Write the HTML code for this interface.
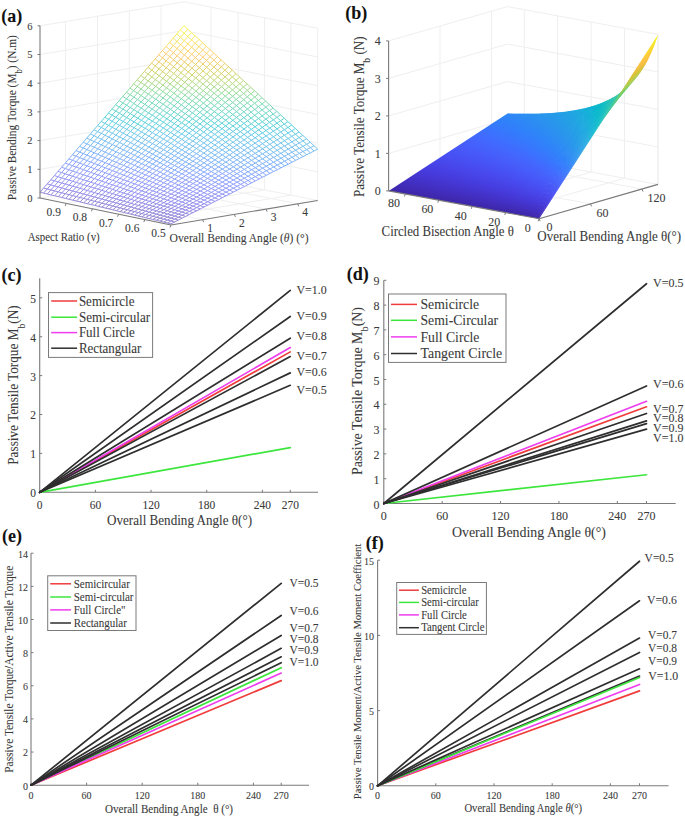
<!DOCTYPE html>
<html><head><meta charset="utf-8"><style>html,body{margin:0;padding:0;background:#fff;width:685px;height:816px;overflow:hidden}svg{display:block}</style></head><body>
<svg width="685" height="816" viewBox="0 0 685 816" font-family='"Liberation Serif", serif'>
<rect width="685" height="816" fill="#fff"/>
<g>
<polyline points="40.00,198.00 184.00,174.00 317.70,200.50" fill="none" stroke="#efefef" stroke-width="1"/>
<polyline points="40.00,169.30 184.00,145.30 317.70,171.80" fill="none" stroke="#efefef" stroke-width="1"/>
<polyline points="40.00,140.60 184.00,116.60 317.70,143.10" fill="none" stroke="#efefef" stroke-width="1"/>
<polyline points="40.00,111.90 184.00,87.90 317.70,114.40" fill="none" stroke="#efefef" stroke-width="1"/>
<polyline points="40.00,83.20 184.00,59.20 317.70,85.70" fill="none" stroke="#efefef" stroke-width="1"/>
<polyline points="40.00,54.50 184.00,30.50 317.70,57.00" fill="none" stroke="#efefef" stroke-width="1"/>
<polyline points="40.00,25.80 184.00,1.80 317.70,28.30" fill="none" stroke="#efefef" stroke-width="1"/>
<line x1="65.60" y1="193.73" x2="65.60" y2="21.53" stroke="#efefef" stroke-width="1.00"/>
<line x1="97.50" y1="188.42" x2="97.50" y2="16.22" stroke="#efefef" stroke-width="1.00"/>
<line x1="129.30" y1="183.12" x2="129.30" y2="10.92" stroke="#efefef" stroke-width="1.00"/>
<line x1="161.00" y1="177.83" x2="161.00" y2="5.63" stroke="#efefef" stroke-width="1.00"/>
<line x1="211.00" y1="179.35" x2="211.00" y2="7.15" stroke="#efefef" stroke-width="1.00"/>
<line x1="238.20" y1="184.74" x2="238.20" y2="12.54" stroke="#efefef" stroke-width="1.00"/>
<line x1="264.60" y1="189.98" x2="264.60" y2="17.78" stroke="#efefef" stroke-width="1.00"/>
<line x1="290.90" y1="195.19" x2="290.90" y2="22.99" stroke="#efefef" stroke-width="1.00"/>
<line x1="317.70" y1="200.50" x2="317.70" y2="28.30" stroke="#efefef" stroke-width="1.00"/>
<line x1="71.10" y1="192.82" x2="202.68" y2="219.71" stroke="#efefef" stroke-width="1.00"/>
<line x1="102.20" y1="187.63" x2="234.37" y2="214.42" stroke="#efefef" stroke-width="1.00"/>
<line x1="133.30" y1="182.45" x2="266.05" y2="209.13" stroke="#efefef" stroke-width="1.00"/>
<line x1="164.41" y1="177.27" x2="297.74" y2="203.83" stroke="#efefef" stroke-width="1.00"/>
<line x1="290.96" y1="195.20" x2="144.80" y2="219.60" stroke="#efefef" stroke-width="1.00"/>
<line x1="264.22" y1="189.90" x2="118.60" y2="214.20" stroke="#efefef" stroke-width="1.00"/>
<line x1="237.48" y1="184.60" x2="92.40" y2="208.80" stroke="#efefef" stroke-width="1.00"/>
<line x1="210.74" y1="179.30" x2="66.20" y2="203.40" stroke="#efefef" stroke-width="1.00"/>
<path d="M171.0 223.9L167.4 223.0L163.7 222.1L160.1 221.2L156.4 220.3L152.8 219.5L149.2 218.6L145.5 217.7L141.9 216.8L138.2 216.0L134.6 215.1L131.0 214.2L127.3 213.3L123.7 212.4L120.1 211.6L116.4 210.7L112.8 209.8L109.1 208.9L105.5 208.1L101.9 207.2L98.2 206.3L94.6 205.4L90.9 204.5L87.3 203.7L83.7 202.8L80.0 201.9L76.4 201.0L72.8 200.2L69.1 199.3L65.5 198.4L61.8 197.5L58.2 196.6L54.6 195.8L50.9 194.9L47.3 194.0L43.6 193.1L40.0 192.3L40.0 192.3L43.6 188.1L47.2 183.9L50.8 179.8L54.4 175.6L58.0 171.4L61.6 167.3L65.2 163.1L68.8 158.9L72.4 154.8L76.0 150.6L79.6 146.4L83.2 142.3L86.8 138.1L90.4 133.9L94.0 129.8L97.6 125.6L101.2 121.4L104.8 117.3L108.4 113.1L112.0 108.9L115.6 104.8L119.2 100.6L122.8 96.4L126.4 92.3L130.0 88.1L133.6 83.9L137.2 79.8L140.8 75.6L144.4 71.4L148.0 67.3L151.6 63.1L155.2 58.9L158.8 54.8L162.4 50.6L166.0 46.5L169.6 42.3L173.2 38.1L176.8 34.0L180.4 29.8L184.0 25.6L184.0 25.6L187.7 29.1L191.4 32.5L195.1 35.9L198.9 39.3L202.6 42.8L206.3 46.2L210.0 49.6L213.7 53.1L217.4 56.5L221.1 59.9L224.9 63.4L228.6 66.8L232.3 70.2L236.0 73.7L239.7 77.1L243.4 80.5L247.1 83.9L250.8 87.4L254.6 90.8L258.3 94.2L262.0 97.7L265.7 101.1L269.4 104.5L273.1 108.0L276.8 111.4L280.6 114.8L284.3 118.3L288.0 121.7L291.7 125.1L295.4 128.5L299.1 132.0L302.8 135.4L306.6 138.8L310.3 142.3L314.0 145.7L317.7 149.1L317.7 149.1L314.0 151.0L310.4 152.9L306.7 154.7L303.0 156.6L299.4 158.5L295.7 160.3L292.0 162.2L288.4 164.1L284.7 165.9L281.0 167.8L277.4 169.7L273.7 171.5L270.0 173.4L266.4 175.3L262.7 177.1L259.0 179.0L255.4 180.9L251.7 182.8L248.0 184.6L244.3 186.5L240.7 188.4L237.0 190.2L233.3 192.1L229.7 194.0L226.0 195.8L222.3 197.7L218.7 199.6L215.0 201.4L211.3 203.3L207.7 205.2L204.0 207.0L200.3 208.9L196.7 210.8L193.0 212.6L189.3 214.5L185.7 216.4L182.0 218.2L178.3 220.1L174.7 222.0L171.0 223.9Z" fill="#fff"/>
<path d="M171.0 223.9L174.7 222.0M160.1 221.2L156.4 220.3M156.4 220.3L152.8 219.5M152.8 219.5L149.2 218.6" stroke="#9588d1" stroke-width="1.00" fill="none"/>
<path d="M174.7 222.0L178.3 220.1M171.0 221.0L174.7 219.1M141.9 216.8L145.5 214.5M138.2 216.0L141.9 213.5M134.6 215.1L138.3 212.6M116.4 210.7L112.8 209.8M112.8 209.8L109.1 208.9M109.1 208.9L105.5 208.1M163.7 219.2L160.1 218.2M160.1 218.2L156.5 217.3" stroke="#9589d5" stroke-width="1.00" fill="none"/>
<path d="M178.3 220.1L182.0 218.2M152.8 216.3L156.5 214.1M112.8 209.8L116.4 206.9M109.1 208.9L112.8 206.0M83.7 202.8L80.0 201.9M80.0 201.9L76.4 201.0M76.4 201.0L72.8 200.2M141.9 213.5L138.3 212.6M138.3 212.6L134.6 211.6M171.0 218.1L167.4 217.1M167.4 217.1L163.8 216.1" stroke="#958ad8" stroke-width="1.00" fill="none"/>
<path d="M182.0 218.2L185.7 216.4M163.8 216.1L167.4 214.0M160.1 215.1L163.8 212.9M134.6 211.6L138.3 209.1M131.0 210.7L134.6 208.1M87.3 203.7L90.9 200.3M83.7 202.8L87.3 199.4M50.9 194.9L47.3 194.0M47.3 194.0L43.6 193.1M43.6 193.1L40.0 192.3M120.1 207.9L116.4 206.9M116.4 206.9L112.8 206.0M152.8 213.1L149.2 212.1M178.4 217.2L174.7 216.1M174.7 216.1L171.1 215.0" stroke="#968bdb" stroke-width="1.00" fill="none"/>
<path d="M185.7 216.4L189.3 214.5M145.6 211.1L149.2 208.6M112.8 206.0L116.4 203.0M58.2 196.6L61.8 192.8M54.6 195.8L58.2 191.9M94.6 201.3L90.9 200.3M134.6 208.1L131.0 207.0M163.8 212.9L160.1 211.8M182.0 215.2L178.4 214.1" stroke="#968cde" stroke-width="1.00" fill="none"/>
<path d="M189.3 214.5L193.0 212.6M69.1 194.7L65.4 193.7" stroke="#968ce2" stroke-width="1.00" fill="none"/>
<path d="M193.0 212.6L196.7 210.8M163.8 209.6L167.4 207.3M141.9 206.5L145.6 203.9M72.7 195.6L76.3 192.0M98.2 198.0L94.6 197.0" stroke="#968de5" stroke-width="1.00" fill="none"/>
<path d="M196.7 210.8L200.3 208.9M152.9 206.2L156.5 203.7M98.2 198.0L101.8 194.7M50.9 190.0L54.5 185.9M120.0 200.1L116.4 199.0M145.6 203.9L141.9 202.8" stroke="#968ee8" stroke-width="1.00" fill="none"/>
<path d="M200.3 208.9L204.0 207.0M189.4 208.1L193.0 206.1M160.2 204.9L163.8 202.6M141.9 202.8L145.6 200.2M116.4 199.0L120.0 196.0M83.6 194.0L87.2 190.5M105.5 195.8L101.8 194.7" stroke="#9690ea" stroke-width="1.00" fill="none"/>
<path d="M204.0 207.0L207.7 205.2M193.0 206.1L196.7 204.1M182.1 205.5L185.7 203.4M167.5 203.8L171.1 201.5M149.2 201.3L152.9 198.8M131.0 199.4L134.6 196.6M127.3 198.3L131.0 195.4M105.5 195.8L109.1 192.6M101.8 194.7L105.4 191.5M69.1 190.0L72.7 186.2M65.4 189.0L69.0 185.1M90.9 191.5L87.2 190.5M87.2 190.5L83.6 189.4M120.0 196.0L116.4 194.9M145.6 200.2L141.9 199.0M141.9 199.0L138.3 197.8M163.8 202.6L160.2 201.3M178.4 204.2L174.8 202.8M189.4 204.7L185.7 203.4" stroke="#9691ed" stroke-width="1.00" fill="none"/>
<path d="M207.7 205.2L211.3 203.3M196.7 204.1L200.4 202.1M185.7 203.4L189.4 201.2M174.8 202.8L178.4 200.6M160.2 201.3L163.8 198.9M141.9 199.0L145.6 196.3M120.0 196.0L123.7 193.0M90.9 191.5L94.5 188.1M50.8 184.9L54.4 180.8M47.2 183.9L50.8 179.8M76.3 187.2L72.7 186.2M109.1 192.6L105.4 191.5M134.6 196.6L131.0 195.4M152.9 198.8L149.2 197.5M171.1 201.5L167.5 200.2M196.7 204.1L193.0 202.7M207.7 205.2L204.0 203.7" stroke="#9692ef" stroke-width="1.00" fill="none"/>
<path d="M211.3 203.3L215.0 201.4M193.0 202.7L196.7 200.6M167.5 200.2L171.1 197.8M152.9 198.8L156.5 196.2M109.1 192.6L112.7 189.4M80.0 188.3L83.6 184.7M65.4 184.0L61.7 183.0M98.2 189.2L94.5 188.1M127.3 194.2L123.7 193.0M163.8 198.9L160.2 197.5M178.4 200.6L174.8 199.2M211.3 203.3L207.7 201.7" stroke="#9693f1" stroke-width="1.00" fill="none"/>
<path d="M215.0 201.4L218.7 199.6M204.0 200.1L207.7 198.1M196.7 200.6L200.4 198.6M185.7 199.8L189.4 197.6M171.1 197.8L174.8 195.4M156.5 196.2L160.1 193.6M141.9 195.0L145.5 192.2M123.7 193.0L127.3 190.0M120.0 191.8L123.7 188.7M98.2 189.2L101.8 185.8M94.5 188.1L98.1 184.6M65.4 184.0L69.0 180.1M61.7 183.0L65.3 179.0M87.2 185.8L83.6 184.7M83.6 184.7L79.9 183.5M112.7 189.4L109.1 188.2M134.6 192.5L131.0 191.2M152.8 194.9L149.2 193.6M167.5 196.4L163.8 195.0M182.1 198.3L178.4 196.9M193.0 199.1L189.4 197.6M204.0 200.1L200.4 198.6" stroke="#9695f3" stroke-width="1.00" fill="none"/>
<path d="M218.7 199.6L222.3 197.7M211.3 199.8L215.0 197.9M200.4 198.6L204.0 196.5M193.0 199.1L196.7 197.0M182.1 198.3L185.7 196.1M167.5 196.4L171.1 194.0M152.8 194.9L156.5 192.2M138.3 193.7L141.9 190.9M134.6 192.5L138.2 189.6M116.4 190.6L120.0 187.4M112.7 189.4L116.4 186.2M90.9 186.9L94.5 183.4M87.2 185.8L90.8 182.2M58.1 181.9L61.7 177.9M54.4 180.8L58.0 176.7M50.8 179.8L54.4 175.6M79.9 183.5L76.3 182.4M76.3 182.4L72.6 181.3M109.1 188.2L105.4 187.0M105.4 187.0L101.8 185.8M131.0 191.2L127.3 190.0M127.3 190.0L123.7 188.7M149.2 193.6L145.5 192.2M163.8 195.0L160.1 193.6M178.4 196.9L174.8 195.4M189.4 197.6L185.7 196.1M200.4 198.6L196.7 197.0M211.3 199.8L207.7 198.1M218.7 199.6L215.0 197.9" stroke="#9696f4" stroke-width="1.00" fill="none"/>
<path d="M222.3 197.7L226.0 195.8M215.0 197.9L218.7 195.9M204.0 196.5L207.7 194.4M193.0 195.4L196.7 193.2M185.7 196.1L189.4 193.8M171.1 194.0L174.8 191.5M160.1 193.6L163.8 191.1M156.5 192.2L160.1 189.6M145.5 192.2L149.2 189.5M141.9 190.9L145.5 188.1M127.3 190.0L130.9 186.9M123.7 188.7L127.3 185.6M105.4 187.0L109.1 183.7M101.8 185.8L105.4 182.4M76.3 182.4L79.9 178.6M72.6 181.3L76.2 177.4M61.7 177.9L58.0 176.7M58.0 176.7L54.4 175.6M94.5 183.4L90.8 182.2M90.8 182.2L87.2 181.0M120.0 187.4L116.4 186.2M116.4 186.2L112.7 184.9M138.2 189.6L134.6 188.3M156.5 192.2L152.8 190.9M152.8 190.9L149.2 189.5M171.1 194.0L167.4 192.5M167.4 192.5L163.8 191.1M182.1 194.6L178.4 193.0M193.0 195.4L189.4 193.8M204.0 196.5L200.4 194.9M211.4 196.2L207.7 194.4M222.3 197.7L218.7 195.9" stroke="#9698f6" stroke-width="1.00" fill="none"/>
<path d="M226.0 195.8L229.7 194.0M218.7 195.9L222.3 194.0M211.4 196.2L215.0 194.2M200.4 194.9L204.0 192.7M189.4 193.8L193.0 191.6M178.4 193.0L182.1 190.7M167.4 192.5L171.1 190.0M152.8 190.9L156.5 188.2M138.2 189.6L141.9 186.7M120.0 187.4L123.6 184.3M116.4 186.2L120.0 183.0M98.1 184.6L101.8 181.1M94.5 183.4L98.1 179.9M69.0 180.1L72.6 176.2M65.3 179.0L68.9 175.0M87.2 181.0L83.5 179.8M83.5 179.8L79.9 178.6M112.7 184.9L109.1 183.7M109.1 183.7L105.4 182.4M134.6 188.3L130.9 186.9M130.9 186.9L127.3 185.6M149.2 189.5L145.5 188.1M163.8 191.1L160.1 189.6M178.4 193.0L174.8 191.5M189.4 193.8L185.7 192.2M200.4 194.9L196.7 193.2M218.7 195.9L215.0 194.2M226.0 195.8L222.3 194.0" stroke="#9599f7" stroke-width="1.00" fill="none"/>
<path d="M229.7 194.0L233.3 192.1M222.3 194.0L226.0 192.1M109.1 183.7L112.7 180.3M54.4 175.6L58.0 171.4M101.8 181.1L98.1 179.9M123.6 184.3L120.0 183.0M141.9 186.7L138.2 185.3M171.1 190.0L167.4 188.5M204.0 192.7L200.4 191.0M229.7 194.0L226.0 192.1" stroke="#959bf8" stroke-width="1.00" fill="none"/>
<path d="M233.3 192.1L237.0 190.2M226.0 192.1L229.7 190.1M200.4 191.0L204.0 188.8M189.4 189.9L193.0 187.6M178.4 189.1L182.1 186.6M167.4 188.5L171.1 185.9M152.8 186.7L156.5 183.9M138.2 185.3L141.9 182.4M120.0 183.0L123.6 179.8M61.6 172.6L58.0 171.4M90.8 177.3L87.2 176.1M134.6 183.9L130.9 182.5M149.2 185.3L145.5 183.8M163.8 187.0L160.1 185.5M207.7 190.6L204.0 188.8M233.3 192.1L229.7 190.1" stroke="#959cfa" stroke-width="1.00" fill="none"/>
<path d="M237.0 190.2L240.7 188.4M229.7 190.1L233.3 188.2M211.3 188.5L215.0 186.4M204.0 188.8L207.7 186.7M193.0 187.6L196.7 185.3M185.7 188.3L189.4 185.9M171.1 185.9L174.7 183.4M160.1 185.5L163.8 182.8M145.5 183.8L149.2 180.9M130.9 182.5L134.5 179.5M112.7 180.3L116.3 177.0M90.8 177.3L94.4 173.7M87.2 176.1L90.8 172.4M65.3 173.8L68.9 169.8M61.6 172.6L65.3 168.5M83.5 174.8L79.9 173.6M79.9 173.6L76.2 172.3M105.4 177.7L101.7 176.3M127.3 181.1L123.6 179.8M123.6 179.8L120.0 178.4M141.9 182.4L138.2 180.9M156.5 183.9L152.8 182.4M171.1 185.9L167.4 184.3M182.1 186.6L178.4 185.0M193.0 187.6L189.4 185.9M204.0 188.8L200.4 187.1M211.3 188.5L207.7 186.7M229.7 190.1L226.0 188.2M237.0 190.2L233.3 188.2" stroke="#949efb" stroke-width="1.00" fill="none"/>
<path d="M240.7 188.4L244.3 186.5M233.3 188.2L237.0 186.3M226.0 188.2L229.7 186.2M200.4 187.1L204.0 184.8M156.5 183.9L160.1 181.2M141.9 182.4L145.5 179.4M105.4 177.7L109.0 174.2M83.5 174.8L87.1 171.0M98.1 175.0L94.4 173.7M120.0 178.4L116.3 177.0M152.8 182.4L149.2 180.9M178.4 185.0L174.7 183.4M189.4 185.9L185.7 184.2M226.0 188.2L222.3 186.2M233.3 188.2L229.7 186.2M240.7 188.4L237.0 186.3" stroke="#949ffc" stroke-width="1.00" fill="none"/>
<path d="M244.3 186.5L248.0 184.6M222.3 186.2L226.0 184.1M163.8 182.8L167.4 180.1M65.3 168.5L61.6 167.3M90.8 172.4L87.1 171.0M112.6 175.6L109.0 174.2M130.9 178.0L127.2 176.5M229.7 186.2L226.0 184.1" stroke="#93a1fc" stroke-width="1.00" fill="none"/>
<path d="M248.0 184.6L251.7 182.8M240.7 184.3L244.3 182.4M233.3 184.2L237.0 182.2M226.0 184.1L229.7 182.1M218.7 184.2L222.3 182.1M211.3 184.5L215.0 182.3M193.0 183.5L196.7 181.2M182.0 182.5L185.7 180.0M171.1 181.7L174.7 179.1M160.1 181.2L163.8 178.4M145.5 179.4L149.1 176.4M130.9 178.0L134.5 174.9M112.6 175.6L116.3 172.2M90.8 172.4L94.4 168.6M68.9 169.8L72.5 165.7M65.3 168.5L68.9 164.4M83.5 169.7L79.8 168.4M105.3 172.8L101.7 171.4M123.6 175.1L119.9 173.6M141.8 177.9L138.2 176.4M156.4 179.6L152.8 178.0M167.4 180.1L163.8 178.4M200.3 183.0L196.7 181.2M218.7 184.2L215.0 182.3M226.0 184.1L222.3 182.1M233.3 184.2L229.7 182.1M240.7 184.3L237.0 182.2M248.0 184.6L244.3 182.4" stroke="#92a2fd" stroke-width="1.00" fill="none"/>
<path d="M251.7 182.8L255.4 180.9M244.3 182.4L248.0 180.5M237.0 182.2L240.7 180.2M229.7 182.1L233.3 180.0M222.3 182.1L226.0 180.0M215.0 182.3L218.7 180.1M196.7 181.2L200.3 178.8M185.7 180.0L189.3 177.5M174.7 179.1L178.4 176.4M163.8 178.4L167.4 175.7M152.8 178.0L156.4 175.1M138.2 176.4L141.8 173.3M123.6 175.1L127.2 171.8M119.9 173.6L123.5 170.3M105.3 172.8L109.0 169.3M101.7 171.4L105.3 167.8M83.5 169.7L87.1 165.9M79.8 168.4L83.4 164.5M72.5 165.7L68.9 164.4M98.0 170.0L94.4 168.6M116.3 172.2L112.6 170.7M134.5 174.9L130.9 173.3M149.1 176.4L145.5 174.9M174.7 179.1L171.1 177.4M185.7 180.0L182.0 178.2M204.0 180.7L200.3 178.8M222.3 182.1L218.7 180.1M229.7 182.1L226.0 180.0M237.0 182.2L233.3 180.0M244.3 182.4L240.7 180.2M251.7 182.8L248.0 180.5" stroke="#91a4fe" stroke-width="1.00" fill="none"/>
<path d="M255.4 180.9L259.0 179.0M211.3 180.3L215.0 178.1M193.0 179.3L196.7 176.9M160.1 176.8L163.7 174.0M134.5 174.9L138.2 171.7M116.3 172.2L119.9 168.8M98.0 170.0L101.6 166.4M76.2 167.1L79.8 163.1M68.9 164.4L65.2 163.1M90.7 167.3L87.1 165.9M112.6 170.7L109.0 169.3M145.5 174.9L141.8 173.3M171.1 177.4L167.4 175.7M182.0 178.2L178.4 176.4M211.3 180.3L207.7 178.4M218.7 180.1L215.0 178.1M255.4 180.9L251.7 178.5" stroke="#90a5fe" stroke-width="1.00" fill="none"/>
<path d="M259.0 179.0L262.7 177.1M207.7 178.4L211.3 176.0M189.3 177.5L193.0 175.0M178.4 176.4L182.0 173.8M167.4 175.7L171.0 172.9M156.4 175.1L160.1 172.2M141.8 173.3L145.4 170.2M127.2 171.8L130.8 168.5M109.0 169.3L112.6 165.8M90.7 167.3L94.3 163.5M68.9 164.4L72.5 160.3M83.4 164.5L79.8 163.1M105.3 167.8L101.6 166.4M123.5 170.3L119.9 168.8M138.2 171.7L134.5 170.1M152.8 173.5L149.1 171.9M196.7 176.9L193.0 175.0M207.7 178.4L204.0 176.4M215.0 178.1L211.3 176.0M259.0 179.0L255.3 176.6" stroke="#8fa7fe" stroke-width="1.00" fill="none"/>
<path d="M262.7 177.1L266.4 175.3M255.3 176.6L259.0 174.7M211.3 176.0L215.0 173.7M193.0 175.0L196.6 172.5M149.1 171.9L152.7 168.8M134.5 170.1L138.1 166.9M119.9 168.8L123.5 165.4M101.6 166.4L105.3 162.7M83.4 164.5L87.0 160.6M76.1 161.7L72.5 160.3M98.0 164.9L94.3 163.5M116.2 167.3L112.6 165.8M130.8 168.5L127.2 167.0M145.4 170.2L141.8 168.6M160.1 172.2L156.4 170.5M171.0 172.9L167.4 171.1M182.0 173.8L178.3 172.0M193.0 175.0L189.3 173.1M211.3 176.0L207.6 174.0M218.6 175.8L215.0 173.7M255.3 176.6L251.7 174.2M262.7 177.1L259.0 174.7" stroke="#8da9ff" stroke-width="1.00" fill="none"/>
<path d="M266.4 175.3L270.0 173.4M200.3 174.4L204.0 172.0M145.4 170.2L149.1 167.1M98.0 164.9L101.6 161.2M127.2 167.0L123.5 165.4M189.3 173.1L185.7 171.2" stroke="#8baaff" stroke-width="1.00" fill="none"/>
<path d="M270.0 173.4L273.7 171.5M244.3 173.8L248.0 171.8M237.0 173.6L240.6 171.5M229.6 173.5L233.3 171.3M222.3 173.6L225.9 171.3M196.6 172.5L200.3 170.0M152.7 168.8L156.4 165.8M127.2 167.0L130.8 163.6M108.9 164.2L112.5 160.7M90.7 162.0L94.3 158.2M105.3 162.7L101.6 161.2M138.1 166.9L134.5 165.3M163.7 169.4L160.0 167.6M174.7 170.1L171.0 168.3M185.7 171.2L182.0 169.3M204.0 172.0L200.3 170.0M229.6 173.5L225.9 171.3M237.0 173.6L233.3 171.3M244.3 173.8L240.6 171.5M270.0 173.4L266.3 170.8" stroke="#89acff" stroke-width="1.00" fill="none"/>
<path d="M273.7 171.5L277.4 169.7M248.0 171.8L251.6 169.7M218.6 171.4L222.3 169.1M193.0 170.5L196.6 167.9M149.1 167.1L152.7 164.0M105.3 162.7L108.9 159.1M79.7 157.7L76.1 156.2M116.2 162.2L112.5 160.7M171.0 168.3L167.3 166.5M182.0 169.3L178.3 167.4M218.6 171.4L214.9 169.3M225.9 171.3L222.3 169.1M248.0 171.8L244.3 169.4M255.3 172.2L251.6 169.7" stroke="#87aefe" stroke-width="1.00" fill="none"/>
<path d="M277.4 169.7L281.0 167.8M141.7 163.7L138.1 162.0" stroke="#85b0fe" stroke-width="1.00" fill="none"/>
<path d="M281.0 167.8L284.7 165.9M270.0 168.9L273.7 166.9M262.6 168.2L266.3 166.2M203.9 167.5L207.6 164.9M185.6 166.6L189.3 163.9M152.7 164.0L156.3 161.0M141.7 163.7L145.4 160.5M127.1 162.0L130.8 158.6M112.5 160.7L116.2 157.1M94.3 158.2L97.9 154.3M72.4 154.8L76.0 150.6M87.0 155.1L83.3 153.6M105.2 157.5L101.6 155.9M123.5 160.3L119.8 158.7M138.1 162.0L134.4 160.3M163.7 164.6L160.0 162.8M174.6 165.5L171.0 163.6M185.6 166.6L182.0 164.6M203.9 167.5L200.3 165.4M270.0 168.9L266.3 166.2" stroke="#83b1fd" stroke-width="1.00" fill="none"/>
<path d="M284.7 165.9L288.4 164.1M266.3 166.2L270.0 164.2M200.3 165.4L203.9 162.8M171.0 163.6L174.6 160.7M160.0 162.8L163.6 159.8M134.4 160.3L138.0 157.0M119.8 158.7L123.4 155.2M105.2 157.5L108.8 153.8M87.0 155.1L90.6 151.2M79.7 152.1L76.0 150.6M116.2 157.1L112.5 155.4M130.8 158.6L127.1 156.9M145.4 160.5L141.7 158.7M189.3 163.9L185.6 161.9M207.6 164.9L203.9 162.8M266.3 166.2L262.6 163.6M284.7 165.9L281.0 163.1" stroke="#81b3fc" stroke-width="1.00" fill="none"/>
<path d="M288.4 164.1L292.0 162.2M277.3 165.0L281.0 163.1M251.6 165.1L255.3 163.0M214.9 164.7L218.6 162.2M189.3 163.9L192.9 161.2M178.3 162.7L181.9 159.8M156.3 161.0L160.0 157.9M145.4 160.5L149.0 157.3M130.8 158.6L134.4 155.2M116.2 157.1L119.8 153.5M101.6 155.9L105.2 152.1M83.3 153.6L86.9 149.6M112.5 155.4L108.8 153.8M141.7 158.7L138.0 157.0M167.3 161.7L163.6 159.8M178.3 162.7L174.6 160.7M196.6 163.3L192.9 161.2M214.9 164.7L211.2 162.4M222.2 164.5L218.6 162.2M251.6 165.1L247.9 162.6M259.0 165.6L255.3 163.0M277.3 165.0L273.6 162.2" stroke="#81b4fb" stroke-width="1.00" fill="none"/>
<path d="M292.0 162.2L295.7 160.3M281.0 163.1L284.7 161.2M262.6 163.6L266.3 161.5M255.3 163.0L258.9 160.9M247.9 162.6L251.6 160.4M218.6 162.2L222.2 159.8M211.2 162.4L214.9 159.9M192.9 161.2L196.6 158.5M185.6 161.9L189.2 159.1M174.6 160.7L178.3 157.8M163.6 159.8L167.3 156.8M152.7 159.1L156.3 156.0M127.1 156.9L130.7 153.4M112.5 155.4L116.1 151.8M94.2 152.8L97.8 148.8M76.0 150.6L79.6 146.4M90.6 151.2L86.9 149.6M123.4 155.2L119.8 153.5M138.0 157.0L134.4 155.2M149.0 157.3L145.3 155.5M192.9 161.2L189.2 159.1M211.2 162.4L207.6 160.2M218.6 162.2L214.9 159.9M255.3 163.0L251.6 160.4M262.6 163.6L258.9 160.9M281.0 163.1L277.3 160.2" stroke="#80b6fa" stroke-width="1.00" fill="none"/>
<path d="M295.7 160.3L299.4 158.5M170.9 158.7L174.6 155.8M160.0 157.9L163.6 154.8M83.3 148.0L79.6 146.4M101.5 150.5L97.8 148.8M145.3 155.5L141.7 153.6M189.2 159.1L185.6 157.0M207.6 160.2L203.9 158.0M266.3 161.5L262.6 158.8M284.7 161.2L281.0 158.2" stroke="#7fb8f9" stroke-width="1.00" fill="none"/>
<path d="M299.4 158.5L303.0 156.6M269.9 159.4L273.6 157.4M196.6 158.5L200.2 155.8M167.3 156.8L170.9 153.7M156.3 156.0L159.9 152.8M130.7 153.4L134.3 150.0M116.1 151.8L119.7 148.1M101.5 150.5L105.1 146.6M83.3 148.0L86.9 143.9M112.4 150.1L108.8 148.3M127.1 151.6L123.4 149.9M141.7 153.6L138.0 151.8M185.6 157.0L181.9 154.9M288.3 159.2L284.6 156.2" stroke="#7fb9f7" stroke-width="1.00" fill="none"/>
<path d="M303.0 156.6L306.7 154.7M273.6 157.4L277.3 155.3M247.9 157.8L251.5 155.6M218.5 157.4L222.2 154.9M192.9 156.3L196.5 153.6M163.6 154.8L167.2 151.7M127.1 151.6L130.7 148.1M112.4 150.1L116.1 146.3M90.5 145.6L86.9 143.9M123.4 149.9L119.7 148.1M218.5 157.4L214.9 155.1M225.9 157.3L222.2 154.9M247.9 157.8L244.2 155.2M255.2 158.2L251.5 155.6" stroke="#7ebbf6" stroke-width="1.00" fill="none"/>
<path d="M306.7 154.7L310.4 152.9M295.7 155.4L299.3 153.4M284.6 156.2L288.3 154.2M266.2 156.6L269.9 154.5M200.2 155.8L203.8 153.1M181.9 154.9L185.5 152.0M170.9 153.7L174.5 150.7M159.9 152.8L163.6 149.7M149.0 152.2L152.6 148.9M123.4 149.9L127.0 146.3M108.8 148.3L112.4 144.6M86.9 143.9L83.2 142.3M105.1 146.6L101.5 144.9M119.7 148.1L116.1 146.3M134.3 150.0L130.7 148.1M189.2 154.2L185.5 152.0M207.5 155.4L203.8 153.1M266.2 156.6L262.5 153.8M284.6 156.2L280.9 153.3" stroke="#7dbcf5" stroke-width="1.00" fill="none"/>
<path d="M310.4 152.9L314.0 151.0M299.3 153.4L303.0 151.5M130.7 148.1L134.3 144.6M97.8 143.2L94.1 141.5M141.6 148.4L138.0 146.5M185.5 152.0L181.9 149.9M203.8 153.1L200.2 150.8M269.9 154.5L266.2 151.7M288.3 154.2L284.6 151.2" stroke="#7bbef3" stroke-width="1.00" fill="none"/>
<path d="M314.0 151.0L317.7 149.1M303.0 151.5L306.7 149.6M292.0 152.2L295.6 150.2M247.9 152.9L251.5 150.6M218.5 152.5L222.1 149.9M192.8 151.4L196.5 148.5M174.5 150.7L178.2 147.7M163.6 149.7L167.2 146.6M152.6 148.9L156.2 145.6M94.1 141.5L90.5 139.8M138.0 146.5L134.3 144.6M218.5 152.5L214.8 150.1M225.8 152.4L222.1 149.9M247.9 152.9L244.2 150.2M255.2 153.3L251.5 150.6M280.9 153.3L277.2 150.3" stroke="#7abff2" stroke-width="1.00" fill="none"/>
<path d="M167.4 223.0L171.0 221.0M163.7 222.1L167.4 220.1M160.1 221.2L163.7 219.2M149.2 218.6L145.5 217.7M145.5 217.7L141.9 216.8M141.9 216.8L138.2 216.0" stroke="#9588d2" stroke-width="1.00" fill="none"/>
<path d="M174.7 219.1L178.4 217.2M149.2 215.4L152.8 213.1M105.5 208.1L109.1 205.0M72.8 200.2L69.1 199.3M134.6 211.6L131.0 210.7" stroke="#958ad9" stroke-width="1.00" fill="none"/>
<path d="M178.4 217.2L182.0 215.2M156.5 214.1L160.1 211.8M127.3 209.7L131.0 207.0M80.0 201.9L83.6 198.4M76.4 201.0L80.0 197.5M72.8 200.2L76.4 196.6M112.8 206.0L109.1 205.0M109.1 205.0L105.5 204.1M149.2 212.1L145.6 211.1M145.6 211.1L141.9 210.1M171.1 215.0L167.4 214.0" stroke="#968bdc" stroke-width="1.00" fill="none"/>
<path d="M182.0 215.2L185.7 213.3M167.4 214.0L171.1 211.8M141.9 210.1L145.6 207.6M109.1 205.0L112.8 202.0M105.5 204.1L109.1 201.0M50.9 194.9L54.5 190.9M47.3 194.0L50.9 190.0M90.9 200.3L87.3 199.4M87.3 199.4L83.6 198.4M131.0 207.0L127.3 206.0M160.1 211.8L156.5 210.8M178.4 214.1L174.7 213.0" stroke="#968cdf" stroke-width="1.00" fill="none"/>
<path d="M185.7 213.3L189.4 211.4M171.1 211.8L174.7 209.7M149.2 208.6L152.9 206.2M123.7 205.0L127.3 202.2M83.6 198.4L87.3 195.0M80.0 197.5L83.6 194.0M58.2 191.9L54.5 190.9M54.5 190.9L50.9 190.0M109.1 201.0L105.5 200.0M141.9 206.5L138.3 205.4M163.8 209.6L160.1 208.4M182.0 212.1L178.4 210.9" stroke="#968de3" stroke-width="1.00" fill="none"/>
<path d="M189.4 211.4L193.0 209.5M174.7 209.7L178.4 207.6M160.1 208.4L163.8 206.1M138.3 205.4L141.9 202.8M109.1 201.0L112.8 197.9M105.5 200.0L109.1 196.9M65.4 193.7L69.1 190.0M61.8 192.8L65.4 189.0M90.9 196.0L87.3 195.0M127.3 202.2L123.7 201.1M152.9 206.2L149.2 205.1M171.1 208.5L167.4 207.3M185.7 210.1L182.1 208.9" stroke="#968ee6" stroke-width="1.00" fill="none"/>
<path d="M193.0 209.5L196.7 207.5M163.8 206.1L167.5 203.8M145.6 203.9L149.2 201.3M123.7 201.1L127.3 198.3M90.9 196.0L94.5 192.6M43.6 188.1L47.2 183.9M72.7 191.0L69.1 190.0M112.8 197.9L109.1 196.9M141.9 202.8L138.3 201.7M138.3 201.7L134.6 200.5M160.2 204.9L156.5 203.7M178.4 207.6L174.8 206.3M189.4 208.1L185.7 206.8" stroke="#968fe9" stroke-width="1.00" fill="none"/>
<path d="M196.7 207.5L200.4 205.6M171.1 205.1L174.8 202.8M134.6 200.5L138.3 197.8M109.1 196.9L112.7 193.7M72.7 191.0L76.3 187.2M54.5 185.9L50.8 184.9M50.8 184.9L47.2 183.9M98.2 193.7L94.5 192.6M94.5 192.6L90.9 191.5M127.3 198.3L123.7 197.1M149.2 201.3L145.6 200.2M167.5 203.8L163.8 202.6M182.1 205.5L178.4 204.2M193.0 206.1L189.4 204.7M204.0 207.0L200.4 205.6" stroke="#9690ec" stroke-width="1.00" fill="none"/>
<path d="M200.4 205.6L204.0 203.7M189.4 204.7L193.0 202.7M145.6 200.2L149.2 197.5M123.7 197.1L127.3 194.2M94.5 192.6L98.2 189.2M58.1 186.9L61.7 183.0M54.5 185.9L58.1 181.9M80.0 188.3L76.3 187.2M112.7 193.7L109.1 192.6M138.3 197.8L134.6 196.6M156.5 200.0L152.9 198.8M185.7 203.4L182.1 202.0" stroke="#9692ee" stroke-width="1.00" fill="none"/>
<path d="M204.0 203.7L207.7 201.7M182.1 202.0L185.7 199.8M171.1 201.5L174.8 199.2M156.5 200.0L160.2 197.5M138.3 197.8L141.9 195.0M134.6 196.6L138.3 193.7M116.4 194.9L120.0 191.8M112.7 193.7L116.4 190.6M87.2 190.5L90.9 186.9M83.6 189.4L87.2 185.8M69.0 185.1L65.4 184.0M105.4 191.5L101.8 190.3M101.8 190.3L98.2 189.2M131.0 195.4L127.3 194.2M149.2 197.5L145.6 196.3M167.5 200.2L163.8 198.9M182.1 202.0L178.4 200.6M193.0 202.7L189.4 201.2M204.0 203.7L200.4 202.1" stroke="#9693f0" stroke-width="1.00" fill="none"/>
<path d="M207.7 201.7L211.3 199.8M189.4 201.2L193.0 199.1M163.8 198.9L167.5 196.4M145.6 196.3L149.2 193.6M127.3 194.2L131.0 191.2M101.8 190.3L105.4 187.0M72.7 186.2L76.3 182.4M69.0 185.1L72.6 181.3M54.4 180.8L50.8 179.8M90.9 186.9L87.2 185.8M120.0 191.8L116.4 190.6M141.9 195.0L138.3 193.7M160.2 197.5L156.5 196.2M174.8 199.2L171.1 197.8M185.7 199.8L182.1 198.3M196.7 200.6L193.0 199.1M207.7 201.7L204.0 200.1" stroke="#9694f2" stroke-width="1.00" fill="none"/>
<path d="M237.0 186.3L240.7 184.3M229.7 186.2L233.3 184.2M204.0 184.8L207.7 182.6M185.7 184.2L189.4 181.8M174.7 183.4L178.4 180.8M149.2 180.9L152.8 178.0M134.5 179.5L138.2 176.4M116.3 177.0L119.9 173.6M98.1 175.0L101.7 171.4M94.4 173.7L98.0 170.0M72.6 171.0L76.2 167.1M87.1 171.0L83.5 169.7M109.0 174.2L105.3 172.8M127.2 176.5L123.6 175.1M145.5 179.4L141.8 177.9M160.1 181.2L156.4 179.6M171.1 181.7L167.4 180.1M182.0 182.5L178.4 180.8M193.0 183.5L189.4 181.8M204.0 184.8L200.3 183.0M211.3 184.5L207.7 182.6M237.0 186.3L233.3 184.2M244.3 186.5L240.7 184.3" stroke="#93a1fd" stroke-width="1.00" fill="none"/>
<path d="M248.0 180.5L251.7 178.5M240.7 180.2L244.3 178.2M233.3 180.0L237.0 178.0M226.0 180.0L229.6 177.9M218.7 180.1L222.3 177.9M200.3 178.8L204.0 176.4M182.0 178.2L185.7 175.6M171.1 177.4L174.7 174.7M145.5 174.9L149.1 171.9M130.9 173.3L134.5 170.1M94.4 168.6L98.0 164.9M72.5 165.7L76.1 161.7M87.1 165.9L83.4 164.5M109.0 169.3L105.3 167.8M127.2 171.8L123.5 170.3M141.8 173.3L138.2 171.7M156.4 175.1L152.8 173.5M167.4 175.7L163.7 174.0M189.3 177.5L185.7 175.6M200.3 178.8L196.7 176.9M226.0 180.0L222.3 177.9M233.3 180.0L229.6 177.9M240.7 180.2L237.0 178.0M248.0 180.5L244.3 178.2" stroke="#90a6fe" stroke-width="1.00" fill="none"/>
<path d="M251.7 178.5L255.3 176.6M215.0 178.1L218.6 175.8" stroke="#8ea7fe" stroke-width="1.00" fill="none"/>
<path d="M259.0 174.7L262.7 172.7M207.6 174.0L211.3 171.6M189.3 173.1L193.0 170.5M130.8 168.5L134.5 165.3M76.1 161.7L79.7 157.7M90.7 162.0L87.0 160.6M108.9 164.2L105.3 162.7M141.8 168.6L138.1 166.9M167.4 171.1L163.7 169.4M178.3 172.0L174.7 170.1M207.6 174.0L204.0 172.0M266.4 175.3L262.7 172.7" stroke="#8babff" stroke-width="1.00" fill="none"/>
<path d="M262.7 172.7L266.3 170.8M204.0 172.0L207.6 169.5M185.7 171.2L189.3 168.5M174.7 170.1L178.3 167.4M163.7 169.4L167.3 166.5M138.1 166.9L141.7 163.7M123.5 165.4L127.1 162.0M68.8 158.9L72.4 154.8M83.4 159.1L79.7 157.7M119.9 163.8L116.2 162.2M149.1 167.1L145.4 165.4" stroke="#88adff" stroke-width="1.00" fill="none"/>
<path d="M266.3 170.8L270.0 168.9M200.3 170.0L203.9 167.5M171.0 168.3L174.6 165.5M101.6 161.2L105.2 157.5M76.1 156.2L72.4 154.8" stroke="#86affe" stroke-width="1.00" fill="none"/>
<path d="M273.7 166.9L277.3 165.0M255.3 167.7L259.0 165.6M247.9 167.3L251.6 165.1M218.6 166.9L222.2 164.5M192.9 165.9L196.6 163.3M138.1 162.0L141.7 158.7M123.5 160.3L127.1 156.9M90.6 156.7L94.2 152.8M83.3 153.6L79.7 152.1M101.6 155.9L97.9 154.3M119.8 158.7L116.2 157.1M134.4 160.3L130.8 158.6M160.0 162.8L156.3 161.0M171.0 163.6L167.3 161.7M182.0 164.6L178.3 162.7M218.6 166.9L214.9 164.7M225.9 166.8L222.2 164.5M247.9 167.3L244.3 164.8M255.3 167.7L251.6 165.1" stroke="#82b2fc" stroke-width="1.00" fill="none"/>
<path d="M284.7 161.2L288.3 159.2M266.3 161.5L269.9 159.4M200.2 160.6L203.9 158.0M181.9 159.8L185.6 157.0M149.0 157.3L152.6 154.1M90.6 151.2L94.2 147.2" stroke="#7fb7f9" stroke-width="1.00" fill="none"/>
<path d="M288.3 159.2L292.0 157.3M244.2 160.1L247.9 157.8M236.9 159.8L240.5 157.5M229.5 159.7L233.2 157.4M222.2 159.8L225.9 157.3M178.3 157.8L181.9 154.9M145.3 155.5L149.0 152.2M97.8 148.8L94.2 147.2M196.6 158.5L192.9 156.3M222.2 159.8L218.5 157.4M229.5 159.7L225.9 157.3M236.9 159.8L233.2 157.4M244.2 160.1L240.5 157.5M251.6 160.4L247.9 157.8M277.3 160.2L273.6 157.4" stroke="#7fb9f8" stroke-width="1.00" fill="none"/>
<path d="M292.0 157.3L295.7 155.4M255.2 158.2L258.9 156.0M211.2 157.7L214.9 155.1M174.6 155.8L178.2 152.8M152.6 154.1L156.3 150.9M97.8 148.8L101.5 144.9M79.6 146.4L83.2 142.3M108.8 148.3L105.1 146.6M138.0 151.8L134.3 150.0M192.9 156.3L189.2 154.2M262.6 158.8L258.9 156.0M281.0 158.2L277.3 155.3" stroke="#7ebaf6" stroke-width="1.00" fill="none"/>
<path d="M306.7 149.6L310.3 147.6M277.2 150.3L280.9 148.1M251.5 150.6L255.2 148.3M214.8 150.1L218.5 147.5M189.2 149.1L192.8 146.2M159.9 147.7L163.5 144.5M123.3 144.5L127.0 140.8M108.7 142.8L112.3 138.9M105.1 141.0L101.4 139.2M119.7 142.6L116.0 140.8M145.2 145.0L141.6 143.0M178.2 147.7L174.5 145.6M214.8 150.1L211.1 147.7M222.1 149.9L218.5 147.5M251.5 150.6L247.8 147.8M258.9 151.1L255.2 148.3M295.6 150.2L291.9 147.1" stroke="#78c1f1" stroke-width="1.00" fill="none"/>
<path d="M310.3 147.6L314.0 145.7M299.3 148.3L302.9 146.3M262.5 148.8L266.2 146.6M203.8 148.0L207.4 145.3M167.2 146.6L170.8 143.4M156.2 145.6L159.8 142.4M105.1 141.0L108.7 137.1M116.0 140.8L112.3 138.9M141.6 143.0L137.9 141.1M185.5 146.9L181.8 144.7M203.8 148.0L200.1 145.7M269.9 149.5L266.2 146.6M288.2 149.1L284.5 146.0" stroke="#77c2f0" stroke-width="1.00" fill="none"/>
<path d="M167.4 220.1L171.0 218.1M163.7 219.2L167.4 217.1M131.0 214.2L134.6 211.6M127.3 213.3L131.0 210.7M105.5 208.1L101.9 207.2M101.9 207.2L98.2 206.3M98.2 206.3L94.6 205.4M156.5 217.3L152.8 216.3M152.8 216.3L149.2 215.4" stroke="#9589d6" stroke-width="1.00" fill="none"/>
<path d="M171.0 218.1L174.7 216.1M145.5 214.5L149.2 212.1M101.9 207.2L105.5 204.1M69.1 199.3L65.5 198.4M65.5 198.4L61.8 197.5M131.0 210.7L127.3 209.7M163.8 216.1L160.1 215.1" stroke="#968ad9" stroke-width="1.00" fill="none"/>
<path d="M174.7 216.1L178.4 214.1M152.8 213.1L156.5 210.8M123.7 208.8L127.3 206.0M120.1 207.9L123.7 205.0M69.1 199.3L72.7 195.6M65.5 198.4L69.1 194.7M105.5 204.1L101.9 203.2M101.9 203.2L98.2 202.2M141.9 210.1L138.3 209.1M167.4 214.0L163.8 212.9M185.7 216.4L182.0 215.2" stroke="#968bdd" stroke-width="1.00" fill="none"/>
<path d="M178.4 214.1L182.0 212.1M163.8 212.9L167.4 210.7M160.1 211.8L163.8 209.6M138.3 209.1L141.9 206.5M101.9 203.2L105.5 200.0M43.6 193.1L47.2 189.0M40.0 192.3L43.6 188.1M83.6 198.4L80.0 197.5M80.0 197.5L76.4 196.6M127.3 206.0L123.7 205.0M123.7 205.0L120.1 204.0M156.5 210.8L152.8 209.7M152.8 209.7L149.2 208.6M174.7 213.0L171.1 211.8M189.3 214.5L185.7 213.3" stroke="#968ce0" stroke-width="1.00" fill="none"/>
<path d="M182.0 212.1L185.7 210.1M167.4 210.7L171.1 208.5M145.6 207.6L149.2 205.1M120.1 204.0L123.7 201.1M116.4 203.0L120.0 200.1M76.4 196.6L80.0 193.0M50.9 190.0L47.2 189.0M47.2 189.0L43.6 188.1M105.5 200.0L101.8 199.0M101.8 199.0L98.2 198.0M138.3 205.4L134.6 204.4M134.6 204.4L131.0 203.3M160.1 208.4L156.5 207.3M178.4 210.9L174.7 209.7M193.0 212.6L189.4 211.4" stroke="#968de4" stroke-width="1.00" fill="none"/>
<path d="M185.7 210.1L189.4 208.1M171.1 208.5L174.8 206.3M156.5 207.3L160.2 204.9M134.6 204.4L138.3 201.7M131.0 203.3L134.6 200.5M101.8 199.0L105.5 195.8M58.2 191.9L61.8 187.9M54.5 190.9L58.1 186.9M87.3 195.0L83.6 194.0M83.6 194.0L80.0 193.0M123.7 201.1L120.0 200.1M149.2 205.1L145.6 203.9M167.4 207.3L163.8 206.1M182.1 208.9L178.4 207.6M196.7 210.8L193.0 209.5" stroke="#968ee7" stroke-width="1.00" fill="none"/>
<path d="M200.4 202.1L204.0 200.1M178.4 200.6L182.1 198.3M149.2 197.5L152.8 194.9M131.0 195.4L134.6 192.5M105.4 191.5L109.1 188.2M76.3 187.2L79.9 183.5M61.7 183.0L58.1 181.9M58.1 181.9L54.4 180.8M94.5 188.1L90.9 186.9M123.7 193.0L120.0 191.8M145.6 196.3L141.9 195.0M189.4 201.2L185.7 199.8M200.4 202.1L196.7 200.6" stroke="#9694f1" stroke-width="1.00" fill="none"/>
<path d="M207.7 198.1L211.4 196.2M196.7 197.0L200.4 194.9M189.4 197.6L193.0 195.4M174.8 195.4L178.4 193.0M163.8 195.0L167.4 192.5M149.2 193.6L152.8 190.9M131.0 191.2L134.6 188.3M109.1 188.2L112.7 184.9M83.6 184.7L87.2 181.0M79.9 183.5L83.5 179.8M72.6 181.3L69.0 180.1M69.0 180.1L65.3 179.0M65.3 179.0L61.7 177.9M101.8 185.8L98.1 184.6M98.1 184.6L94.5 183.4M123.7 188.7L120.0 187.4M145.5 192.2L141.9 190.9M141.9 190.9L138.2 189.6M160.1 193.6L156.5 192.2M174.8 195.4L171.1 194.0M185.7 196.1L182.1 194.6M196.7 197.0L193.0 195.4M207.7 198.1L204.0 196.5M215.0 197.9L211.4 196.2" stroke="#9697f5" stroke-width="1.00" fill="none"/>
<path d="M215.0 194.2L218.7 192.2M207.7 194.4L211.3 192.4M196.7 193.2L200.4 191.0M185.7 192.2L189.4 189.9M174.8 191.5L178.4 189.1M163.8 191.1L167.4 188.5M149.2 189.5L152.8 186.7M130.9 186.9L134.6 183.9M112.7 184.9L116.3 181.6M90.8 182.2L94.5 178.6M87.2 181.0L90.8 177.3M61.7 177.9L65.3 173.8M58.0 176.7L61.6 172.6M79.9 178.6L76.2 177.4M76.2 177.4L72.6 176.2M105.4 182.4L101.8 181.1M127.3 185.6L123.6 184.3M145.5 188.1L141.9 186.7M160.1 189.6L156.5 188.2M174.8 191.5L171.1 190.0M185.7 192.2L182.1 190.7M196.7 193.2L193.0 191.6M215.0 194.2L211.3 192.4M222.3 194.0L218.7 192.2" stroke="#959af8" stroke-width="1.00" fill="none"/>
<path d="M218.7 192.2L222.3 190.2M156.5 188.2L160.1 185.5M141.9 186.7L145.5 183.8M123.6 184.3L127.3 181.1M101.8 181.1L105.4 177.7M76.2 177.4L79.9 173.6M65.3 173.8L61.6 172.6M94.5 178.6L90.8 177.3M116.3 181.6L112.7 180.3M152.8 186.7L149.2 185.3M167.4 188.5L163.8 187.0M178.4 189.1L174.7 187.5M189.4 189.9L185.7 188.3M200.4 191.0L196.7 189.3M218.7 192.2L215.0 190.3M226.0 192.1L222.3 190.2" stroke="#959cf9" stroke-width="1.00" fill="none"/>
<path d="M222.3 190.2L226.0 188.2M174.7 187.5L178.4 185.0" stroke="#949dfb" stroke-width="1.00" fill="none"/>
<path d="M244.3 178.2L248.0 176.2M237.0 178.0L240.6 175.9M229.6 177.9L233.3 175.7M222.3 177.9L226.0 175.7M196.7 176.9L200.3 174.4M185.7 175.6L189.3 173.1M163.7 174.0L167.4 171.1M152.8 173.5L156.4 170.5M138.2 171.7L141.8 168.6M123.5 170.3L127.2 167.0M105.3 167.8L108.9 164.2M87.1 165.9L90.7 162.0M79.8 163.1L76.1 161.7M101.6 166.4L98.0 164.9M119.9 168.8L116.2 167.3M134.5 170.1L130.8 168.5M149.1 171.9L145.4 170.2M174.7 174.7L171.0 172.9M185.7 175.6L182.0 173.8M204.0 176.4L200.3 174.4M229.6 177.9L226.0 175.7M237.0 178.0L233.3 175.7M244.3 178.2L240.6 175.9" stroke="#8ea8ff" stroke-width="1.00" fill="none"/>
<path d="M248.0 176.2L251.7 174.2M240.6 175.9L244.3 173.8M233.3 175.7L237.0 173.6M226.0 175.7L229.6 173.5M218.6 175.8L222.3 173.6M182.0 173.8L185.7 171.2M171.0 172.9L174.7 170.1M160.1 172.2L163.7 169.4M116.2 167.3L119.9 163.8M79.8 163.1L83.4 159.1M72.5 160.3L68.8 158.9M94.3 163.5L90.7 162.0M112.6 165.8L108.9 164.2M156.4 170.5L152.7 168.8M200.3 174.4L196.6 172.5M226.0 175.7L222.3 173.6M233.3 175.7L229.6 173.5M240.6 175.9L237.0 173.6M248.0 176.2L244.3 173.8" stroke="#8caaff" stroke-width="1.00" fill="none"/>
<path d="M251.7 174.2L255.3 172.2M215.0 173.7L218.6 171.4M178.3 172.0L182.0 169.3M167.4 171.1L171.0 168.3M156.4 170.5L160.0 167.6M112.6 165.8L116.2 162.2M94.3 163.5L97.9 159.7M152.7 168.8L149.1 167.1M196.6 172.5L193.0 170.5M215.0 173.7L211.3 171.6M259.0 174.7L255.3 172.2" stroke="#8aabff" stroke-width="1.00" fill="none"/>
<path d="M255.3 172.2L259.0 170.2M211.3 171.6L214.9 169.3M87.0 160.6L90.6 156.7M160.0 167.6L156.4 165.8" stroke="#87adfe" stroke-width="1.00" fill="none"/>
<path d="M259.0 170.2L262.6 168.2M207.6 169.5L211.3 167.1M189.3 168.5L192.9 165.9M145.4 165.4L149.0 162.3M116.2 162.2L119.8 158.7M79.7 157.7L83.3 153.6M94.3 158.2L90.6 156.7M112.5 160.7L108.9 159.1M156.4 165.8L152.7 164.0M167.3 166.5L163.7 164.6M178.3 167.4L174.6 165.5M189.3 168.5L185.6 166.6M207.6 169.5L203.9 167.5M266.3 170.8L262.6 168.2" stroke="#85affe" stroke-width="1.00" fill="none"/>
<path d="M270.0 164.2L273.6 162.2M236.9 164.6L240.6 162.3M229.6 164.5L233.2 162.2M196.6 163.3L200.2 160.6M141.7 158.7L145.3 155.5M97.9 154.3L101.5 150.5M79.7 152.1L83.3 148.0M152.7 159.1L149.0 157.3M163.6 159.8L160.0 157.9M174.6 160.7L170.9 158.7M185.6 161.9L181.9 159.8M203.9 162.8L200.2 160.6M236.9 164.6L233.2 162.2M270.0 164.2L266.3 161.5M288.4 164.1L284.7 161.2" stroke="#80b5fb" stroke-width="1.00" fill="none"/>
<path d="M273.6 162.2L277.3 160.2M225.9 162.1L229.5 159.7M138.0 157.0L141.7 153.6M86.9 149.6L83.3 148.0M105.2 152.1L101.5 150.5M181.9 159.8L178.3 157.8M225.9 162.1L222.2 159.8M247.9 162.6L244.2 160.1M292.0 162.2L288.3 159.2" stroke="#80b7fa" stroke-width="1.00" fill="none"/>
<path d="M277.3 160.2L281.0 158.2M258.9 160.9L262.6 158.8M251.6 160.4L255.2 158.2M214.9 159.9L218.5 157.4M207.6 160.2L211.2 157.7M189.2 159.1L192.9 156.3M134.4 155.2L138.0 151.8M119.8 153.5L123.4 149.9M105.2 152.1L108.8 148.3M86.9 149.6L90.5 145.6M116.1 151.8L112.4 150.1M130.7 153.4L127.1 151.6M156.3 156.0L152.6 154.1M167.3 156.8L163.6 154.8M178.3 157.8L174.6 155.8M214.9 159.9L211.2 157.7M258.9 160.9L255.2 158.2M295.7 160.3L292.0 157.3" stroke="#7fb8f8" stroke-width="1.00" fill="none"/>
<path d="M281.0 158.2L284.6 156.2M262.6 158.8L266.2 156.6M203.9 158.0L207.5 155.4M185.6 157.0L189.2 154.2M141.7 153.6L145.3 150.3M94.2 147.2L90.5 145.6M152.6 154.1L149.0 152.2M163.6 154.8L159.9 152.8M174.6 155.8L170.9 153.7M211.2 157.7L207.5 155.4M299.4 158.5L295.7 155.4" stroke="#7ebaf7" stroke-width="1.00" fill="none"/>
<path d="M288.3 154.2L292.0 152.2M269.9 154.5L273.6 152.4M236.9 155.0L240.5 152.6M229.5 154.9L233.2 152.4M196.5 153.6L200.2 150.8M178.2 152.8L181.9 149.9M145.3 150.3L148.9 147.0M236.9 155.0L233.2 152.4" stroke="#7bbdf4" stroke-width="1.00" fill="none"/>
<path d="M295.6 150.2L299.3 148.3M284.6 151.2L288.2 149.1M207.5 150.4L211.1 147.7M170.9 148.6L174.5 145.6M148.9 147.0L152.5 143.6M138.0 146.5L141.6 143.0M94.1 141.5L97.7 137.5M90.5 139.8L86.8 138.1M134.3 144.6L130.6 142.7M189.2 149.1L185.5 146.9M207.5 150.4L203.8 148.0M266.2 151.7L262.5 148.8M284.6 151.2L280.9 148.1" stroke="#79c0f1" stroke-width="1.00" fill="none"/>
<path d="M302.9 146.3L306.6 144.3M233.1 147.4L236.8 144.9M152.5 143.6L156.2 140.3M127.0 140.8L130.6 137.1M94.1 135.7L90.4 133.9M137.9 141.1L134.2 139.1M148.9 141.6L145.2 139.6M181.8 144.7L178.1 142.5M200.1 145.7L196.4 143.4M273.5 147.3L269.8 144.3M291.9 147.1L288.2 143.9" stroke="#76c4ef" stroke-width="1.00" fill="none"/>
<path d="M306.6 144.3L310.3 142.3M295.6 145.0L299.2 143.0M277.2 145.1L280.8 142.9M258.8 145.9L262.5 143.6M251.5 145.5L255.1 143.1M214.8 145.0L218.4 142.3M207.4 145.3L211.1 142.5M189.1 144.0L192.8 141.0M170.8 143.4L174.5 140.3M159.8 142.4L163.5 139.1M148.9 141.6L152.5 138.2M137.9 141.1L141.5 137.5M134.2 139.1L130.6 137.1M189.1 144.0L185.4 141.7M214.8 145.0L211.1 142.5M258.8 145.9L255.1 143.1M266.2 146.6L262.5 143.6M284.5 146.0L280.8 142.9" stroke="#75c5ee" stroke-width="1.00" fill="none"/>
<path d="M167.4 217.1L171.1 215.0M141.9 213.5L145.6 211.1M98.2 206.3L101.9 203.2M94.6 205.4L98.2 202.2M61.8 197.5L58.2 196.6M58.2 196.6L54.6 195.8M127.3 209.7L123.7 208.8M123.7 208.8L120.1 207.9M160.1 215.1L156.5 214.1M182.0 218.2L178.4 217.2" stroke="#968ada" stroke-width="1.00" fill="none"/>
<path d="M171.1 215.0L174.7 213.0M149.2 212.1L152.8 209.7M116.4 206.9L120.1 204.0M61.8 197.5L65.4 193.7M98.2 202.2L94.6 201.3M138.3 209.1L134.6 208.1" stroke="#968bde" stroke-width="1.00" fill="none"/>
<path d="M174.7 213.0L178.4 210.9M156.5 210.8L160.1 208.4M134.6 208.1L138.3 205.4M131.0 207.0L134.6 204.4M98.2 202.2L101.8 199.0M94.6 201.3L98.2 198.0M76.4 196.6L72.7 195.6M72.7 195.6L69.1 194.7M120.1 204.0L116.4 203.0M149.2 208.6L145.6 207.6M171.1 211.8L167.4 210.7" stroke="#968ce1" stroke-width="1.00" fill="none"/>
<path d="M178.4 210.9L182.1 208.9M112.8 202.0L116.4 199.0M69.1 194.7L72.7 191.0M94.6 197.0L90.9 196.0M131.0 203.3L127.3 202.2M156.5 207.3L152.9 206.2M174.7 209.7L171.1 208.5M189.4 211.4L185.7 210.1" stroke="#968ee5" stroke-width="1.00" fill="none"/>
<path d="M182.1 208.9L185.7 206.8M167.4 207.3L171.1 205.1M149.2 205.1L152.9 202.5M127.3 202.2L131.0 199.4M94.6 197.0L98.2 193.7M47.2 189.0L50.8 184.9M80.0 193.0L76.3 192.0M76.3 192.0L72.7 191.0M116.4 199.0L112.8 197.9M163.8 206.1L160.2 204.9M193.0 209.5L189.4 208.1" stroke="#968fe8" stroke-width="1.00" fill="none"/>
<path d="M185.7 206.8L189.4 204.7M174.8 206.3L178.4 204.2M156.5 203.7L160.2 201.3M138.3 201.7L141.9 199.0M112.8 197.9L116.4 194.9M80.0 193.0L83.6 189.4M76.3 192.0L80.0 188.3M61.8 187.9L58.1 186.9M58.1 186.9L54.5 185.9M101.8 194.7L98.2 193.7M131.0 199.4L127.3 198.3M152.9 202.5L149.2 201.3M171.1 205.1L167.5 203.8M185.7 206.8L182.1 205.5M196.7 207.5L193.0 206.1" stroke="#9690eb" stroke-width="1.00" fill="none"/>
<path d="M211.3 192.4L215.0 190.3M204.0 192.7L207.7 190.6M193.0 191.6L196.7 189.3M182.1 190.7L185.7 188.3M171.1 190.0L174.7 187.5M160.1 189.6L163.8 187.0M145.5 188.1L149.2 185.3M127.3 185.6L130.9 182.5M105.4 182.4L109.0 179.0M83.5 179.8L87.2 176.1M79.9 178.6L83.5 174.8M72.6 176.2L68.9 175.0M68.9 175.0L65.3 173.8M98.1 179.9L94.5 178.6M120.0 183.0L116.3 181.6M138.2 185.3L134.6 183.9M156.5 188.2L152.8 186.7M182.1 190.7L178.4 189.1M193.0 191.6L189.4 189.9M211.3 192.4L207.7 190.6" stroke="#959bf9" stroke-width="1.00" fill="none"/>
<path d="M215.0 190.3L218.7 188.3M207.7 190.6L211.3 188.5M196.7 189.3L200.4 187.1M163.8 187.0L167.4 184.3M149.2 185.3L152.8 182.4M134.6 183.9L138.2 180.9M116.3 181.6L120.0 178.4M98.1 179.9L101.7 176.3M94.5 178.6L98.1 175.0M72.6 176.2L76.2 172.3M68.9 175.0L72.6 171.0M87.2 176.1L83.5 174.8M112.7 180.3L109.0 179.0M109.0 179.0L105.4 177.7M130.9 182.5L127.3 181.1M145.5 183.8L141.9 182.4M160.1 185.5L156.5 183.9M174.7 187.5L171.1 185.9M185.7 188.3L182.1 186.6M196.7 189.3L193.0 187.6M215.0 190.3L211.3 188.5M222.3 190.2L218.7 188.3" stroke="#949dfa" stroke-width="1.00" fill="none"/>
<path d="M218.7 188.3L222.3 186.2M182.1 186.6L185.7 184.2M127.3 181.1L130.9 178.0M109.0 179.0L112.6 175.6M58.0 171.4L61.6 167.3M76.2 172.3L72.6 171.0M101.7 176.3L98.1 175.0M138.2 180.9L134.5 179.5M167.4 184.3L163.8 182.8M200.4 187.1L196.7 185.3M218.7 188.3L215.0 186.4" stroke="#949ffb" stroke-width="1.00" fill="none"/>
<path d="M251.6 169.7L255.3 167.7M244.3 169.4L247.9 167.3M236.9 169.2L240.6 167.0M229.6 169.1L233.3 166.8M222.3 169.1L225.9 166.8M214.9 169.3L218.6 166.9M196.6 167.9L200.3 165.4M178.3 167.4L182.0 164.6M167.3 166.5L171.0 163.6M156.4 165.8L160.0 162.8M97.9 159.7L101.6 155.9M90.6 156.7L87.0 155.1M108.9 159.1L105.2 157.5M152.7 164.0L149.0 162.3M196.6 167.9L192.9 165.9M214.9 169.3L211.3 167.1M222.3 169.1L218.6 166.9M229.6 169.1L225.9 166.8M236.9 169.2L233.3 166.8M244.3 169.4L240.6 167.0M251.6 169.7L247.9 167.3M259.0 170.2L255.3 167.7M277.4 169.7L273.7 166.9" stroke="#84b0fd" stroke-width="1.00" fill="none"/>
<path d="M259.0 165.6L262.6 163.6M207.6 164.9L211.2 162.4M97.9 154.3L94.2 152.8M156.3 161.0L152.7 159.1" stroke="#81b4fc" stroke-width="1.00" fill="none"/>
<path d="M277.3 155.3L280.9 153.3M251.5 155.6L255.2 153.3M244.2 155.2L247.9 152.9M222.2 154.9L225.8 152.4M214.9 155.1L218.5 152.5M189.2 154.2L192.8 151.4M134.3 150.0L138.0 146.5M119.7 148.1L123.3 144.5M105.1 146.6L108.7 142.8M101.5 144.9L97.8 143.2M116.1 146.3L112.4 144.6M130.7 148.1L127.0 146.3M156.3 150.9L152.6 148.9M167.2 151.7L163.6 149.7M178.2 152.8L174.5 150.7M196.5 153.6L192.8 151.4M222.2 154.9L218.5 152.5M229.5 154.9L225.8 152.4M244.2 155.2L240.5 152.6M251.5 155.6L247.9 152.9M258.9 156.0L255.2 153.3M277.3 155.3L273.6 152.4M295.7 155.4L292.0 152.2M306.7 154.7L303.0 151.5" stroke="#7cbdf4" stroke-width="1.00" fill="none"/>
<path d="M280.9 153.3L284.6 151.2M262.5 153.8L266.2 151.7M203.8 153.1L207.5 150.4M185.5 152.0L189.2 149.1M116.1 146.3L119.7 142.6M101.5 144.9L105.1 141.0M112.4 144.6L108.7 142.8M127.0 146.3L123.3 144.5M152.6 148.9L148.9 147.0M163.6 149.7L159.9 147.7M174.5 150.7L170.9 148.6M211.2 152.7L207.5 150.4M262.5 153.8L258.9 151.1M299.3 153.4L295.6 150.2M310.4 152.9L306.7 149.6" stroke="#7abef3" stroke-width="1.00" fill="none"/>
<path d="M288.2 149.1L291.9 147.1M269.9 149.5L273.5 147.3M196.5 148.5L200.1 145.7M178.2 147.7L181.8 144.7M145.2 145.0L148.9 141.6M119.7 142.6L123.3 138.9M90.5 139.8L94.1 135.7M101.4 139.2L97.7 137.5M130.6 142.7L127.0 140.8" stroke="#78c2f0" stroke-width="1.00" fill="none"/>
<path d="M291.9 147.1L295.6 145.0M273.5 147.3L277.2 145.1M240.5 147.6L244.1 145.1M225.8 147.4L229.4 144.8M192.8 146.2L196.4 143.4M163.5 144.5L167.1 141.3M141.6 143.0L145.2 139.6M225.8 147.4L222.1 144.8M233.1 147.4L229.4 144.8M240.5 147.6L236.8 144.9M247.8 147.8L244.1 145.1" stroke="#76c3ef" stroke-width="1.00" fill="none"/>
<path d="M299.2 143.0L302.9 140.9M280.8 142.9L284.5 140.7M262.5 143.6L266.1 141.3M203.8 142.9L207.4 140.0M185.4 141.7L189.1 138.7M156.2 140.3L159.8 136.9M119.6 137.0L123.2 133.2M105.0 135.3L108.6 131.3M90.4 133.9L94.0 129.8M101.3 133.4L97.7 131.6M115.9 135.1L112.3 133.2M141.5 137.5L137.9 135.5M174.5 140.3L170.8 138.0M211.1 142.5L207.4 140.0M262.5 143.6L258.8 140.7M288.2 143.9L284.5 140.7M299.2 143.0L295.5 139.7" stroke="#73c7ed" stroke-width="1.00" fill="none"/>
<path d="M302.9 140.9L306.6 138.8M200.1 140.5L203.7 137.6M152.5 138.2L156.1 134.8M101.3 133.4L104.9 129.4M97.7 131.6L94.0 129.8M112.3 133.2L108.6 131.3M137.9 135.5L134.2 133.5M181.8 139.4L178.1 137.1M200.1 140.5L196.4 138.1M273.5 142.0L269.8 139.0M291.9 141.8L288.2 138.5" stroke="#71c8ec" stroke-width="1.00" fill="none"/>
<path d="M156.4 220.3L160.1 218.2M152.8 219.5L156.5 217.3M138.2 216.0L134.6 215.1M134.6 215.1L131.0 214.2M131.0 214.2L127.3 213.3M174.7 222.0L171.0 221.0" stroke="#9589d3" stroke-width="1.00" fill="none"/>
<path d="M160.1 218.2L163.8 216.1M156.5 217.3L160.1 215.1M120.1 211.6L123.7 208.8M116.4 210.7L120.1 207.9M94.6 205.4L90.9 204.5M90.9 204.5L87.3 203.7M87.3 203.7L83.7 202.8M145.5 214.5L141.9 213.5M174.7 219.1L171.0 218.1" stroke="#958ad7" stroke-width="1.00" fill="none"/>
<path d="M178.4 207.6L182.1 205.5M120.0 200.1L123.7 197.1M87.3 195.0L90.9 191.5M69.1 190.0L65.4 189.0M65.4 189.0L61.8 187.9M109.1 196.9L105.5 195.8M134.6 200.5L131.0 199.4M156.5 203.7L152.9 202.5M174.8 206.3L171.1 205.1M200.3 208.9L196.7 207.5" stroke="#968fea" stroke-width="1.00" fill="none"/>
<path d="M215.0 186.4L218.7 184.2M207.7 186.7L211.3 184.5M196.7 185.3L200.3 183.0M189.4 185.9L193.0 183.5M178.4 185.0L182.0 182.5M152.8 182.4L156.4 179.6M138.2 180.9L141.8 177.9M120.0 178.4L123.6 175.1M101.7 176.3L105.3 172.8M79.9 173.6L83.5 169.7M76.2 172.3L79.8 168.4M68.9 169.8L65.3 168.5M94.4 173.7L90.8 172.4M116.3 177.0L112.6 175.6M134.5 179.5L130.9 178.0M149.2 180.9L145.5 179.4M163.8 182.8L160.1 181.2M174.7 183.4L171.1 181.7M185.7 184.2L182.0 182.5M196.7 185.3L193.0 183.5M207.7 186.7L204.0 184.8M215.0 186.4L211.3 184.5M222.3 186.2L218.7 184.2" stroke="#93a0fc" stroke-width="1.00" fill="none"/>
<path d="M240.6 171.5L244.3 169.4M233.3 171.3L236.9 169.2M225.9 171.3L229.6 169.1M182.0 169.3L185.6 166.6M160.0 167.6L163.7 164.6M134.5 165.3L138.1 162.0M119.9 163.8L123.5 160.3M83.4 159.1L87.0 155.1M97.9 159.7L94.3 158.2M130.8 163.6L127.1 162.0M145.4 165.4L141.7 163.7M200.3 170.0L196.6 167.9M233.3 171.3L229.6 169.1M240.6 171.5L236.9 169.2M273.7 171.5L270.0 168.9" stroke="#86aefe" stroke-width="1.00" fill="none"/>
<path d="M273.6 152.4L277.2 150.3M240.5 152.6L244.2 150.2M233.2 152.4L236.8 150.0M225.8 152.4L229.5 149.9M127.0 146.3L130.6 142.7M97.8 143.2L101.4 139.2M108.7 142.8L105.1 141.0M123.3 144.5L119.7 142.6M181.9 149.9L178.2 147.7M233.2 152.4L229.5 149.9M240.5 152.6L236.8 150.0M292.0 152.2L288.2 149.1" stroke="#79bff2" stroke-width="1.00" fill="none"/>
<path d="M280.9 148.1L284.5 146.0M255.2 148.3L258.8 145.9M247.8 147.8L251.5 145.5M218.5 147.5L222.1 144.8M211.1 147.7L214.8 145.0M174.5 145.6L178.1 142.5M130.6 142.7L134.2 139.1M116.0 140.8L119.6 137.0M101.4 139.2L105.0 135.3M86.8 138.1L90.4 133.9M97.7 137.5L94.1 135.7M112.3 138.9L108.7 137.1M127.0 140.8L123.3 138.9M152.5 143.6L148.9 141.6M163.5 144.5L159.8 142.4M192.8 146.2L189.1 144.0M218.5 147.5L214.8 145.0M255.2 148.3L251.5 145.5M262.5 148.8L258.8 145.9M280.9 148.1L277.2 145.1M299.3 148.3L295.6 145.0M310.3 147.6L306.6 144.3" stroke="#77c3ef" stroke-width="1.00" fill="none"/>
<path d="M284.5 146.0L288.2 143.9M266.2 146.6L269.8 144.3M200.1 145.7L203.8 142.9M181.8 144.7L185.4 141.7M97.7 137.5L101.3 133.4M123.3 138.9L119.6 137.0M159.8 142.4L156.2 140.3M170.8 143.4L167.1 141.3M302.9 146.3L299.2 143.0" stroke="#76c4ee" stroke-width="1.00" fill="none"/>
<path d="M288.2 143.9L291.9 141.8M269.8 144.3L273.5 142.0M196.4 143.4L200.1 140.5M178.1 142.5L181.8 139.4M134.2 139.1L137.9 135.5" stroke="#74c6ed" stroke-width="1.00" fill="none"/>
<path d="M291.9 141.8L295.5 139.7M273.5 142.0L277.1 139.8M247.8 142.7L251.4 140.2M240.4 142.4L244.1 139.9M233.1 142.2L236.7 139.7M225.7 142.2L229.4 139.6M192.8 141.0L196.4 138.1M174.5 140.3L178.1 137.1M163.5 139.1L167.1 135.8M141.5 137.5L145.1 134.0M115.9 135.1L119.6 131.3M126.9 135.2L123.2 133.2M225.7 142.2L222.1 139.6M233.1 142.2L229.4 139.6M240.4 142.4L236.7 139.7M247.8 142.7L244.1 139.9" stroke="#72c8ec" stroke-width="1.00" fill="none"/>
<path d="M295.5 139.7L299.2 137.5M258.8 140.7L262.4 138.3M251.4 140.2L255.1 137.8M214.7 139.8L218.4 137.0M207.4 140.0L211.0 137.2M170.8 138.0L174.4 134.8M137.9 135.5L141.5 131.9M112.3 133.2L115.9 129.3M97.7 131.6L101.3 127.5M108.6 131.3L104.9 129.4M123.2 133.2L119.6 131.3M189.1 138.7L185.4 136.3M214.7 139.8L211.0 137.2M258.8 140.7L255.1 137.8M284.5 140.7L280.8 137.5" stroke="#70c9eb" stroke-width="1.00" fill="none"/>
<path d="M299.2 137.5L302.8 135.4M262.4 138.3L266.1 136.0M203.7 137.6L207.4 134.7M167.1 135.8L170.7 132.6M156.1 134.8L159.7 131.4M145.1 134.0L148.8 130.5M134.2 133.5L137.8 129.8M130.5 131.5L126.8 129.4M185.4 136.3L181.7 134.0M203.7 137.6L200.0 135.1M269.8 139.0L266.1 136.0M288.2 138.5L284.4 135.3" stroke="#6ecbe9" stroke-width="1.00" fill="none"/>
<path d="M178.4 204.2L182.1 202.0M163.8 202.6L167.5 200.2M98.2 193.7L101.8 190.3M61.8 187.9L65.4 184.0M83.6 189.4L80.0 188.3M116.4 194.9L112.7 193.7M160.2 201.3L156.5 200.0M174.8 202.8L171.1 201.5M200.4 205.6L196.7 204.1" stroke="#9691ee" stroke-width="1.00" fill="none"/>
<path d="M240.6 167.0L244.3 164.8M233.3 166.8L236.9 164.6M225.9 166.8L229.6 164.5M182.0 164.6L185.6 161.9M149.0 162.3L152.7 159.1M200.3 165.4L196.6 163.3M233.3 166.8L229.6 164.5M240.6 167.0L236.9 164.6M273.7 166.9L270.0 164.2" stroke="#82b3fc" stroke-width="1.00" fill="none"/>
<path d="M244.3 164.8L247.9 162.6M222.2 164.5L225.9 162.1M167.3 161.7L170.9 158.7M94.2 152.8L90.6 151.2M127.1 156.9L123.4 155.2M229.6 164.5L225.9 162.1M244.3 164.8L240.6 162.3" stroke="#81b5fb" stroke-width="1.00" fill="none"/>
<path d="M258.9 156.0L262.5 153.8M207.5 155.4L211.2 152.7M145.3 150.3L141.6 148.4" stroke="#7cbcf5" stroke-width="1.00" fill="none"/>
<path d="M266.2 151.7L269.9 149.5M200.2 150.8L203.8 148.0M181.9 149.9L185.5 146.9M112.4 144.6L116.0 140.8M148.9 147.0L145.2 145.0M159.9 147.7L156.2 145.6M170.9 148.6L167.2 146.6M200.2 150.8L196.5 148.5M273.6 152.4L269.9 149.5M303.0 151.5L299.3 148.3M314.0 151.0L310.3 147.6" stroke="#79c0f2" stroke-width="1.00" fill="none"/>
<path d="M284.5 140.7L288.2 138.5M181.8 139.4L185.4 136.3M126.9 135.2L130.5 131.5M148.8 136.1L145.1 134.0M159.8 136.9L156.1 134.8M170.8 138.0L167.1 135.8M207.4 140.0L203.7 137.6M266.1 141.3L262.4 138.3M302.9 140.9L299.2 137.5" stroke="#71c9eb" stroke-width="1.00" fill="none"/>
<path d="M288.2 138.5L291.8 136.3" stroke="#6ecaea" stroke-width="1.00" fill="none"/>
<path d="M291.8 136.3L295.5 134.2M247.7 137.4L251.4 134.9M240.4 137.1L244.0 134.5M233.0 136.9L236.7 134.3M225.7 136.9L229.3 134.2M192.7 135.6L196.3 132.6M174.4 134.8L178.0 131.6M130.5 131.5L134.1 127.7M104.9 129.4L108.5 125.4M101.3 127.5L97.6 125.6M152.4 132.6L148.8 130.5M163.4 133.6L159.7 131.4M225.7 136.9L222.0 134.2M233.0 136.9L229.3 134.2M240.4 137.1L236.7 134.3M247.7 137.4L244.0 134.5M280.8 137.5L277.1 134.4" stroke="#6ccce8" stroke-width="1.00" fill="none"/>
<path d="M295.5 134.2L299.1 132.0M251.4 134.9L255.0 132.4M214.7 134.4L218.3 131.6M189.0 133.2L192.7 130.2M123.2 127.4L119.5 125.4M222.0 134.2L218.3 131.6" stroke="#68cde5" stroke-width="1.00" fill="none"/>
<path d="M149.2 218.6L152.8 216.3M145.5 217.7L149.2 215.4M127.3 213.3L123.7 212.4M123.7 212.4L120.1 211.6M120.1 211.6L116.4 210.7M171.0 221.0L167.4 220.1M167.4 220.1L163.7 219.2" stroke="#9589d4" stroke-width="1.00" fill="none"/>
<path d="M207.7 182.6L211.3 180.3M200.3 183.0L204.0 180.7M189.4 181.8L193.0 179.3M167.4 180.1L171.1 177.4M156.4 179.6L160.1 176.8M141.8 177.9L145.5 174.9M127.2 176.5L130.9 173.3M109.0 174.2L112.6 170.7M87.1 171.0L90.7 167.3M61.6 167.3L65.2 163.1M79.8 168.4L76.2 167.1M101.7 171.4L98.0 170.0M138.2 176.4L134.5 174.9M152.8 178.0L149.1 176.4M178.4 180.8L174.7 179.1M189.4 181.8L185.7 180.0M207.7 182.6L204.0 180.7" stroke="#92a3fd" stroke-width="1.00" fill="none"/>
<path d="M240.6 162.3L244.2 160.1M233.2 162.2L236.9 159.8M123.4 155.2L127.1 151.6M108.8 153.8L112.4 150.1M119.8 153.5L116.1 151.8M134.4 155.2L130.7 153.4M160.0 157.9L156.3 156.0M170.9 158.7L167.3 156.8M200.2 160.6L196.6 158.5M233.2 162.2L229.5 159.7M240.6 162.3L236.9 159.8M273.6 162.2L269.9 159.4" stroke="#80b7f9" stroke-width="1.00" fill="none"/>
<path d="M255.2 153.3L258.9 151.1M211.2 152.7L214.8 150.1M141.6 148.4L145.2 145.0M83.2 142.3L86.8 138.1M192.8 151.4L189.2 149.1" stroke="#7abff3" stroke-width="1.00" fill="none"/>
<path d="M258.9 151.1L262.5 148.8" stroke="#79c1f1" stroke-width="1.00" fill="none"/>
<path d="M277.1 139.8L280.8 137.5M222.1 139.6L218.4 137.0M251.4 140.2L247.7 137.4" stroke="#70caea" stroke-width="1.00" fill="none"/>
<path d="M280.8 137.5L284.4 135.3M185.4 136.3L189.0 133.2M211.0 137.2L207.4 134.7M262.4 138.3L258.7 135.3" stroke="#6dcbe9" stroke-width="1.00" fill="none"/>
<path d="M284.4 135.3L288.1 133.0M181.7 134.0L185.3 130.8M101.3 127.5L104.9 123.4M112.2 127.3L108.5 125.4M137.8 129.8L134.1 127.7M170.7 132.6L167.0 130.3M207.4 134.7L203.7 132.1M266.1 136.0L262.4 132.9M302.8 135.4L299.1 132.0" stroke="#6acde6" stroke-width="1.00" fill="none"/>
<path d="M288.1 133.0L291.8 130.8M269.7 133.6L273.4 131.2M196.3 132.6L200.0 129.6M178.0 131.6L181.7 128.4M145.1 128.3L141.4 126.2M167.0 130.3L163.4 128.0" stroke="#66cee4" stroke-width="1.00" fill="none"/>
<path d="M291.8 130.8L295.4 128.5M273.4 131.2L277.0 128.8M192.7 130.2L196.3 127.1M174.3 129.3L178.0 126.0M115.8 123.4L112.1 121.3" stroke="#61d0e1" stroke-width="1.00" fill="none"/>
<path d="M174.8 199.2L178.4 196.9M160.2 197.5L163.8 195.0M116.4 190.6L112.7 189.4M138.3 193.7L134.6 192.5M156.5 196.2L152.8 194.9M171.1 197.8L167.5 196.4M215.0 201.4L211.3 199.8" stroke="#9695f2" stroke-width="1.00" fill="none"/>
<path d="M178.4 196.9L182.1 194.6" stroke="#9697f4" stroke-width="1.00" fill="none"/>
<path d="M182.1 194.6L185.7 192.2" stroke="#9698f7" stroke-width="1.00" fill="none"/>
<path d="M204.0 180.7L207.7 178.4M149.1 176.4L152.8 173.5M94.4 168.6L90.7 167.3M130.9 173.3L127.2 171.8M160.1 176.8L156.4 175.1M193.0 179.3L189.3 177.5" stroke="#91a5fe" stroke-width="1.00" fill="none"/>
<path d="M240.5 157.5L244.2 155.2M233.2 157.4L236.9 155.0M225.9 157.3L229.5 154.9M149.0 152.2L145.3 150.3M181.9 154.9L178.2 152.8M233.2 157.4L229.5 154.9M240.5 157.5L236.9 155.0M292.0 157.3L288.3 154.2" stroke="#7dbbf6" stroke-width="1.00" fill="none"/>
<path d="M266.1 141.3L269.8 139.0" stroke="#71c9ec" stroke-width="1.00" fill="none"/>
<path d="M269.8 139.0L273.4 136.7M244.1 139.9L247.7 137.4M236.7 139.7L240.4 137.1M229.4 139.6L233.0 136.9M222.1 139.6L225.7 136.9M196.4 138.1L200.0 135.1M178.1 137.1L181.7 134.0M123.2 133.2L126.8 129.4M119.6 131.3L115.9 129.3M134.2 133.5L130.5 131.5M145.1 134.0L141.5 131.9M156.1 134.8L152.4 132.6M167.1 135.8L163.4 133.6M178.1 137.1L174.4 134.8M196.4 138.1L192.7 135.6M229.4 139.6L225.7 136.9M236.7 139.7L233.0 136.9M244.1 139.9L240.4 137.1M277.1 139.8L273.4 136.7M295.5 139.7L291.8 136.3M306.6 138.8L302.8 135.4" stroke="#6fcaea" stroke-width="1.00" fill="none"/>
<path d="M273.4 136.7L277.1 134.4" stroke="#6ccce7" stroke-width="1.00" fill="none"/>
<path d="M277.1 134.4L280.7 132.1M244.0 134.5L247.7 132.0M222.0 134.2L225.7 131.5M159.7 131.4L163.4 128.0M148.8 130.5L152.4 127.0M137.8 129.8L141.4 126.2M112.2 127.3L115.8 123.4M229.3 134.2L225.7 131.5M244.0 134.5L240.3 131.7M251.4 134.9L247.7 132.0" stroke="#68cee5" stroke-width="1.00" fill="none"/>
<path d="M280.7 132.1L284.4 129.7M255.0 132.4L258.7 129.9M211.0 131.8L214.6 128.9M185.3 130.8L189.0 127.7M156.1 129.2L159.7 125.7M145.1 128.3L148.7 124.7M104.9 123.4L101.2 121.4M211.0 131.8L207.3 129.2M262.4 132.9L258.7 129.9" stroke="#63cfe2" stroke-width="1.00" fill="none"/>
<path d="M284.4 129.7L288.0 127.4M181.7 128.4L185.3 125.2M207.3 129.2L203.6 126.6M266.0 130.5L262.3 127.4" stroke="#5fd0df" stroke-width="1.00" fill="none"/>
<path d="M288.0 127.4L291.7 125.1M145.0 122.5L141.3 120.3M156.0 123.4L152.3 121.1M203.6 126.6L199.9 124.0M269.7 128.0L266.0 124.8" stroke="#5cd2dc" stroke-width="1.00" fill="none"/>
<path d="M152.8 209.7L156.5 207.3M127.3 206.0L131.0 203.3M90.9 200.3L94.6 197.0M87.3 199.4L90.9 196.0M65.4 193.7L61.8 192.8M61.8 192.8L58.2 191.9M116.4 203.0L112.8 202.0M112.8 202.0L109.1 201.0M145.6 207.6L141.9 206.5M167.4 210.7L163.8 209.6M185.7 213.3L182.0 212.1" stroke="#968de2" stroke-width="1.00" fill="none"/>
<path d="M204.0 176.4L207.6 174.0M174.7 174.7L178.3 172.0" stroke="#8da8ff" stroke-width="1.00" fill="none"/>
<path d="M244.2 150.2L247.8 147.8M236.8 150.0L240.5 147.6M229.5 149.9L233.1 147.4M222.1 149.9L225.8 147.4M134.3 144.6L137.9 141.1M156.2 145.6L152.5 143.6M167.2 146.6L163.5 144.5M196.5 148.5L192.8 146.2M229.5 149.9L225.8 147.4M236.8 150.0L233.1 147.4M244.2 150.2L240.5 147.6M277.2 150.3L273.5 147.3M306.7 149.6L302.9 146.3M317.7 149.1L314.0 145.7" stroke="#78c1f0" stroke-width="1.00" fill="none"/>
<path d="M255.1 143.1L258.8 140.7M211.1 142.5L214.7 139.8M152.5 138.2L148.8 136.1" stroke="#72c7ed" stroke-width="1.00" fill="none"/>
<path d="M266.1 136.0L269.7 133.6M200.0 135.1L203.7 132.1" stroke="#6acde7" stroke-width="1.00" fill="none"/>
<path d="M277.0 128.8L280.7 126.4M251.3 129.4L255.0 126.8M244.0 129.0L247.6 126.4M222.0 128.7L225.6 125.9M214.6 128.9L218.3 126.0M189.0 127.7L192.6 124.5M170.7 126.9L174.3 123.6M126.8 123.6L130.4 119.7M222.0 128.7L218.3 126.0M229.3 128.7L225.6 125.9M251.3 129.4L247.6 126.4" stroke="#5dd1de" stroke-width="1.00" fill="none"/>
<path d="M280.7 126.4L284.3 124.1M255.0 126.8L258.6 124.2M247.6 126.4L251.3 123.8M225.6 125.9L229.2 123.1M218.3 126.0L221.9 123.1M185.3 125.2L188.9 122.0M156.0 123.4L159.6 119.9M145.0 122.5L148.6 118.9M108.5 119.3L112.1 115.2M130.4 119.7L126.7 117.6M174.3 123.6L170.6 121.2M192.6 124.5L188.9 122.0M218.3 126.0L214.6 123.3M225.6 125.9L221.9 123.1M247.6 126.4L243.9 123.4M255.0 126.8L251.3 123.8M280.7 126.4L277.0 123.1" stroke="#5cd2da" stroke-width="1.00" fill="none"/>
<path d="M284.3 124.1L288.0 121.7M181.6 122.7L185.2 119.5M152.3 121.1L155.9 117.6M141.3 120.3L145.0 116.6M126.7 117.6L123.0 115.4M207.2 123.6L203.6 120.9M266.0 124.8L262.3 121.7" stroke="#5dd3d7" stroke-width="1.00" fill="none"/>
<path d="M211.3 167.1L214.9 164.7M108.9 159.1L112.5 155.4M149.0 162.3L145.4 160.5M192.9 165.9L189.3 163.9M281.0 167.8L277.3 165.0" stroke="#82b2fd" stroke-width="1.00" fill="none"/>
<path d="M244.1 145.1L247.8 142.7M222.1 144.8L225.7 142.2M123.3 138.9L126.9 135.2M178.1 142.5L174.5 140.3M222.1 144.8L218.4 142.3M251.5 145.5L247.8 142.7M295.6 145.0L291.9 141.8" stroke="#74c5ee" stroke-width="1.00" fill="none"/>
<path d="M255.1 137.8L258.7 135.3M211.0 137.2L214.7 134.4M119.6 131.3L123.2 127.4M141.5 131.9L137.8 129.8M174.4 134.8L170.7 132.6M218.4 137.0L214.7 134.4M255.1 137.8L251.4 134.9M299.2 137.5L295.5 134.2" stroke="#6dcbe8" stroke-width="1.00" fill="none"/>
<path d="M258.7 135.3L262.4 132.9M207.4 134.7L211.0 131.8M126.8 129.4L130.4 125.6M148.8 130.5L145.1 128.3M159.7 131.4L156.1 129.2M189.0 133.2L185.3 130.8M284.4 135.3L280.7 132.1" stroke="#69cde6" stroke-width="1.00" fill="none"/>
<path d="M262.4 132.9L266.0 130.5M203.7 132.1L207.3 129.2M167.0 130.3L170.7 126.9M134.1 127.7L137.7 124.0M108.5 125.4L112.1 121.3M119.5 125.4L115.8 123.4M185.3 130.8L181.7 128.4M288.1 133.0L284.4 129.7" stroke="#64cfe3" stroke-width="1.00" fill="none"/>
<path d="M266.0 130.5L269.7 128.0M200.0 129.6L203.6 126.6M152.4 127.0L156.0 123.4M141.4 126.2L145.0 122.5M126.8 123.6L123.1 121.5" stroke="#5fd0e0" stroke-width="1.00" fill="none"/>
<path d="M269.7 128.0L273.3 125.6M196.3 127.1L199.9 124.0M178.0 126.0L181.6 122.7M108.5 119.3L104.8 117.3M134.1 121.9L130.4 119.7M167.0 124.6L163.3 122.2" stroke="#5cd1dc" stroke-width="1.00" fill="none"/>
<path d="M273.3 125.6L277.0 123.1M192.6 124.5L196.2 121.4M174.3 123.6L177.9 120.3M119.4 119.4L123.0 115.4M141.3 120.3L137.7 118.1M152.3 121.1L148.6 118.9M163.3 122.2L159.6 119.9" stroke="#5cd3d9" stroke-width="1.00" fill="none"/>
<path d="M277.0 123.1L280.6 120.7M243.9 123.4L247.6 120.7M236.6 123.2L240.2 120.4M229.2 123.1L232.9 120.3M221.9 123.1L225.5 120.2M188.9 122.0L192.5 118.8M112.1 115.2L108.4 113.1M229.2 123.1L225.5 120.2M236.6 123.2L232.9 120.3M243.9 123.4L240.2 120.4" stroke="#5fd4d5" stroke-width="1.00" fill="none"/>
<path d="M280.6 120.7L284.3 118.3M218.2 120.3L214.5 117.5M254.9 121.1L251.2 118.0" stroke="#65d5d2" stroke-width="1.00" fill="none"/>
<path d="M138.3 212.6L141.9 210.1M90.9 204.5L94.6 201.3M54.6 195.8L50.9 194.9M156.5 214.1L152.8 213.1" stroke="#968bda" stroke-width="1.00" fill="none"/>
<path d="M152.9 202.5L156.5 200.0M123.7 197.1L120.0 196.0" stroke="#9691ec" stroke-width="1.00" fill="none"/>
<path d="M236.8 144.9L240.4 142.4M229.4 144.8L233.1 142.2M108.7 137.1L112.3 133.2M94.1 135.7L97.7 131.6M105.0 135.3L101.3 133.4M119.6 137.0L115.9 135.1M145.2 139.6L141.5 137.5M156.2 140.3L152.5 138.2M167.1 141.3L163.5 139.1M196.4 143.4L192.8 141.0M229.4 144.8L225.7 142.2M236.8 144.9L233.1 142.2M244.1 145.1L240.4 142.4M277.2 145.1L273.5 142.0M306.6 144.3L302.9 140.9" stroke="#74c6ee" stroke-width="1.00" fill="none"/>
<path d="M258.7 129.9L262.3 127.4M207.3 129.2L210.9 126.2M115.8 123.4L119.4 119.4M137.7 124.0L134.1 121.9M170.7 126.9L167.0 124.6" stroke="#5ed0df" stroke-width="1.00" fill="none"/>
<path d="M262.3 127.4L266.0 124.8M210.9 126.2L214.6 123.3M203.6 126.6L207.2 123.6M167.0 124.6L170.6 121.2M134.1 121.9L137.7 118.1M123.1 121.5L126.7 117.6M119.4 119.4L115.7 117.3M185.3 125.2L181.6 122.7M210.9 126.2L207.2 123.6M262.3 127.4L258.6 124.2M288.0 127.4L284.3 124.1" stroke="#5cd2db" stroke-width="1.00" fill="none"/>
<path d="M266.0 124.8L269.6 122.3M104.8 117.3L108.4 113.1" stroke="#5dd3d8" stroke-width="1.00" fill="none"/>
<path d="M269.6 122.3L273.3 119.8M196.2 121.4L199.9 118.2M177.9 120.3L181.5 116.9M123.0 115.4L119.4 113.2" stroke="#61d4d4" stroke-width="1.00" fill="none"/>
<path d="M273.3 119.8L276.9 117.3M192.5 118.8L196.2 115.6M174.2 117.8L177.9 114.4M108.4 113.1L112.0 108.9M130.3 113.6L126.6 111.4M163.2 116.4L159.6 114.0" stroke="#67d5d0" stroke-width="1.00" fill="none"/>
<path d="M276.9 117.3L280.6 114.8M243.9 117.7L247.5 114.9M236.5 117.4L240.2 114.6M229.2 117.4L232.8 114.5M221.8 117.4L225.5 114.4M188.9 116.2L192.5 112.9M170.5 115.3L174.2 111.9M115.7 111.1L119.3 107.0M137.6 112.0L133.9 109.7M148.6 112.9L144.9 110.5M229.2 117.4L225.5 114.4M236.5 117.4L232.8 114.5M243.9 117.7L240.2 114.6" stroke="#6dd6cc" stroke-width="1.00" fill="none"/>
<path d="M178.4 180.8L182.0 178.2M119.9 173.6L116.3 172.2M215.0 182.3L211.3 180.3" stroke="#92a3fe" stroke-width="1.00" fill="none"/>
<path d="M203.9 162.8L207.6 160.2M108.8 153.8L105.2 152.1" stroke="#80b5fa" stroke-width="1.00" fill="none"/>
<path d="M247.7 132.0L251.3 129.4M218.3 131.6L222.0 128.7M130.4 125.6L126.8 123.6M174.3 129.3L170.7 126.9M192.7 130.2L189.0 127.7M218.3 131.6L214.6 128.9M255.0 132.4L251.3 129.4M299.1 132.0L295.4 128.5" stroke="#62cfe2" stroke-width="1.00" fill="none"/>
<path d="M258.6 124.2L262.3 121.7M207.2 123.6L210.9 120.6M170.6 121.2L166.9 118.8" stroke="#5ed3d7" stroke-width="1.00" fill="none"/>
<path d="M262.3 121.7L265.9 119.1M203.6 120.9L207.2 117.8M155.9 117.6L152.3 115.2" stroke="#63d4d3" stroke-width="1.00" fill="none"/>
<path d="M265.9 119.1L269.6 116.5M199.9 118.2L203.5 115.1M163.2 116.4L166.9 112.8" stroke="#69d6cf" stroke-width="1.00" fill="none"/>
<path d="M269.6 116.5L273.2 114.0M196.2 115.6L199.8 112.4M148.6 112.9L152.2 109.1M137.6 112.0L141.2 108.2" stroke="#6fd7cb" stroke-width="1.00" fill="none"/>
<path d="M273.2 114.0L276.8 111.4M174.2 111.9L177.8 108.4M163.2 110.4L159.5 107.9M199.8 112.4L196.1 109.6" stroke="#73d8c6" stroke-width="1.00" fill="none"/>
<path d="M167.4 184.3L171.1 181.7M123.6 179.8L127.2 176.5M72.6 171.0L68.9 169.8" stroke="#939ffc" stroke-width="1.00" fill="none"/>
<path d="M236.7 134.3L240.3 131.7M229.3 134.2L233.0 131.5M178.0 131.6L174.3 129.3M236.7 134.3L233.0 131.5" stroke="#67cee5" stroke-width="1.00" fill="none"/>
<path d="M240.3 131.7L244.0 129.0M233.0 131.5L236.6 128.8M225.7 131.5L229.3 128.7M119.5 125.4L123.1 121.5M141.4 126.2L137.7 124.0M152.4 127.0L148.7 124.7M163.4 128.0L159.7 125.7M225.7 131.5L222.0 128.7M233.0 131.5L229.3 128.7M240.3 131.7L236.6 128.8M247.7 132.0L244.0 129.0" stroke="#61cfe1" stroke-width="1.00" fill="none"/>
<path d="M251.3 123.8L254.9 121.1M214.6 123.3L218.2 120.3M115.7 117.3L119.4 113.2M137.7 118.1L134.0 115.9M159.6 119.9L155.9 117.6M284.3 124.1L280.6 120.7" stroke="#5ed4d6" stroke-width="1.00" fill="none"/>
<path d="M254.9 121.1L258.6 118.5M210.9 120.6L214.5 117.5M185.2 119.5L188.9 116.2M166.9 118.8L170.5 115.3M123.0 115.4L126.6 111.4M262.3 121.7L258.6 118.5" stroke="#64d5d2" stroke-width="1.00" fill="none"/>
<path d="M258.6 118.5L262.2 115.9M207.2 117.8L210.8 114.8M141.3 114.3L144.9 110.5M170.5 115.3L166.9 112.8" stroke="#6bd6ce" stroke-width="1.00" fill="none"/>
<path d="M262.2 115.9L265.8 113.2M185.2 113.6L181.5 111.0" stroke="#70d7c9" stroke-width="1.00" fill="none"/>
<path d="M265.8 113.2L269.5 110.6M199.8 112.4L203.4 109.2M163.2 110.4L166.8 106.8M119.3 107.0L122.9 102.9M141.2 108.2L137.5 105.8M152.2 109.1L148.5 106.7M181.5 111.0L177.8 108.4M207.1 112.0L203.4 109.2" stroke="#74d8c5" stroke-width="1.00" fill="none"/>
<path d="M269.5 110.6L273.1 108.0M196.1 109.6L199.7 106.4M177.8 108.4L181.4 104.9M148.5 106.7L152.1 103.0M137.5 105.8L141.1 101.9M126.6 105.2L130.2 101.1M203.4 109.2L199.7 106.4M269.5 110.6L265.8 107.2" stroke="#77d9c0" stroke-width="1.00" fill="none"/>
<path d="M123.7 212.4L127.3 209.7M149.2 215.4L145.5 214.5M178.3 220.1L174.7 219.1" stroke="#9589d7" stroke-width="1.00" fill="none"/>
<path d="M218.4 142.3L222.1 139.6M130.6 137.1L134.2 133.5M163.5 139.1L159.8 136.9M192.8 141.0L189.1 138.7M218.4 142.3L214.7 139.8M255.1 143.1L251.4 140.2M280.8 142.9L277.1 139.8M310.3 142.3L306.6 138.8" stroke="#72c7ec" stroke-width="1.00" fill="none"/>
<path d="M236.6 128.8L240.3 126.1M229.3 128.7L232.9 126.0M159.7 125.7L163.3 122.2M148.7 124.7L152.3 121.1M137.7 124.0L141.3 120.3M112.1 121.3L115.7 117.3M123.1 121.5L119.4 119.4M178.0 126.0L174.3 123.6M196.3 127.1L192.6 124.5M236.6 128.8L232.9 126.0M277.0 128.8L273.3 125.6M295.4 128.5L291.7 125.1" stroke="#5cd1dd" stroke-width="1.00" fill="none"/>
<path d="M240.3 126.1L243.9 123.4M232.9 126.0L236.6 123.2M232.9 126.0L229.2 123.1M240.3 126.1L236.6 123.2" stroke="#5cd2d9" stroke-width="1.00" fill="none"/>
<path d="M247.6 120.7L251.2 118.0M218.2 120.3L221.8 117.4M155.9 117.6L159.6 114.0M134.0 115.9L137.6 112.0M119.4 113.2L115.7 111.1" stroke="#65d5d1" stroke-width="1.00" fill="none"/>
<path d="M251.2 118.0L254.8 115.3M214.5 117.5L218.1 114.5M126.6 111.4L123.0 109.2M159.6 114.0L155.9 111.6M188.9 116.2L185.2 113.6M221.8 117.4L218.1 114.5M251.2 118.0L247.5 114.9M284.3 118.3L280.6 114.8" stroke="#6cd6cd" stroke-width="1.00" fill="none"/>
<path d="M254.8 115.3L258.5 112.6M185.2 113.6L188.8 110.3M218.1 114.5L214.4 111.7M254.8 115.3L251.1 112.1" stroke="#71d7c8" stroke-width="1.00" fill="none"/>
<path d="M258.5 112.6L262.1 109.9M207.1 112.0L210.8 108.8M181.5 111.0L185.1 107.6M152.2 109.1L155.8 105.4M130.2 107.5L133.8 103.5" stroke="#75d8c4" stroke-width="1.00" fill="none"/>
<path d="M262.1 109.9L265.8 107.2M122.9 102.9L119.2 100.6M185.1 107.6L181.4 104.9" stroke="#78d9bf" stroke-width="1.00" fill="none"/>
<path d="M265.8 107.2L269.4 104.5M199.7 106.4L203.4 103.1M130.2 101.1L126.5 98.8" stroke="#7adaba" stroke-width="1.00" fill="none"/>
<path d="M218.4 137.0L222.0 134.2M115.9 129.3L112.2 127.3M192.7 135.6L189.0 133.2" stroke="#6dcce8" stroke-width="1.00" fill="none"/>
<path d="M240.2 120.4L243.9 117.7M232.9 120.3L236.5 117.4M225.5 120.2L229.2 117.4M145.0 116.6L148.6 112.9M174.2 117.8L170.5 115.3M192.5 118.8L188.9 116.2M225.5 120.2L221.8 117.4M232.9 120.3L229.2 117.4M240.2 120.4L236.5 117.4M247.6 120.7L243.9 117.7M280.6 120.7L276.9 117.3" stroke="#66d5d1" stroke-width="1.00" fill="none"/>
<path d="M247.5 114.9L251.1 112.1M218.1 114.5L221.8 111.5M155.9 111.6L159.5 107.9M123.0 109.2L126.6 105.2M225.5 114.4L221.8 111.5M247.5 114.9L243.8 111.8" stroke="#72d7c8" stroke-width="1.00" fill="none"/>
<path d="M251.1 112.1L254.8 109.4M214.4 111.7L218.1 108.6M141.2 108.2L144.8 104.3M170.5 109.3L166.8 106.8M188.8 110.3L185.1 107.6M214.4 111.7L210.8 108.8M258.5 112.6L254.8 109.4" stroke="#75d8c3" stroke-width="1.00" fill="none"/>
<path d="M254.8 109.4L258.4 106.6M210.8 108.8L214.4 105.7M166.8 106.8L170.4 103.2M133.8 103.5L130.2 101.1M144.8 104.3L141.1 101.9M155.8 105.4L152.1 103.0M218.1 108.6L214.4 105.7M262.1 109.9L258.4 106.6" stroke="#78dabe" stroke-width="1.00" fill="none"/>
<path d="M258.4 106.6L262.1 103.9M207.1 106.0L210.7 102.8M181.4 104.9L185.0 101.5" stroke="#7bdbb8" stroke-width="1.00" fill="none"/>
<path d="M262.1 103.9L265.7 101.1M203.4 103.1L207.0 99.8M137.5 99.5L141.1 95.5M166.7 100.6L163.0 98.0" stroke="#80dcb2" stroke-width="1.00" fill="none"/>
<path d="M174.6 165.5L178.3 162.7M163.7 164.6L167.3 161.7M211.3 167.1L207.6 164.9M262.6 168.2L259.0 165.6" stroke="#83b2fd" stroke-width="1.00" fill="none"/>
<path d="M240.2 114.6L243.8 111.8M232.8 114.5L236.5 111.6M225.5 114.4L229.1 111.5M144.9 110.5L148.5 106.7M133.9 109.7L137.5 105.8M174.2 111.9L170.5 109.3M192.5 112.9L188.8 110.3M232.8 114.5L229.1 111.5M240.2 114.6L236.5 111.6M280.6 114.8L276.8 111.4" stroke="#72d7c7" stroke-width="1.00" fill="none"/>
<path d="M243.8 111.8L247.4 109.0M236.5 111.6L240.1 108.7M229.1 111.5L232.8 108.5M221.8 111.5L225.4 108.5M188.8 110.3L192.4 106.9M170.5 109.3L174.1 105.8M126.6 105.2L122.9 102.9M137.5 105.8L133.8 103.5M148.5 106.7L144.8 104.3M159.5 107.9L155.8 105.4M229.1 111.5L225.4 108.5M236.5 111.6L232.8 108.5M243.8 111.8L240.1 108.7" stroke="#76d9c2" stroke-width="1.00" fill="none"/>
<path d="M247.4 109.0L251.1 106.1M240.1 108.7L243.7 105.8M225.4 108.5L229.0 105.5M218.1 108.6L221.7 105.5M225.4 108.5L221.7 105.5M232.8 108.5L229.0 105.5M247.4 109.0L243.7 105.8" stroke="#79dabd" stroke-width="1.00" fill="none"/>
<path d="M251.1 106.1L254.7 103.3M214.4 105.7L218.0 102.5M141.1 101.9L144.7 98.0M130.2 101.1L133.8 97.1M170.4 103.2L166.7 100.6M188.7 104.2L185.0 101.5M221.7 105.5L218.0 102.5M251.1 106.1L247.4 102.9" stroke="#7cdbb7" stroke-width="1.00" fill="none"/>
<path d="M254.7 103.3L258.4 100.5M210.7 102.8L214.3 99.5" stroke="#81dcb1" stroke-width="1.00" fill="none"/>
<path d="M258.4 100.5L262.0 97.7M181.3 98.7L185.0 95.2" stroke="#88dcaa" stroke-width="1.00" fill="none"/>
<path d="M243.7 105.8L247.4 102.9M221.7 105.5L225.3 102.4" stroke="#7ddbb7" stroke-width="1.00" fill="none"/>
<path d="M247.4 102.9L251.0 100.0M218.0 102.5L221.6 99.4M185.0 101.5L188.6 98.0M166.7 100.6L170.3 96.9M133.8 97.1L130.1 94.7M144.7 98.0L141.1 95.5" stroke="#82dcb0" stroke-width="1.00" fill="none"/>
<path d="M251.0 100.0L254.6 97.1M214.3 99.5L217.9 96.3" stroke="#89dda9" stroke-width="1.00" fill="none"/>
<path d="M254.6 97.1L258.3 94.2M210.6 96.6L214.2 93.3M185.0 95.2L181.3 92.4" stroke="#91dda2" stroke-width="1.00" fill="none"/>
<path d="M134.6 188.3L138.2 185.3M207.7 194.4L204.0 192.7" stroke="#959af7" stroke-width="1.00" fill="none"/>
<path d="M185.5 146.9L189.1 144.0M174.5 145.6L170.8 143.4M211.1 147.7L207.4 145.3" stroke="#77c3f0" stroke-width="1.00" fill="none"/>
<path d="M232.8 108.5L236.4 105.6M155.8 105.4L159.4 101.7M144.8 104.3L148.4 100.5M133.8 103.5L137.5 99.5M122.9 102.9L126.5 98.8M174.1 105.8L170.4 103.2M192.4 106.9L188.7 104.2M240.1 108.7L236.4 105.6" stroke="#79dabc" stroke-width="1.00" fill="none"/>
<path d="M236.4 105.6L240.0 102.6M229.0 105.5L232.7 102.5M188.7 104.2L192.3 100.8M170.4 103.2L174.0 99.6M159.4 101.7L155.7 99.2M229.0 105.5L225.3 102.4M236.4 105.6L232.7 102.5M243.7 105.8L240.0 102.6" stroke="#7ddbb6" stroke-width="1.00" fill="none"/>
<path d="M240.0 102.6L243.7 99.7M225.3 102.4L229.0 99.3M225.3 102.4L221.6 99.4M247.4 102.9L243.7 99.7" stroke="#83dcb0" stroke-width="1.00" fill="none"/>
<path d="M243.7 99.7L247.3 96.7" stroke="#8adda8" stroke-width="1.00" fill="none"/>
<path d="M247.3 96.7L250.9 93.8M217.9 96.3L221.6 93.1M185.0 95.2L188.6 91.7M155.6 92.8L152.0 90.2M217.9 96.3L214.2 93.3M254.6 97.1L250.9 93.8" stroke="#92dda1" stroke-width="1.00" fill="none"/>
<path d="M250.9 93.8L254.6 90.8M214.2 93.3L217.9 90.0" stroke="#9bdd99" stroke-width="1.00" fill="none"/>
<path d="M189.1 138.7L192.7 135.6M159.8 136.9L163.4 133.6M148.8 136.1L152.4 132.6" stroke="#70caeb" stroke-width="1.00" fill="none"/>
<path d="M232.7 102.5L236.3 99.4M192.3 100.8L188.6 98.0M232.7 102.5L229.0 99.3M240.0 102.6L236.3 99.4" stroke="#83dcaf" stroke-width="1.00" fill="none"/>
<path d="M236.3 99.4L239.9 96.4M229.0 99.3L232.6 96.3M188.6 98.0L192.3 94.5M141.1 95.5L144.7 91.6M130.1 94.7L133.7 90.6M229.0 99.3L225.3 96.2M236.3 99.4L232.6 96.3M243.7 99.7L239.9 96.4" stroke="#8bdda8" stroke-width="1.00" fill="none"/>
<path d="M239.9 96.4L243.6 93.4M232.6 96.3L236.2 93.2M225.3 96.2L228.9 93.1M225.3 96.2L221.6 93.1M232.6 96.3L228.9 93.1M239.9 96.4L236.2 93.2M247.3 96.7L243.6 93.4" stroke="#93dda0" stroke-width="1.00" fill="none"/>
<path d="M243.6 93.4L247.2 90.4M221.6 93.1L225.2 89.9M152.0 90.2L155.6 86.3M170.3 90.5L166.6 87.8M188.6 91.7L184.9 88.8M221.6 93.1L217.9 90.0M228.9 93.1L225.2 89.9M243.6 93.4L239.9 90.1M250.9 93.8L247.2 90.4" stroke="#9cdd98" stroke-width="1.00" fill="none"/>
<path d="M247.2 90.4L250.8 87.4M217.9 90.0L221.5 86.7" stroke="#a6dc90" stroke-width="1.00" fill="none"/>
<path d="M167.2 151.7L170.9 148.6M156.3 150.9L159.9 147.7M86.9 143.9L90.5 139.8" stroke="#7bbef4" stroke-width="1.00" fill="none"/>
<path d="M199.9 124.0L203.6 120.9M163.3 122.2L166.9 118.8M130.4 119.7L134.0 115.9M115.7 117.3L112.1 115.2M181.6 122.7L177.9 120.3M199.9 124.0L196.2 121.4M273.3 125.6L269.6 122.3M291.7 125.1L288.0 121.7" stroke="#5cd3d8" stroke-width="1.00" fill="none"/>
<path d="M210.8 114.8L214.4 111.7M166.9 112.8L170.5 109.3M112.0 108.9L115.6 104.8M133.9 109.7L130.2 107.5M144.9 110.5L141.2 108.2M155.9 111.6L152.2 109.1M210.8 114.8L207.1 112.0M262.2 115.9L258.5 112.6" stroke="#71d7c9" stroke-width="1.00" fill="none"/>
<path d="M236.2 93.2L239.9 90.1M228.9 93.1L232.5 89.9M188.6 91.7L192.2 88.1M141.0 89.0L144.6 85.0M236.2 93.2L232.5 89.9" stroke="#9ddd97" stroke-width="1.00" fill="none"/>
<path d="M239.9 90.1L243.5 87.0M232.5 89.9L236.2 86.8M225.2 89.9L228.8 86.7M166.6 87.8L170.2 84.0M155.6 86.3L151.9 83.6M232.5 89.9L228.8 86.7M239.9 90.1L236.2 86.8" stroke="#a7dc8f" stroke-width="1.00" fill="none"/>
<path d="M243.5 87.0L247.1 83.9M236.2 86.8L239.8 83.7M228.8 86.7L232.5 83.5M221.5 86.7L225.1 83.5M170.2 84.0L166.5 81.2M188.5 85.2L184.8 82.3M228.8 86.7L225.1 83.5M243.5 87.0L239.8 83.7" stroke="#b1db86" stroke-width="1.00" fill="none"/>
<path d="M141.8 168.6L145.4 165.4M72.5 160.3L76.1 156.2M87.0 160.6L83.4 159.1M123.5 165.4L119.9 163.8M222.3 173.6L218.6 171.4M251.7 174.2L248.0 171.8" stroke="#8aacff" stroke-width="1.00" fill="none"/>
<path d="M203.5 115.1L207.1 112.0M177.9 114.4L181.5 111.0M123.0 109.2L119.3 107.0M166.9 112.8L163.2 110.4M203.5 115.1L199.8 112.4M269.6 116.5L265.8 113.2" stroke="#70d7ca" stroke-width="1.00" fill="none"/>
<path d="M221.6 99.4L225.3 96.2M152.0 96.6L155.6 92.8M170.3 96.9L166.6 94.3M188.6 98.0L185.0 95.2M221.6 99.4L217.9 96.3M251.0 100.0L247.3 96.7" stroke="#8adda9" stroke-width="1.00" fill="none"/>
<path d="M239.8 83.7L243.4 80.5M232.5 83.5L236.1 80.3M225.1 83.5L228.7 80.2M184.8 82.3L188.4 78.7M166.5 81.2L170.1 77.4M232.5 83.5L228.7 80.2M239.8 83.7L236.1 80.3" stroke="#bcda7d" stroke-width="1.00" fill="none"/>
<path d="M167.1 141.3L170.8 138.0M145.2 139.6L148.8 136.1M130.6 137.1L126.9 135.2M185.4 141.7L181.8 139.4M203.8 142.9L200.1 140.5M269.8 144.3L266.1 141.3" stroke="#73c6ed" stroke-width="1.00" fill="none"/>
<path d="M203.4 109.2L207.1 106.0M166.8 106.8L163.1 104.2" stroke="#77d9bf" stroke-width="1.00" fill="none"/>
<path d="M236.1 80.3L239.7 77.1M228.7 80.2L232.4 76.9M221.4 80.2L225.0 76.9M188.4 78.7L184.7 75.7M228.7 80.2L225.0 76.9M236.1 80.3L232.4 76.9M243.4 80.5L239.7 77.1" stroke="#c6d875" stroke-width="1.00" fill="none"/>
<path d="M170.7 132.6L174.3 129.3M214.7 134.4L211.0 131.8M258.7 135.3L255.0 132.4" stroke="#69cde5" stroke-width="1.00" fill="none"/>
<path d="M192.5 112.9L196.1 109.6M119.3 107.0L115.6 104.8" stroke="#73d8c7" stroke-width="1.00" fill="none"/>
<path d="M207.0 99.8L210.6 96.6M163.0 98.0L166.6 94.3M130.1 94.7L126.4 92.3M141.1 95.5L137.4 93.1" stroke="#88dcab" stroke-width="1.00" fill="none"/>
<path d="M232.4 76.9L236.0 73.7" stroke="#d1d66e" stroke-width="1.00" fill="none"/>
<path d="M130.8 163.6L134.4 160.3M127.1 162.0L123.5 160.3" stroke="#84b0fe" stroke-width="1.00" fill="none"/>
<path d="M163.4 133.6L167.0 130.3M152.4 132.6L156.1 129.2M141.5 131.9L145.1 128.3M126.8 129.4L123.2 127.4M181.7 134.0L178.0 131.6M200.0 135.1L196.3 132.6M273.4 136.7L269.7 133.6M291.8 136.3L288.1 133.0" stroke="#6bcce7" stroke-width="1.00" fill="none"/>
<path d="M181.5 116.9L185.2 113.6M152.3 115.2L155.9 111.6M130.3 113.6L133.9 109.7M115.7 111.1L112.0 108.9M207.2 117.8L203.5 115.1M265.9 119.1L262.2 115.9" stroke="#6ad6ce" stroke-width="1.00" fill="none"/>
<path d="M192.4 106.9L196.0 103.6" stroke="#79dabb" stroke-width="1.00" fill="none"/>
<path d="M196.0 103.6L199.7 100.2M159.4 101.7L163.0 98.0M177.7 102.3L174.0 99.6" stroke="#7edbb4" stroke-width="1.00" fill="none"/>
<path d="M199.7 100.2L203.3 96.9" stroke="#86dcac" stroke-width="1.00" fill="none"/>
<path d="M203.3 96.9L206.9 93.6" stroke="#90dda4" stroke-width="1.00" fill="none"/>
<path d="M206.9 93.6L210.5 90.2M181.3 92.4L184.9 88.8M162.9 91.6L166.6 87.8M141.0 89.0L137.3 86.5" stroke="#9add9a" stroke-width="1.00" fill="none"/>
<path d="M210.5 90.2L214.2 86.9" stroke="#a5dc91" stroke-width="1.00" fill="none"/>
<path d="M214.2 86.9L217.8 83.6M140.9 82.4L137.2 79.8M221.5 86.7L217.8 83.6" stroke="#b0db87" stroke-width="1.00" fill="none"/>
<path d="M217.8 83.6L221.4 80.2M137.2 79.8L140.8 75.6" stroke="#bbda7e" stroke-width="1.00" fill="none"/>
<path d="M225.0 76.9L228.7 73.6M217.7 77.0L221.3 73.6M184.7 75.7L188.3 72.0M225.0 76.9L221.3 73.6M232.4 76.9L228.7 73.6M239.7 77.1L236.0 73.7" stroke="#d0d66e" stroke-width="1.00" fill="none"/>
<path d="M228.7 73.6L232.3 70.2M221.3 73.6L224.9 70.2M188.3 72.0L184.6 68.9M228.7 73.6L224.9 70.2M236.0 73.7L232.3 70.2" stroke="#dad369" stroke-width="1.00" fill="none"/>
<path d="M138.0 151.8L141.6 148.4M94.2 147.2L97.8 143.2M159.9 152.8L156.3 150.9M170.9 153.7L167.2 151.7M200.2 155.8L196.5 153.6M273.6 157.4L269.9 154.5M303.0 156.6L299.3 153.4" stroke="#7dbbf5" stroke-width="1.00" fill="none"/>
<path d="M163.4 128.0L167.0 124.6M130.4 125.6L134.1 121.9M181.7 128.4L178.0 126.0M200.0 129.6L196.3 127.1M273.4 131.2L269.7 128.0M291.8 130.8L288.0 127.4" stroke="#60d0e0" stroke-width="1.00" fill="none"/>
<path d="M170.6 121.2L174.2 117.8M148.6 118.9L145.0 116.6M221.9 123.1L218.2 120.3M251.3 123.8L247.6 120.7" stroke="#5fd4d6" stroke-width="1.00" fill="none"/>
<path d="M185.1 107.6L188.7 104.2M254.8 109.4L251.1 106.1" stroke="#78dabd" stroke-width="1.00" fill="none"/>
<path d="M192.3 100.8L196.0 97.4M122.8 96.4L126.4 92.3" stroke="#84dcae" stroke-width="1.00" fill="none"/>
<path d="M196.0 97.4L199.6 94.0M177.6 96.0L173.9 93.3" stroke="#8edda6" stroke-width="1.00" fill="none"/>
<path d="M199.6 94.0L203.2 90.6" stroke="#98dd9c" stroke-width="1.00" fill="none"/>
<path d="M203.2 90.6L206.8 87.2" stroke="#a3dc92" stroke-width="1.00" fill="none"/>
<path d="M206.8 87.2L210.5 83.8" stroke="#aedb89" stroke-width="1.00" fill="none"/>
<path d="M210.5 83.8L214.1 80.4M148.2 80.9L151.8 76.9M166.5 81.2L162.8 78.5M184.8 82.3L181.1 79.4" stroke="#bada7f" stroke-width="1.00" fill="none"/>
<path d="M214.1 80.4L217.7 77.0" stroke="#c5d876" stroke-width="1.00" fill="none"/>
<path d="M224.9 70.2L228.6 66.8M184.6 68.9L188.2 65.1M148.0 67.3L151.6 63.1M224.9 70.2L221.2 66.8M232.3 70.2L228.6 66.8" stroke="#e3d168" stroke-width="1.00" fill="none"/>
<path d="M112.6 170.7L116.2 167.3M178.4 176.4L174.7 174.7" stroke="#8fa6fe" stroke-width="1.00" fill="none"/>
<path d="M192.3 94.5L195.9 91.1" stroke="#95dd9e" stroke-width="1.00" fill="none"/>
<path d="M195.9 91.1L199.5 87.6M177.6 89.6L173.9 86.8" stroke="#a0dd94" stroke-width="1.00" fill="none"/>
<path d="M199.5 87.6L203.1 84.1M133.6 83.9L137.2 79.8M162.9 85.1L159.2 82.4" stroke="#acdc8a" stroke-width="1.00" fill="none"/>
<path d="M203.1 84.1L206.7 80.7M177.5 83.1L181.1 79.4" stroke="#b8da80" stroke-width="1.00" fill="none"/>
<path d="M206.7 80.7L210.4 77.2" stroke="#c3d877" stroke-width="1.00" fill="none"/>
<path d="M210.4 77.2L214.0 73.8" stroke="#ced66f" stroke-width="1.00" fill="none"/>
<path d="M214.0 73.8L217.6 70.3M181.0 72.7L184.6 68.9M162.7 71.7L166.3 67.7M151.7 70.1L148.0 67.3M221.3 73.6L217.6 70.3" stroke="#d9d469" stroke-width="1.00" fill="none"/>
<path d="M217.6 70.3L221.2 66.8M166.3 67.7L162.6 64.8M184.6 68.9L180.9 65.9M217.6 70.3L213.9 67.0" stroke="#e2d168" stroke-width="1.00" fill="none"/>
<path d="M221.2 66.8L224.9 63.4" stroke="#ebcf6a" stroke-width="1.00" fill="none"/>
<path d="M159.6 119.9L163.2 116.4M126.7 117.6L130.3 113.6M177.9 120.3L174.2 117.8M196.2 121.4L192.5 118.8M277.0 123.1L273.3 119.8" stroke="#60d4d5" stroke-width="1.00" fill="none"/>
<path d="M174.1 105.8L177.7 102.3M163.1 104.2L159.4 101.7M199.7 106.4L196.0 103.6M273.1 108.0L269.4 104.5" stroke="#7adabb" stroke-width="1.00" fill="none"/>
<path d="M177.7 102.3L181.3 98.7M203.4 103.1L199.7 100.2M269.4 104.5L265.7 101.1" stroke="#7fdcb3" stroke-width="1.00" fill="none"/>
<path d="M192.2 88.1L195.8 84.6M173.9 86.8L170.2 84.0" stroke="#a9dc8d" stroke-width="1.00" fill="none"/>
<path d="M195.8 84.6L199.4 81.1" stroke="#b5db83" stroke-width="1.00" fill="none"/>
<path d="M199.4 81.1L203.0 77.6M144.5 78.3L148.1 74.2" stroke="#c1d979" stroke-width="1.00" fill="none"/>
<path d="M203.0 77.6L206.7 74.0M177.4 76.5L181.0 72.7" stroke="#cdd670" stroke-width="1.00" fill="none"/>
<path d="M206.7 74.0L210.3 70.5M162.7 71.7L159.0 68.8M181.0 72.7L177.3 69.7M206.7 74.0L203.0 70.9" stroke="#d7d46a" stroke-width="1.00" fill="none"/>
<path d="M210.3 70.5L213.9 67.0" stroke="#e1d268" stroke-width="1.00" fill="none"/>
<path d="M213.9 67.0L217.5 63.5M180.9 65.9L184.5 62.0M162.6 64.8L166.2 60.8M221.2 66.8L217.5 63.5" stroke="#ebcf69" stroke-width="1.00" fill="none"/>
<path d="M217.5 63.5L221.1 59.9M166.2 60.8L162.5 57.8M184.5 62.0L180.8 58.9M224.9 63.4L221.1 59.9" stroke="#f3ce6f" stroke-width="1.00" fill="none"/>
<path d="M159.6 114.0L163.2 110.4M126.6 111.4L130.2 107.5M177.9 114.4L174.2 111.9M276.9 117.3L273.2 114.0" stroke="#6ed6cb" stroke-width="1.00" fill="none"/>
<path d="M174.0 99.6L177.6 96.0M133.8 97.1L137.4 93.1M199.7 100.2L196.0 97.4" stroke="#85dcad" stroke-width="1.00" fill="none"/>
<path d="M177.6 96.0L181.3 92.4M203.3 96.9L199.6 94.0" stroke="#8fdda4" stroke-width="1.00" fill="none"/>
<path d="M184.9 88.8L188.5 85.2M225.2 89.9L221.5 86.7M247.2 90.4L243.5 87.0" stroke="#a6dc8f" stroke-width="1.00" fill="none"/>
<path d="M188.5 85.2L192.1 81.6" stroke="#b3db85" stroke-width="1.00" fill="none"/>
<path d="M192.1 81.6L195.7 78.0" stroke="#bfd97b" stroke-width="1.00" fill="none"/>
<path d="M195.7 78.0L199.3 74.5M159.1 75.7L155.4 72.9" stroke="#cad772" stroke-width="1.00" fill="none"/>
<path d="M199.3 74.5L203.0 70.9" stroke="#d6d46b" stroke-width="1.00" fill="none"/>
<path d="M203.0 70.9L206.6 67.3M177.3 69.7L180.9 65.9M159.0 68.8L162.6 64.8" stroke="#e0d267" stroke-width="1.00" fill="none"/>
<path d="M206.6 67.3L210.2 63.7M162.6 64.8L158.9 61.9M180.9 65.9L177.2 62.8M206.6 67.3L202.9 64.0" stroke="#e9d069" stroke-width="1.00" fill="none"/>
<path d="M210.2 63.7L213.8 60.1" stroke="#f2ce6e" stroke-width="1.00" fill="none"/>
<path d="M213.8 60.1L217.4 56.5M180.8 58.9L184.4 55.0M162.5 57.8L166.1 53.7M221.1 59.9L217.4 56.5" stroke="#face74" stroke-width="1.00" fill="none"/>
<path d="M148.6 118.9L152.3 115.2M137.7 118.1L141.3 114.3" stroke="#60d4d4" stroke-width="1.00" fill="none"/>
<path d="M159.5 107.9L163.1 104.2" stroke="#77d9c1" stroke-width="1.00" fill="none"/>
<path d="M163.1 104.2L166.7 100.6M141.1 101.9L137.5 99.5M207.1 106.0L203.4 103.1M265.8 107.2L262.1 103.9" stroke="#7bdbb9" stroke-width="1.00" fill="none"/>
<path d="M170.3 96.9L173.9 93.3M159.3 95.4L155.6 92.8M196.0 97.4L192.3 94.5" stroke="#8cdda7" stroke-width="1.00" fill="none"/>
<path d="M173.9 93.3L177.6 89.6M144.7 91.6L148.3 87.6M199.6 94.0L195.9 91.1" stroke="#96dd9d" stroke-width="1.00" fill="none"/>
<path d="M177.6 89.6L181.2 86.0" stroke="#a2dc92" stroke-width="1.00" fill="none"/>
<path d="M181.2 86.0L184.8 82.3M162.9 85.1L166.5 81.2M151.9 83.6L148.2 80.9M214.2 86.9L210.5 83.8" stroke="#afdb88" stroke-width="1.00" fill="none"/>
<path d="M188.4 78.7L192.0 75.0" stroke="#c8d774" stroke-width="1.00" fill="none"/>
<path d="M192.0 75.0L195.6 71.3M173.7 73.5L170.0 70.6" stroke="#d3d56c" stroke-width="1.00" fill="none"/>
<path d="M195.6 71.3L199.3 67.7M159.0 68.8L155.3 66.0" stroke="#ded268" stroke-width="1.00" fill="none"/>
<path d="M199.3 67.7L202.9 64.0M173.6 66.7L177.2 62.8" stroke="#e8d068" stroke-width="1.00" fill="none"/>
<path d="M202.9 64.0L206.5 60.4M177.2 62.8L180.8 58.9" stroke="#f1ce6d" stroke-width="1.00" fill="none"/>
<path d="M206.5 60.4L210.1 56.7M180.8 58.9L177.1 55.8" stroke="#f9ce73" stroke-width="1.00" fill="none"/>
<path d="M210.1 56.7L213.7 53.1M202.8 57.1L206.4 53.4M177.1 55.8L180.7 51.8M158.8 54.8L162.4 50.6M210.1 56.7L206.4 53.4" stroke="#fed073" stroke-width="1.00" fill="none"/>
<path d="M166.6 94.3L170.3 90.5" stroke="#93dda1" stroke-width="1.00" fill="none"/>
<path d="M170.3 90.5L173.9 86.8M130.0 88.1L133.6 83.9" stroke="#9edd96" stroke-width="1.00" fill="none"/>
<path d="M173.9 86.8L177.5 83.1" stroke="#abdc8b" stroke-width="1.00" fill="none"/>
<path d="M181.1 79.4L184.7 75.7M162.8 78.5L166.4 74.5M151.8 76.9L148.1 74.2M214.1 80.4L210.4 77.2" stroke="#c4d876" stroke-width="1.00" fill="none"/>
<path d="M188.3 72.0L191.9 68.2" stroke="#dbd368" stroke-width="1.00" fill="none"/>
<path d="M191.9 68.2L195.5 64.5M173.6 66.7L169.9 63.7" stroke="#e6d068" stroke-width="1.00" fill="none"/>
<path d="M195.5 64.5L199.2 60.8" stroke="#efce6c" stroke-width="1.00" fill="none"/>
<path d="M199.2 60.8L202.8 57.1M173.5 59.8L177.1 55.8" stroke="#f8ce72" stroke-width="1.00" fill="none"/>
<path d="M206.4 53.4L210.0 49.6M180.7 51.8L177.0 48.6M213.7 53.1L210.0 49.6" stroke="#fed56e" stroke-width="1.00" fill="none"/>
<path d="M152.1 103.0L155.7 99.2M119.2 100.6L122.8 96.4M214.4 105.7L210.7 102.8M258.4 106.6L254.7 103.3" stroke="#7cdbb8" stroke-width="1.00" fill="none"/>
<path d="M155.7 99.2L159.3 95.4M174.0 99.6L170.3 96.9" stroke="#84dcaf" stroke-width="1.00" fill="none"/>
<path d="M159.3 95.4L162.9 91.6M137.4 93.1L133.7 90.6" stroke="#8edda5" stroke-width="1.00" fill="none"/>
<path d="M170.2 84.0L173.8 80.3M195.8 84.6L192.1 81.6" stroke="#b4db84" stroke-width="1.00" fill="none"/>
<path d="M173.8 80.3L177.4 76.5" stroke="#c0d979" stroke-width="1.00" fill="none"/>
<path d="M188.2 65.1L191.8 61.3M169.9 63.7L166.2 60.8" stroke="#edcf6a" stroke-width="1.00" fill="none"/>
<path d="M191.8 61.3L195.4 57.6M173.5 59.8L169.8 56.7" stroke="#f6ce71" stroke-width="1.00" fill="none"/>
<path d="M195.4 57.6L199.1 53.8M169.8 56.7L173.4 52.7" stroke="#fdcf74" stroke-width="1.00" fill="none"/>
<path d="M199.1 53.8L202.7 50.0M173.4 52.7L177.0 48.6" stroke="#fed46f" stroke-width="1.00" fill="none"/>
<path d="M202.7 50.0L206.3 46.2M177.0 48.6L180.6 44.6M210.0 49.6L206.3 46.2" stroke="#feda6a" stroke-width="1.00" fill="none"/>
<path d="M112.3 138.9L115.9 135.1M108.7 137.1L105.0 135.3M207.4 145.3L203.8 142.9M314.0 145.7L310.3 142.3" stroke="#75c4ee" stroke-width="1.00" fill="none"/>
<path d="M123.2 127.4L126.8 123.6M156.1 129.2L152.4 127.0M203.7 132.1L200.0 129.6M269.7 133.6L266.0 130.5" stroke="#65cee3" stroke-width="1.00" fill="none"/>
<path d="M148.4 100.5L152.0 96.6M126.5 98.8L130.1 94.7" stroke="#80dcb3" stroke-width="1.00" fill="none"/>
<path d="M155.6 92.8L159.3 88.9" stroke="#95dd9f" stroke-width="1.00" fill="none"/>
<path d="M159.3 88.9L162.9 85.1M137.3 86.5L133.6 83.9M203.2 90.6L199.5 87.6" stroke="#a1dd93" stroke-width="1.00" fill="none"/>
<path d="M170.1 77.4L173.7 73.5M140.8 75.6L144.4 71.4M195.7 78.0L192.0 75.0" stroke="#c9d773" stroke-width="1.00" fill="none"/>
<path d="M173.7 73.5L177.3 69.7" stroke="#d5d56b" stroke-width="1.00" fill="none"/>
<path d="M184.5 62.0L188.1 58.2" stroke="#f4ce70" stroke-width="1.00" fill="none"/>
<path d="M188.1 58.2L191.7 54.3M169.8 56.7L166.1 53.7M195.4 57.6L191.7 54.3" stroke="#fccf74" stroke-width="1.00" fill="none"/>
<path d="M191.7 54.3L195.4 50.5M173.4 52.7L169.7 49.6" stroke="#fed370" stroke-width="1.00" fill="none"/>
<path d="M195.4 50.5L199.0 46.6M169.7 49.6L173.3 45.5M202.7 50.0L199.0 46.6" stroke="#fed96b" stroke-width="1.00" fill="none"/>
<path d="M199.0 46.6L202.6 42.8M173.3 45.5L176.9 41.4M206.3 46.2L202.6 42.8" stroke="#fcdf67" stroke-width="1.00" fill="none"/>
<path d="M115.9 129.3L119.5 125.4" stroke="#6acce7" stroke-width="1.00" fill="none"/>
<path d="M144.7 98.0L148.4 94.1" stroke="#85dcae" stroke-width="1.00" fill="none"/>
<path d="M148.4 94.1L152.0 90.2M166.6 94.3L162.9 91.6" stroke="#90dda3" stroke-width="1.00" fill="none"/>
<path d="M155.6 86.3L159.2 82.4" stroke="#aadc8d" stroke-width="1.00" fill="none"/>
<path d="M159.2 82.4L162.8 78.5M203.1 84.1L199.4 81.1" stroke="#b7da81" stroke-width="1.00" fill="none"/>
<path d="M166.4 74.5L170.0 70.6" stroke="#d1d56e" stroke-width="1.00" fill="none"/>
<path d="M170.0 70.6L173.6 66.7M195.6 71.3L191.9 68.2" stroke="#ddd368" stroke-width="1.00" fill="none"/>
<path d="M184.4 55.0L188.0 51.1" stroke="#fed272" stroke-width="1.00" fill="none"/>
<path d="M188.0 51.1L191.6 47.2M169.7 49.6L166.0 46.5" stroke="#fed76c" stroke-width="1.00" fill="none"/>
<path d="M191.6 47.2L195.2 43.3" stroke="#fcde68" stroke-width="1.00" fill="none"/>
<path d="M195.2 43.3L198.9 39.3M169.6 42.3L173.2 38.1" stroke="#fae464" stroke-width="1.00" fill="none"/>
<path d="M108.6 131.3L112.2 127.3M94.0 129.8L97.6 125.6M104.9 129.4L101.3 127.5" stroke="#6ecae9" stroke-width="1.00" fill="none"/>
<path d="M148.3 87.6L151.9 83.6M166.6 87.8L162.9 85.1M184.9 88.8L181.2 86.0M210.5 90.2L206.8 87.2" stroke="#a4dc91" stroke-width="1.00" fill="none"/>
<path d="M151.9 83.6L155.5 79.6M236.2 86.8L232.5 83.5" stroke="#b2db86" stroke-width="1.00" fill="none"/>
<path d="M155.5 79.6L159.1 75.7" stroke="#bfd97a" stroke-width="1.00" fill="none"/>
<path d="M159.1 75.7L162.7 71.7" stroke="#ccd670" stroke-width="1.00" fill="none"/>
<path d="M166.3 67.7L169.9 63.7" stroke="#e4d168" stroke-width="1.00" fill="none"/>
<path d="M169.9 63.7L173.5 59.8" stroke="#efcf6b" stroke-width="1.00" fill="none"/>
<path d="M180.7 51.8L184.3 47.8" stroke="#fed66e" stroke-width="1.00" fill="none"/>
<path d="M184.3 47.8L187.9 43.9" stroke="#fddc69" stroke-width="1.00" fill="none"/>
<path d="M187.9 43.9L191.5 39.9M195.2 43.3L191.5 39.9" stroke="#fae364" stroke-width="1.00" fill="none"/>
<path d="M191.5 39.9L195.1 35.9" stroke="#f8e960" stroke-width="1.00" fill="none"/>
<path d="M90.5 145.6L94.1 141.5M214.9 155.1L211.2 152.7" stroke="#7cbcf4" stroke-width="1.00" fill="none"/>
<path d="M119.4 113.2L123.0 109.2M181.5 116.9L177.9 114.4" stroke="#69d5cf" stroke-width="1.00" fill="none"/>
<path d="M137.4 93.1L141.0 89.0M126.4 92.3L130.0 88.1M210.6 96.6L206.9 93.6M262.0 97.7L258.3 94.2" stroke="#91dda3" stroke-width="1.00" fill="none"/>
<path d="M144.6 85.0L148.2 80.9" stroke="#acdc8b" stroke-width="1.00" fill="none"/>
<path d="M151.8 76.9L155.4 72.9M170.1 77.4L166.4 74.5" stroke="#c7d874" stroke-width="1.00" fill="none"/>
<path d="M155.4 72.9L159.0 68.8" stroke="#d4d56c" stroke-width="1.00" fill="none"/>
<path d="M166.2 60.8L169.8 56.7M191.8 61.3L188.1 58.2" stroke="#f5ce70" stroke-width="1.00" fill="none"/>
<path d="M180.6 44.6L184.2 40.6" stroke="#fbe165" stroke-width="1.00" fill="none"/>
<path d="M184.2 40.6L187.8 36.5" stroke="#f8e861" stroke-width="1.00" fill="none"/>
<path d="M187.8 36.5L191.4 32.5" stroke="#f7ee5d" stroke-width="1.00" fill="none"/>
<path d="M76.1 156.2L79.7 152.1" stroke="#83b0fd" stroke-width="1.00" fill="none"/>
<path d="M104.9 123.4L108.5 119.3" stroke="#60d0e1" stroke-width="1.00" fill="none"/>
<path d="M112.1 115.2L115.7 111.1M134.0 115.9L130.3 113.6M166.9 118.8L163.2 116.4M203.6 120.9L199.9 118.2M269.6 122.3L265.9 119.1" stroke="#62d4d3" stroke-width="1.00" fill="none"/>
<path d="M133.7 90.6L137.3 86.5" stroke="#97dd9d" stroke-width="1.00" fill="none"/>
<path d="M137.3 86.5L140.9 82.4M217.9 90.0L214.2 86.9M254.6 90.8L250.8 87.4" stroke="#a5dc90" stroke-width="1.00" fill="none"/>
<path d="M140.9 82.4L144.5 78.3" stroke="#b3db84" stroke-width="1.00" fill="none"/>
<path d="M148.1 74.2L151.7 70.1M166.4 74.5L162.7 71.7M184.7 75.7L181.0 72.7M217.7 77.0L214.0 73.8" stroke="#cfd66f" stroke-width="1.00" fill="none"/>
<path d="M151.7 70.1L155.3 66.0" stroke="#dcd368" stroke-width="1.00" fill="none"/>
<path d="M155.3 66.0L158.9 61.9M199.3 67.7L195.5 64.5" stroke="#e7d068" stroke-width="1.00" fill="none"/>
<path d="M158.9 61.9L162.5 57.8M210.2 63.7L206.5 60.4" stroke="#f1ce6e" stroke-width="1.00" fill="none"/>
<path d="M166.1 53.7L169.7 49.6M191.7 54.3L188.0 51.1" stroke="#fed271" stroke-width="1.00" fill="none"/>
<path d="M176.9 41.4L180.5 37.3" stroke="#f9e662" stroke-width="1.00" fill="none"/>
<path d="M180.5 37.3L184.1 33.2" stroke="#f8ed5e" stroke-width="1.00" fill="none"/>
<path d="M184.1 33.2L187.7 29.1" stroke="#f8f459" stroke-width="1.00" fill="none"/>
<path d="M65.2 163.1L68.8 158.9M163.7 174.0L160.1 172.2M222.3 177.9L218.6 175.8M251.7 178.5L248.0 176.2" stroke="#8ea8fe" stroke-width="1.00" fill="none"/>
<path d="M97.6 125.6L101.2 121.4M108.5 125.4L104.9 123.4M134.1 127.7L130.4 125.6M196.3 132.6L192.7 130.2M277.1 134.4L273.4 131.2M295.5 134.2L291.8 130.8" stroke="#67cee4" stroke-width="1.00" fill="none"/>
<path d="M101.2 121.4L104.8 117.3M148.7 124.7L145.0 122.5M159.7 125.7L156.0 123.4M189.0 127.7L185.3 125.2M214.6 128.9L210.9 126.2M258.7 129.9L255.0 126.8M284.4 129.7L280.7 126.4" stroke="#5ed1de" stroke-width="1.00" fill="none"/>
<path d="M115.6 104.8L119.2 100.6M177.8 108.4L174.1 105.8M196.1 109.6L192.4 106.9M276.8 111.4L273.1 108.0" stroke="#76d9c1" stroke-width="1.00" fill="none"/>
<path d="M144.4 71.4L148.0 67.3" stroke="#d6d46a" stroke-width="1.00" fill="none"/>
<path d="M151.6 63.1L155.2 58.9" stroke="#eecf6a" stroke-width="1.00" fill="none"/>
<path d="M155.2 58.9L158.8 54.8M199.2 60.8L195.4 57.6" stroke="#f7ce72" stroke-width="1.00" fill="none"/>
<path d="M162.4 50.6L166.0 46.5" stroke="#fed66d" stroke-width="1.00" fill="none"/>
<path d="M166.0 46.5L169.6 42.3M191.6 47.2L187.9 43.9" stroke="#fddd68" stroke-width="1.00" fill="none"/>
<path d="M173.2 38.1L176.8 34.0" stroke="#f8eb5f" stroke-width="1.00" fill="none"/>
<path d="M176.8 34.0L180.4 29.8" stroke="#f8f25a" stroke-width="1.00" fill="none"/>
<path d="M180.4 29.8L184.0 25.6" stroke="#f9f953" stroke-width="1.00" fill="none"/>
<path d="M171.0 223.9L167.4 223.0M167.4 223.0L163.7 222.1M163.7 222.1L160.1 221.2" stroke="#9588d0" stroke-width="1.00" fill="none"/>
<path d="M72.7 186.2L69.0 185.1" stroke="#9692f0" stroke-width="1.00" fill="none"/>
<path d="M76.2 167.1L72.5 165.7M163.8 178.4L160.1 176.8M196.7 181.2L193.0 179.3" stroke="#91a3fe" stroke-width="1.00" fill="none"/>
<path d="M101.6 161.2L97.9 159.7M134.5 165.3L130.8 163.6M193.0 170.5L189.3 168.5M211.3 171.6L207.6 169.5M262.7 172.7L259.0 170.2" stroke="#88adfe" stroke-width="1.00" fill="none"/>
<path d="M112.1 121.3L108.5 119.3" stroke="#5ed1df" stroke-width="1.00" fill="none"/>
<path d="M203.9 158.0L200.2 155.8M269.9 159.4L266.2 156.6" stroke="#7eb9f7" stroke-width="1.00" fill="none"/>
<path d="M145.0 116.6L141.3 114.3M185.2 119.5L181.5 116.9M288.0 121.7L284.3 118.3" stroke="#63d5d3" stroke-width="1.00" fill="none"/>
<path d="M141.3 114.3L137.6 112.0M152.3 115.2L148.6 112.9M199.9 118.2L196.2 115.6" stroke="#68d5d0" stroke-width="1.00" fill="none"/>
<path d="M130.2 107.5L126.6 105.2M273.2 114.0L269.5 110.6" stroke="#74d8c6" stroke-width="1.00" fill="none"/>
<path d="M126.5 98.8L122.8 96.4M137.5 99.5L133.8 97.1M148.4 100.5L144.7 98.0M196.0 103.6L192.3 100.8" stroke="#7edbb5" stroke-width="1.00" fill="none"/>
<path d="M152.1 103.0L148.4 100.5M181.4 104.9L177.7 102.3" stroke="#7adbba" stroke-width="1.00" fill="none"/>
<path d="M133.7 90.6L130.0 88.1M144.7 91.6L141.0 89.0" stroke="#94dda0" stroke-width="1.00" fill="none"/>
<path d="M188.9 122.0L185.2 119.5M214.6 123.3L210.9 120.6M258.6 124.2L254.9 121.1" stroke="#5ed3d6" stroke-width="1.00" fill="none"/>
<path d="M155.7 99.2L152.0 96.6M218.0 102.5L214.3 99.5M254.7 103.3L251.0 100.0" stroke="#82dcb1" stroke-width="1.00" fill="none"/>
<path d="M152.0 96.6L148.4 94.1M207.0 99.8L203.3 96.9M265.7 101.1L262.0 97.7" stroke="#87dcab" stroke-width="1.00" fill="none"/>
<path d="M148.4 94.1L144.7 91.6" stroke="#8ddda6" stroke-width="1.00" fill="none"/>
<path d="M163.0 98.0L159.3 95.4" stroke="#86dcad" stroke-width="1.00" fill="none"/>
<path d="M152.0 90.2L148.3 87.6" stroke="#99dd9a" stroke-width="1.00" fill="none"/>
<path d="M148.3 87.6L144.6 85.0" stroke="#a1dd94" stroke-width="1.00" fill="none"/>
<path d="M144.6 85.0L140.9 82.4M192.2 88.1L188.5 85.2" stroke="#a8dc8e" stroke-width="1.00" fill="none"/>
<path d="M196.2 115.6L192.5 112.9" stroke="#6ed6cc" stroke-width="1.00" fill="none"/>
<path d="M162.9 91.6L159.3 88.9" stroke="#97dd9c" stroke-width="1.00" fill="none"/>
<path d="M159.3 88.9L155.6 86.3M195.9 91.1L192.2 88.1" stroke="#9fdd95" stroke-width="1.00" fill="none"/>
<path d="M148.2 80.9L144.5 78.3" stroke="#b7da82" stroke-width="1.00" fill="none"/>
<path d="M144.5 78.3L140.8 75.6M173.8 80.3L170.1 77.4" stroke="#bed97b" stroke-width="1.00" fill="none"/>
<path d="M210.9 120.6L207.2 117.8" stroke="#63d5d2" stroke-width="1.00" fill="none"/>
<path d="M185.0 101.5L181.3 98.7M210.7 102.8L207.0 99.8M262.1 103.9L258.4 100.5" stroke="#81dcb2" stroke-width="1.00" fill="none"/>
<path d="M181.3 98.7L177.6 96.0" stroke="#87dcac" stroke-width="1.00" fill="none"/>
<path d="M173.9 93.3L170.3 90.5M192.3 94.5L188.6 91.7" stroke="#94dd9f" stroke-width="1.00" fill="none"/>
<path d="M159.2 82.4L155.5 79.6" stroke="#b4db83" stroke-width="1.00" fill="none"/>
<path d="M155.5 79.6L151.8 76.9" stroke="#bdda7c" stroke-width="1.00" fill="none"/>
<path d="M148.1 74.2L144.4 71.4M203.0 77.6L199.3 74.5" stroke="#ccd771" stroke-width="1.00" fill="none"/>
<path d="M214.5 117.5L210.8 114.8M258.6 118.5L254.8 115.3" stroke="#6bd6cd" stroke-width="1.00" fill="none"/>
<path d="M181.3 92.4L177.6 89.6" stroke="#98dd9b" stroke-width="1.00" fill="none"/>
<path d="M162.8 78.5L159.1 75.7" stroke="#c2d978" stroke-width="1.00" fill="none"/>
<path d="M155.4 72.9L151.7 70.1M192.0 75.0L188.3 72.0" stroke="#d2d56d" stroke-width="1.00" fill="none"/>
<path d="M210.8 108.8L207.1 106.0" stroke="#78d9be" stroke-width="1.00" fill="none"/>
<path d="M181.2 86.0L177.5 83.1" stroke="#addc8a" stroke-width="1.00" fill="none"/>
<path d="M177.5 83.1L173.8 80.3" stroke="#b6da82" stroke-width="1.00" fill="none"/>
<path d="M155.3 66.0L151.6 63.1M191.9 68.2L188.2 65.1" stroke="#e5d168" stroke-width="1.00" fill="none"/>
<path d="M244.0 129.0L240.3 126.1" stroke="#5dd1dd" stroke-width="1.00" fill="none"/>
<path d="M221.8 111.5L218.1 108.6M251.1 112.1L247.4 109.0" stroke="#75d9c3" stroke-width="1.00" fill="none"/>
<path d="M181.1 79.4L177.4 76.5M206.7 80.7L203.0 77.6" stroke="#c2d878" stroke-width="1.00" fill="none"/>
<path d="M177.4 76.5L173.7 73.5" stroke="#cbd772" stroke-width="1.00" fill="none"/>
<path d="M170.0 70.6L166.3 67.7" stroke="#dbd369" stroke-width="1.00" fill="none"/>
<path d="M158.9 61.9L155.2 58.9M177.2 62.8L173.5 59.8M202.9 64.0L199.2 60.8" stroke="#f0ce6c" stroke-width="1.00" fill="none"/>
<path d="M214.3 99.5L210.6 96.6M258.4 100.5L254.6 97.1" stroke="#89ddaa" stroke-width="1.00" fill="none"/>
<path d="M206.9 93.6L203.2 90.6" stroke="#99dd9b" stroke-width="1.00" fill="none"/>
<path d="M199.5 87.6L195.8 84.6" stroke="#abdc8c" stroke-width="1.00" fill="none"/>
<path d="M192.1 81.6L188.4 78.7" stroke="#bdd97c" stroke-width="1.00" fill="none"/>
<path d="M177.3 69.7L173.6 66.7M203.0 70.9L199.3 67.7" stroke="#dfd267" stroke-width="1.00" fill="none"/>
<path d="M162.5 57.8L158.8 54.8M213.8 60.1L210.1 56.7" stroke="#f9ce74" stroke-width="1.00" fill="none"/>
<path d="M214.2 93.3L210.5 90.2M258.3 94.2L254.6 90.8" stroke="#9add99" stroke-width="1.00" fill="none"/>
<path d="M206.8 87.2L203.1 84.1" stroke="#addc89" stroke-width="1.00" fill="none"/>
<path d="M199.4 81.1L195.7 78.0" stroke="#c0d97a" stroke-width="1.00" fill="none"/>
<path d="M166.1 53.7L162.4 50.6M184.4 55.0L180.7 51.8" stroke="#fed172" stroke-width="1.00" fill="none"/>
<path d="M210.5 83.8L206.7 80.7" stroke="#b9da80" stroke-width="1.00" fill="none"/>
<path d="M199.3 74.5L195.6 71.3" stroke="#d4d56b" stroke-width="1.00" fill="none"/>
<path d="M188.2 65.1L184.5 62.0M228.6 66.8L224.9 63.4" stroke="#eccf6a" stroke-width="1.00" fill="none"/>
<path d="M177.1 55.8L173.4 52.7M202.8 57.1L199.1 53.8" stroke="#fdd073" stroke-width="1.00" fill="none"/>
<path d="M217.8 83.6L214.1 80.4" stroke="#bada7e" stroke-width="1.00" fill="none"/>
<path d="M210.4 77.2L206.7 74.0" stroke="#ced670" stroke-width="1.00" fill="none"/>
<path d="M195.5 64.5L191.8 61.3" stroke="#eecf6b" stroke-width="1.00" fill="none"/>
<path d="M188.1 58.2L184.4 55.0" stroke="#fbce74" stroke-width="1.00" fill="none"/>
<path d="M177.0 48.6L173.3 45.5" stroke="#feda6b" stroke-width="1.00" fill="none"/>
<path d="M173.3 45.5L169.6 42.3M199.0 46.6L195.2 43.3" stroke="#fcde67" stroke-width="1.00" fill="none"/>
<path d="M280.7 132.1L277.0 128.8" stroke="#62cfe1" stroke-width="1.00" fill="none"/>
<path d="M225.1 83.5L221.4 80.2M247.1 83.9L243.4 80.5" stroke="#bbda7d" stroke-width="1.00" fill="none"/>
<path d="M221.4 80.2L217.7 77.0" stroke="#c5d875" stroke-width="1.00" fill="none"/>
<path d="M214.0 73.8L210.3 70.5" stroke="#d8d46a" stroke-width="1.00" fill="none"/>
<path d="M210.3 70.5L206.6 67.3" stroke="#e1d267" stroke-width="1.00" fill="none"/>
<path d="M188.0 51.1L184.3 47.8" stroke="#fed76d" stroke-width="1.00" fill="none"/>
<path d="M184.3 47.8L180.6 44.6" stroke="#fddb69" stroke-width="1.00" fill="none"/>
<path d="M180.6 44.6L176.9 41.4" stroke="#fbe066" stroke-width="1.00" fill="none"/>
<path d="M176.9 41.4L173.2 38.1M202.6 42.8L198.9 39.3" stroke="#f9e563" stroke-width="1.00" fill="none"/>
<path d="M273.3 119.8L269.6 116.5" stroke="#68d5cf" stroke-width="1.00" fill="none"/>
<path d="M265.8 113.2L262.1 109.9" stroke="#74d8c4" stroke-width="1.00" fill="none"/>
<path d="M213.9 67.0L210.2 63.7" stroke="#ead069" stroke-width="1.00" fill="none"/>
<path d="M206.5 60.4L202.8 57.1" stroke="#f8ce73" stroke-width="1.00" fill="none"/>
<path d="M199.1 53.8L195.4 50.5" stroke="#fed470" stroke-width="1.00" fill="none"/>
<path d="M195.4 50.5L191.6 47.2" stroke="#fed86c" stroke-width="1.00" fill="none"/>
<path d="M187.9 43.9L184.2 40.6" stroke="#fbe265" stroke-width="1.00" fill="none"/>
<path d="M184.2 40.6L180.5 37.3" stroke="#f9e762" stroke-width="1.00" fill="none"/>
<path d="M180.5 37.3L176.8 34.0" stroke="#f8ec5f" stroke-width="1.00" fill="none"/>
<path d="M217.5 63.5L213.8 60.1" stroke="#f3ce6e" stroke-width="1.00" fill="none"/>
<path d="M206.4 53.4L202.7 50.0" stroke="#fed56f" stroke-width="1.00" fill="none"/>
<path d="M191.5 39.9L187.8 36.5" stroke="#f8e961" stroke-width="1.00" fill="none"/>
<path d="M187.8 36.5L184.1 33.2" stroke="#f7ee5e" stroke-width="1.00" fill="none"/>
<path d="M184.1 33.2L180.4 29.8" stroke="#f8f35a" stroke-width="1.00" fill="none"/>
<path d="M250.8 87.4L247.1 83.9" stroke="#b1db87" stroke-width="1.00" fill="none"/>
<path d="M217.4 56.5L213.7 53.1" stroke="#fed173" stroke-width="1.00" fill="none"/>
<path d="M198.9 39.3L195.1 35.9" stroke="#f8ea60" stroke-width="1.00" fill="none"/>
<path d="M195.1 35.9L191.4 32.5" stroke="#f7ef5d" stroke-width="1.00" fill="none"/>
<path d="M191.4 32.5L187.7 29.1" stroke="#f8f458" stroke-width="1.00" fill="none"/>
<path d="M187.7 29.1L184.0 25.6" stroke="#faf952" stroke-width="1.00" fill="none"/>
<line x1="40.00" y1="198.00" x2="40.00" y2="25.80" stroke="#7a7a7a" stroke-width="1.10"/>
<line x1="40.00" y1="198.00" x2="171.00" y2="225.00" stroke="#7a7a7a" stroke-width="1.10"/>
<line x1="171.00" y1="225.00" x2="317.70" y2="200.50" stroke="#7a7a7a" stroke-width="1.10"/>
<line x1="40.00" y1="198.00" x2="37.50" y2="198.00" stroke="#7a7a7a" stroke-width="1.00"/>
<text transform="translate(32.60,201.77) scale(1,1.000)" font-size="10.50" text-anchor="end" fill="#3a3a3a" stroke="#3a3a3a" stroke-width="0.08">0</text>
<line x1="40.00" y1="169.30" x2="37.50" y2="169.30" stroke="#7a7a7a" stroke-width="1.00"/>
<text transform="translate(32.60,173.07) scale(1,1.000)" font-size="10.50" text-anchor="end" fill="#3a3a3a" stroke="#3a3a3a" stroke-width="0.08">1</text>
<line x1="40.00" y1="140.60" x2="37.50" y2="140.60" stroke="#7a7a7a" stroke-width="1.00"/>
<text transform="translate(32.60,144.37) scale(1,1.000)" font-size="10.50" text-anchor="end" fill="#3a3a3a" stroke="#3a3a3a" stroke-width="0.08">2</text>
<line x1="40.00" y1="111.90" x2="37.50" y2="111.90" stroke="#7a7a7a" stroke-width="1.00"/>
<text transform="translate(32.60,115.67) scale(1,1.000)" font-size="10.50" text-anchor="end" fill="#3a3a3a" stroke="#3a3a3a" stroke-width="0.08">3</text>
<line x1="40.00" y1="83.20" x2="37.50" y2="83.20" stroke="#7a7a7a" stroke-width="1.00"/>
<text transform="translate(32.60,86.97) scale(1,1.000)" font-size="10.50" text-anchor="end" fill="#3a3a3a" stroke="#3a3a3a" stroke-width="0.08">4</text>
<line x1="40.00" y1="54.50" x2="37.50" y2="54.50" stroke="#7a7a7a" stroke-width="1.00"/>
<text transform="translate(32.60,58.27) scale(1,1.000)" font-size="10.50" text-anchor="end" fill="#3a3a3a" stroke="#3a3a3a" stroke-width="0.08">5</text>
<line x1="40.00" y1="25.80" x2="37.50" y2="25.80" stroke="#7a7a7a" stroke-width="1.00"/>
<text transform="translate(32.60,29.57) scale(1,1.000)" font-size="10.50" text-anchor="end" fill="#3a3a3a" stroke="#3a3a3a" stroke-width="0.08">6</text>
<line x1="66.20" y1="203.40" x2="65.20" y2="205.90" stroke="#7a7a7a" stroke-width="1.00"/>
<text transform="translate(53.70,215.70) scale(1,1.080)" font-size="11.50" text-anchor="middle" fill="#3a3a3a" stroke="#3a3a3a" stroke-width="0.08">0.9</text>
<line x1="92.40" y1="208.80" x2="91.40" y2="211.30" stroke="#7a7a7a" stroke-width="1.00"/>
<text transform="translate(79.90,221.10) scale(1,1.080)" font-size="11.50" text-anchor="middle" fill="#3a3a3a" stroke="#3a3a3a" stroke-width="0.08">0.8</text>
<line x1="118.60" y1="214.20" x2="117.60" y2="216.70" stroke="#7a7a7a" stroke-width="1.00"/>
<text transform="translate(106.10,226.50) scale(1,1.080)" font-size="11.50" text-anchor="middle" fill="#3a3a3a" stroke="#3a3a3a" stroke-width="0.08">0.7</text>
<line x1="144.80" y1="219.60" x2="143.80" y2="222.10" stroke="#7a7a7a" stroke-width="1.00"/>
<text transform="translate(132.30,231.90) scale(1,1.080)" font-size="11.50" text-anchor="middle" fill="#3a3a3a" stroke="#3a3a3a" stroke-width="0.08">0.6</text>
<line x1="171.00" y1="225.00" x2="170.00" y2="227.50" stroke="#7a7a7a" stroke-width="1.00"/>
<text transform="translate(158.50,237.30) scale(1,1.080)" font-size="11.50" text-anchor="middle" fill="#3a3a3a" stroke="#3a3a3a" stroke-width="0.08">0.5</text>
<line x1="202.68" y1="219.71" x2="203.68" y2="222.21" stroke="#7a7a7a" stroke-width="1.00"/>
<text transform="translate(210.18,231.81) scale(1,1.080)" font-size="11.50" text-anchor="middle" fill="#3a3a3a" stroke="#3a3a3a" stroke-width="0.08">1</text>
<line x1="234.37" y1="214.42" x2="235.37" y2="216.92" stroke="#7a7a7a" stroke-width="1.00"/>
<text transform="translate(241.87,226.52) scale(1,1.080)" font-size="11.50" text-anchor="middle" fill="#3a3a3a" stroke="#3a3a3a" stroke-width="0.08">2</text>
<line x1="266.05" y1="209.13" x2="267.05" y2="211.63" stroke="#7a7a7a" stroke-width="1.00"/>
<text transform="translate(273.55,221.22) scale(1,1.080)" font-size="11.50" text-anchor="middle" fill="#3a3a3a" stroke="#3a3a3a" stroke-width="0.08">3</text>
<line x1="297.74" y1="203.83" x2="298.74" y2="206.33" stroke="#7a7a7a" stroke-width="1.00"/>
<text transform="translate(305.24,215.93) scale(1,1.080)" font-size="11.50" text-anchor="middle" fill="#3a3a3a" stroke="#3a3a3a" stroke-width="0.08">4</text>
<text transform="translate(1.20,21.70) scale(1,1.000)" font-size="18.00" text-anchor="start" fill="#111" stroke="#111" stroke-width="0.08" font-weight="bold">(a)</text>
<text transform="translate(11.80,117.70) rotate(-90) scale(1,1.080)" y="4.12" font-size="12.50" text-anchor="middle" fill="#3a3a3a" stroke="#3a3a3a" stroke-width="0.08" textLength="165.0" lengthAdjust="spacingAndGlyphs">Passive Bending Torque (M<tspan baseline-shift="sub" font-size="75%">b</tspan>) (N.m)</text>
<text transform="translate(27.70,240.56) scale(1,1.080)" font-size="12.50" text-anchor="start" fill="#3a3a3a" stroke="#3a3a3a" stroke-width="0.08" textLength="72.0" lengthAdjust="spacingAndGlyphs">Aspect Ratio (v)</text>
<text transform="translate(169.60,242.36) scale(1,1.080)" font-size="12.50" text-anchor="start" fill="#3a3a3a" stroke="#3a3a3a" stroke-width="0.08" textLength="139.0" lengthAdjust="spacingAndGlyphs">Overall Bending Angle (<tspan font-style="italic">&#952;</tspan>) (&#176;)</text>
<polyline points="388.60,190.90 507.50,156.60 658.00,184.40" fill="none" stroke="#efefef" stroke-width="1"/>
<polyline points="388.60,153.40 507.50,119.10 658.00,146.90" fill="none" stroke="#efefef" stroke-width="1"/>
<polyline points="388.60,115.90 507.50,81.60 658.00,109.40" fill="none" stroke="#efefef" stroke-width="1"/>
<polyline points="388.60,78.40 507.50,44.10 658.00,71.90" fill="none" stroke="#efefef" stroke-width="1"/>
<polyline points="388.60,40.90 507.50,6.60 658.00,34.40" fill="none" stroke="#efefef" stroke-width="1"/>
<line x1="440.03" y1="176.06" x2="440.03" y2="26.06" stroke="#efefef" stroke-width="1.00"/>
<line x1="440.03" y1="176.06" x2="590.53" y2="203.86" stroke="#efefef" stroke-width="1.00"/>
<line x1="491.47" y1="161.22" x2="491.47" y2="11.22" stroke="#efefef" stroke-width="1.00"/>
<line x1="491.47" y1="161.22" x2="641.97" y2="189.02" stroke="#efefef" stroke-width="1.00"/>
<line x1="658.00" y1="184.40" x2="658.00" y2="34.40" stroke="#efefef" stroke-width="1.00"/>
<line x1="658.00" y1="184.40" x2="539.10" y2="218.70" stroke="#efefef" stroke-width="1.00"/>
<line x1="624.56" y1="178.22" x2="624.56" y2="28.22" stroke="#efefef" stroke-width="1.00"/>
<line x1="624.56" y1="178.22" x2="505.66" y2="212.52" stroke="#efefef" stroke-width="1.00"/>
<line x1="591.11" y1="172.04" x2="591.11" y2="22.04" stroke="#efefef" stroke-width="1.00"/>
<line x1="591.11" y1="172.04" x2="472.21" y2="206.34" stroke="#efefef" stroke-width="1.00"/>
<line x1="557.67" y1="165.87" x2="557.67" y2="15.87" stroke="#efefef" stroke-width="1.00"/>
<line x1="557.67" y1="165.87" x2="438.77" y2="200.17" stroke="#efefef" stroke-width="1.00"/>
<line x1="524.22" y1="159.69" x2="524.22" y2="9.69" stroke="#efefef" stroke-width="1.00"/>
<line x1="524.22" y1="159.69" x2="405.32" y2="193.99" stroke="#efefef" stroke-width="1.00"/>
<line x1="658.00" y1="184.40" x2="658.00" y2="34.40" stroke="#efefef" stroke-width="1.00"/>
<defs>
<linearGradient id="g0" gradientUnits="userSpaceOnUse" x1="539.0" y1="218.7" x2="657.9" y2="35.1"><stop offset="0.000" stop-color="#3e26a8"/><stop offset="0.042" stop-color="#4331c6"/><stop offset="0.083" stop-color="#463de0"/><stop offset="0.125" stop-color="#484cef"/><stop offset="0.167" stop-color="#475bf9"/><stop offset="0.208" stop-color="#426afe"/><stop offset="0.250" stop-color="#347afd"/><stop offset="0.292" stop-color="#2d89f6"/><stop offset="0.333" stop-color="#2796eb"/><stop offset="0.375" stop-color="#21a3e3"/><stop offset="0.417" stop-color="#17aeda"/><stop offset="0.458" stop-color="#02b7cb"/><stop offset="0.500" stop-color="#11beba"/><stop offset="0.542" stop-color="#2cc4a7"/><stop offset="0.583" stop-color="#3cc991"/><stop offset="0.625" stop-color="#5bcc77"/><stop offset="0.667" stop-color="#7fcc5a"/><stop offset="0.708" stop-color="#a5c83d"/><stop offset="0.750" stop-color="#c7c12a"/><stop offset="0.792" stop-color="#e4bb2c"/><stop offset="0.833" stop-color="#fabb3d"/><stop offset="0.875" stop-color="#fec934"/><stop offset="0.917" stop-color="#f8da2b"/><stop offset="0.958" stop-color="#f5ea23"/><stop offset="1.000" stop-color="#f9fa15"/></linearGradient>
<linearGradient id="g1" gradientUnits="userSpaceOnUse" x1="538.6" y1="218.6" x2="657.5" y2="36.2"><stop offset="0.000" stop-color="#3e26a8"/><stop offset="0.042" stop-color="#4331c6"/><stop offset="0.083" stop-color="#463de0"/><stop offset="0.125" stop-color="#484bef"/><stop offset="0.167" stop-color="#475af9"/><stop offset="0.208" stop-color="#4269fe"/><stop offset="0.250" stop-color="#3579fd"/><stop offset="0.292" stop-color="#2d88f6"/><stop offset="0.333" stop-color="#2895ec"/><stop offset="0.375" stop-color="#22a2e4"/><stop offset="0.417" stop-color="#18addb"/><stop offset="0.458" stop-color="#04b6cc"/><stop offset="0.500" stop-color="#0dbdbb"/><stop offset="0.542" stop-color="#2ac3a9"/><stop offset="0.583" stop-color="#3ac994"/><stop offset="0.625" stop-color="#57cc7a"/><stop offset="0.667" stop-color="#7acc5d"/><stop offset="0.708" stop-color="#a0c841"/><stop offset="0.750" stop-color="#c2c22c"/><stop offset="0.792" stop-color="#e0bc2a"/><stop offset="0.833" stop-color="#f8ba3d"/><stop offset="0.875" stop-color="#fec736"/><stop offset="0.917" stop-color="#f9d72d"/><stop offset="0.958" stop-color="#f5e725"/><stop offset="1.000" stop-color="#f8f719"/></linearGradient>
<linearGradient id="g2" gradientUnits="userSpaceOnUse" x1="538.1" y1="218.5" x2="657.0" y2="37.7"><stop offset="0.000" stop-color="#3e26a8"/><stop offset="0.042" stop-color="#4331c6"/><stop offset="0.083" stop-color="#463cdf"/><stop offset="0.125" stop-color="#484bef"/><stop offset="0.167" stop-color="#4759f9"/><stop offset="0.208" stop-color="#4368fe"/><stop offset="0.250" stop-color="#3678fd"/><stop offset="0.292" stop-color="#2e87f7"/><stop offset="0.333" stop-color="#2994ed"/><stop offset="0.375" stop-color="#23a1e5"/><stop offset="0.417" stop-color="#1aacdd"/><stop offset="0.458" stop-color="#06b5ce"/><stop offset="0.500" stop-color="#0abdbe"/><stop offset="0.542" stop-color="#27c2ab"/><stop offset="0.583" stop-color="#37c897"/><stop offset="0.625" stop-color="#51cc7f"/><stop offset="0.667" stop-color="#73cd62"/><stop offset="0.708" stop-color="#99c946"/><stop offset="0.750" stop-color="#bcc42f"/><stop offset="0.792" stop-color="#dabd28"/><stop offset="0.833" stop-color="#f3ba39"/><stop offset="0.875" stop-color="#fec338"/><stop offset="0.917" stop-color="#fbd32e"/><stop offset="0.958" stop-color="#f5e327"/><stop offset="1.000" stop-color="#f7f31d"/></linearGradient>
<linearGradient id="g3" gradientUnits="userSpaceOnUse" x1="537.5" y1="218.4" x2="656.4" y2="39.5"><stop offset="0.000" stop-color="#3e26a8"/><stop offset="0.042" stop-color="#4331c6"/><stop offset="0.083" stop-color="#463cdf"/><stop offset="0.125" stop-color="#484aee"/><stop offset="0.167" stop-color="#4759f8"/><stop offset="0.208" stop-color="#4367fd"/><stop offset="0.250" stop-color="#3777fe"/><stop offset="0.292" stop-color="#2e86f8"/><stop offset="0.333" stop-color="#2a93ee"/><stop offset="0.375" stop-color="#249fe5"/><stop offset="0.417" stop-color="#1babde"/><stop offset="0.458" stop-color="#08b4d1"/><stop offset="0.500" stop-color="#06bcc0"/><stop offset="0.542" stop-color="#24c1af"/><stop offset="0.583" stop-color="#34c79b"/><stop offset="0.625" stop-color="#4bcb84"/><stop offset="0.667" stop-color="#6ccd68"/><stop offset="0.708" stop-color="#91ca4c"/><stop offset="0.750" stop-color="#b4c533"/><stop offset="0.792" stop-color="#d3bf27"/><stop offset="0.833" stop-color="#edba33"/><stop offset="0.875" stop-color="#febf3b"/><stop offset="0.917" stop-color="#fdce31"/><stop offset="0.958" stop-color="#f6df29"/><stop offset="1.000" stop-color="#f5ee21"/></linearGradient>
<linearGradient id="g4" gradientUnits="userSpaceOnUse" x1="536.8" y1="218.3" x2="655.7" y2="41.4"><stop offset="0.000" stop-color="#3e26a8"/><stop offset="0.043" stop-color="#4331c6"/><stop offset="0.087" stop-color="#463de0"/><stop offset="0.130" stop-color="#484cef"/><stop offset="0.174" stop-color="#475af9"/><stop offset="0.217" stop-color="#4269fe"/><stop offset="0.261" stop-color="#3479fd"/><stop offset="0.304" stop-color="#2d88f6"/><stop offset="0.348" stop-color="#2896eb"/><stop offset="0.391" stop-color="#22a2e4"/><stop offset="0.435" stop-color="#18aedb"/><stop offset="0.478" stop-color="#03b7cc"/><stop offset="0.522" stop-color="#0fbeba"/><stop offset="0.565" stop-color="#2bc3a8"/><stop offset="0.609" stop-color="#3bc992"/><stop offset="0.652" stop-color="#59cc78"/><stop offset="0.696" stop-color="#7dcc5b"/><stop offset="0.739" stop-color="#a3c83f"/><stop offset="0.783" stop-color="#c5c22a"/><stop offset="0.826" stop-color="#e2bc2b"/><stop offset="0.870" stop-color="#f9bb3d"/><stop offset="0.913" stop-color="#fec835"/><stop offset="0.957" stop-color="#f8d92c"/><stop offset="1.000" stop-color="#f5e924"/></linearGradient>
<linearGradient id="g5" gradientUnits="userSpaceOnUse" x1="536.1" y1="218.1" x2="655.0" y2="43.4"><stop offset="0.000" stop-color="#3e26a8"/><stop offset="0.043" stop-color="#4331c6"/><stop offset="0.087" stop-color="#463ddf"/><stop offset="0.130" stop-color="#484bef"/><stop offset="0.174" stop-color="#4759f9"/><stop offset="0.217" stop-color="#4368fe"/><stop offset="0.261" stop-color="#3678fd"/><stop offset="0.304" stop-color="#2e87f7"/><stop offset="0.348" stop-color="#2994ed"/><stop offset="0.391" stop-color="#23a1e4"/><stop offset="0.435" stop-color="#19acdc"/><stop offset="0.478" stop-color="#06b5ce"/><stop offset="0.522" stop-color="#0abdbe"/><stop offset="0.565" stop-color="#27c2ab"/><stop offset="0.609" stop-color="#37c897"/><stop offset="0.652" stop-color="#51cc7f"/><stop offset="0.696" stop-color="#74cd62"/><stop offset="0.739" stop-color="#99c946"/><stop offset="0.783" stop-color="#bcc42f"/><stop offset="0.826" stop-color="#dabd28"/><stop offset="0.870" stop-color="#f3ba39"/><stop offset="0.913" stop-color="#fec338"/><stop offset="0.957" stop-color="#fbd32e"/><stop offset="1.000" stop-color="#f5e327"/></linearGradient>
<linearGradient id="g6" gradientUnits="userSpaceOnUse" x1="535.3" y1="218.0" x2="654.2" y2="45.5"><stop offset="0.000" stop-color="#3e26a8"/><stop offset="0.045" stop-color="#4331c7"/><stop offset="0.091" stop-color="#463de0"/><stop offset="0.136" stop-color="#484cf0"/><stop offset="0.182" stop-color="#475bf9"/><stop offset="0.227" stop-color="#416afe"/><stop offset="0.273" stop-color="#337bfd"/><stop offset="0.318" stop-color="#2d8af5"/><stop offset="0.364" stop-color="#2797eb"/><stop offset="0.409" stop-color="#20a4e3"/><stop offset="0.455" stop-color="#15afd9"/><stop offset="0.500" stop-color="#01b8c9"/><stop offset="0.545" stop-color="#15bfb7"/><stop offset="0.591" stop-color="#2ec4a4"/><stop offset="0.636" stop-color="#3fca8e"/><stop offset="0.682" stop-color="#5fcd73"/><stop offset="0.727" stop-color="#85cb55"/><stop offset="0.773" stop-color="#abc739"/><stop offset="0.818" stop-color="#ccc028"/><stop offset="0.864" stop-color="#e9bb2f"/><stop offset="0.909" stop-color="#fdbd3d"/><stop offset="0.955" stop-color="#fdcd32"/><stop offset="1.000" stop-color="#f6dd29"/></linearGradient>
<linearGradient id="g7" gradientUnits="userSpaceOnUse" x1="534.5" y1="217.8" x2="653.4" y2="47.7"><stop offset="0.000" stop-color="#3e26a8"/><stop offset="0.045" stop-color="#4331c6"/><stop offset="0.091" stop-color="#463de0"/><stop offset="0.136" stop-color="#484cef"/><stop offset="0.182" stop-color="#475af9"/><stop offset="0.227" stop-color="#4269fe"/><stop offset="0.273" stop-color="#3579fd"/><stop offset="0.318" stop-color="#2d88f6"/><stop offset="0.364" stop-color="#2896ec"/><stop offset="0.409" stop-color="#22a2e4"/><stop offset="0.455" stop-color="#18addb"/><stop offset="0.500" stop-color="#04b6cc"/><stop offset="0.545" stop-color="#0ebdbb"/><stop offset="0.591" stop-color="#2ac3a9"/><stop offset="0.636" stop-color="#3ac993"/><stop offset="0.682" stop-color="#57cc7a"/><stop offset="0.727" stop-color="#7bcc5d"/><stop offset="0.773" stop-color="#a0c841"/><stop offset="0.818" stop-color="#c3c22b"/><stop offset="0.864" stop-color="#e0bc2b"/><stop offset="0.909" stop-color="#f8ba3d"/><stop offset="0.955" stop-color="#fec735"/><stop offset="1.000" stop-color="#f9d72c"/></linearGradient>
<linearGradient id="g8" gradientUnits="userSpaceOnUse" x1="533.6" y1="217.7" x2="652.5" y2="49.8"><stop offset="0.000" stop-color="#3e26a8"/><stop offset="0.045" stop-color="#4331c6"/><stop offset="0.091" stop-color="#463cdf"/><stop offset="0.136" stop-color="#484bee"/><stop offset="0.182" stop-color="#4759f8"/><stop offset="0.227" stop-color="#4368fe"/><stop offset="0.273" stop-color="#3677fe"/><stop offset="0.318" stop-color="#2e86f7"/><stop offset="0.364" stop-color="#2994ed"/><stop offset="0.409" stop-color="#23a0e5"/><stop offset="0.455" stop-color="#1aacdd"/><stop offset="0.500" stop-color="#07b5cf"/><stop offset="0.545" stop-color="#08bcbf"/><stop offset="0.591" stop-color="#26c2ad"/><stop offset="0.636" stop-color="#36c899"/><stop offset="0.682" stop-color="#4ecc81"/><stop offset="0.727" stop-color="#70cd65"/><stop offset="0.773" stop-color="#96ca49"/><stop offset="0.818" stop-color="#b9c431"/><stop offset="0.864" stop-color="#d7be28"/><stop offset="0.909" stop-color="#f1ba36"/><stop offset="0.955" stop-color="#fec13a"/><stop offset="1.000" stop-color="#fcd12f"/></linearGradient>
<linearGradient id="g9" gradientUnits="userSpaceOnUse" x1="532.6" y1="217.5" x2="651.5" y2="52.0"><stop offset="0.000" stop-color="#3e26a8"/><stop offset="0.048" stop-color="#4331c7"/><stop offset="0.095" stop-color="#463de0"/><stop offset="0.143" stop-color="#484cf0"/><stop offset="0.190" stop-color="#475bf9"/><stop offset="0.238" stop-color="#426afe"/><stop offset="0.286" stop-color="#337afd"/><stop offset="0.333" stop-color="#2d89f5"/><stop offset="0.381" stop-color="#2797eb"/><stop offset="0.429" stop-color="#21a3e3"/><stop offset="0.476" stop-color="#16afda"/><stop offset="0.524" stop-color="#01b7ca"/><stop offset="0.571" stop-color="#13beb9"/><stop offset="0.619" stop-color="#2dc4a6"/><stop offset="0.667" stop-color="#3eca90"/><stop offset="0.714" stop-color="#5dcc75"/><stop offset="0.762" stop-color="#82cc58"/><stop offset="0.810" stop-color="#a7c73c"/><stop offset="0.857" stop-color="#c9c129"/><stop offset="0.905" stop-color="#e6bb2d"/><stop offset="0.952" stop-color="#fcbc3d"/><stop offset="1.000" stop-color="#fdcb33"/></linearGradient>
<linearGradient id="g10" gradientUnits="userSpaceOnUse" x1="531.7" y1="217.3" x2="650.6" y2="54.2"><stop offset="0.000" stop-color="#3e26a8"/><stop offset="0.048" stop-color="#4331c6"/><stop offset="0.095" stop-color="#463ddf"/><stop offset="0.143" stop-color="#484bef"/><stop offset="0.190" stop-color="#475af9"/><stop offset="0.238" stop-color="#4369fe"/><stop offset="0.286" stop-color="#3578fd"/><stop offset="0.333" stop-color="#2d87f7"/><stop offset="0.381" stop-color="#2995ec"/><stop offset="0.429" stop-color="#22a1e4"/><stop offset="0.476" stop-color="#19addc"/><stop offset="0.524" stop-color="#05b6ce"/><stop offset="0.571" stop-color="#0bbdbd"/><stop offset="0.619" stop-color="#28c3aa"/><stop offset="0.667" stop-color="#38c896"/><stop offset="0.714" stop-color="#54cc7d"/><stop offset="0.762" stop-color="#77cc60"/><stop offset="0.810" stop-color="#9cc944"/><stop offset="0.857" stop-color="#bfc32d"/><stop offset="0.905" stop-color="#ddbd29"/><stop offset="0.952" stop-color="#f5ba3a"/><stop offset="1.000" stop-color="#fec537"/></linearGradient>
<linearGradient id="g11" gradientUnits="userSpaceOnUse" x1="530.7" y1="217.1" x2="649.6" y2="56.4"><stop offset="0.000" stop-color="#3e26a8"/><stop offset="0.048" stop-color="#4331c6"/><stop offset="0.095" stop-color="#463cdf"/><stop offset="0.143" stop-color="#484aee"/><stop offset="0.190" stop-color="#4759f8"/><stop offset="0.238" stop-color="#4367fd"/><stop offset="0.286" stop-color="#3777fe"/><stop offset="0.333" stop-color="#2e86f8"/><stop offset="0.381" stop-color="#2a93ee"/><stop offset="0.429" stop-color="#249fe5"/><stop offset="0.476" stop-color="#1babde"/><stop offset="0.524" stop-color="#09b4d1"/><stop offset="0.571" stop-color="#06bcc0"/><stop offset="0.619" stop-color="#24c1af"/><stop offset="0.667" stop-color="#34c79b"/><stop offset="0.714" stop-color="#4bcb84"/><stop offset="0.762" stop-color="#6ccd69"/><stop offset="0.810" stop-color="#91ca4c"/><stop offset="0.857" stop-color="#b4c534"/><stop offset="0.905" stop-color="#d3bf27"/><stop offset="0.952" stop-color="#edba33"/><stop offset="1.000" stop-color="#febf3b"/></linearGradient>
<linearGradient id="g12" gradientUnits="userSpaceOnUse" x1="529.6" y1="216.9" x2="648.5" y2="58.5"><stop offset="0.000" stop-color="#3e26a8"/><stop offset="0.050" stop-color="#4331c6"/><stop offset="0.100" stop-color="#463de0"/><stop offset="0.150" stop-color="#484cef"/><stop offset="0.200" stop-color="#475af9"/><stop offset="0.250" stop-color="#426afe"/><stop offset="0.300" stop-color="#347afd"/><stop offset="0.350" stop-color="#2d88f6"/><stop offset="0.400" stop-color="#2896eb"/><stop offset="0.450" stop-color="#21a2e4"/><stop offset="0.500" stop-color="#17aedb"/><stop offset="0.550" stop-color="#03b7cb"/><stop offset="0.600" stop-color="#10beba"/><stop offset="0.650" stop-color="#2cc4a7"/><stop offset="0.700" stop-color="#3cc992"/><stop offset="0.750" stop-color="#59cc78"/><stop offset="0.800" stop-color="#7ecc5b"/><stop offset="0.850" stop-color="#a3c83e"/><stop offset="0.900" stop-color="#c6c22a"/><stop offset="0.950" stop-color="#e3bc2c"/><stop offset="1.000" stop-color="#fabb3d"/></linearGradient>
<linearGradient id="g13" gradientUnits="userSpaceOnUse" x1="528.5" y1="216.7" x2="647.4" y2="60.6"><stop offset="0.000" stop-color="#3e26a8"/><stop offset="0.050" stop-color="#4331c6"/><stop offset="0.100" stop-color="#463cdf"/><stop offset="0.150" stop-color="#484bef"/><stop offset="0.200" stop-color="#4759f9"/><stop offset="0.250" stop-color="#4368fe"/><stop offset="0.300" stop-color="#3678fe"/><stop offset="0.350" stop-color="#2e87f7"/><stop offset="0.400" stop-color="#2994ed"/><stop offset="0.450" stop-color="#23a0e5"/><stop offset="0.500" stop-color="#1aacdd"/><stop offset="0.550" stop-color="#06b5cf"/><stop offset="0.600" stop-color="#09bcbe"/><stop offset="0.650" stop-color="#27c2ac"/><stop offset="0.700" stop-color="#37c898"/><stop offset="0.750" stop-color="#50cc80"/><stop offset="0.800" stop-color="#72cd63"/><stop offset="0.850" stop-color="#98ca47"/><stop offset="0.900" stop-color="#bbc430"/><stop offset="0.950" stop-color="#d9bd28"/><stop offset="1.000" stop-color="#f2ba38"/></linearGradient>
<linearGradient id="g14" gradientUnits="userSpaceOnUse" x1="527.4" y1="216.5" x2="646.3" y2="62.7"><stop offset="0.000" stop-color="#3e26a8"/><stop offset="0.050" stop-color="#4330c5"/><stop offset="0.100" stop-color="#463cde"/><stop offset="0.150" stop-color="#484aee"/><stop offset="0.200" stop-color="#4758f8"/><stop offset="0.250" stop-color="#4367fd"/><stop offset="0.300" stop-color="#3876fe"/><stop offset="0.350" stop-color="#2e85f8"/><stop offset="0.400" stop-color="#2b92ee"/><stop offset="0.450" stop-color="#249ee6"/><stop offset="0.500" stop-color="#1caadf"/><stop offset="0.550" stop-color="#0bb4d2"/><stop offset="0.600" stop-color="#04bbc2"/><stop offset="0.650" stop-color="#21c1b0"/><stop offset="0.700" stop-color="#33c69d"/><stop offset="0.750" stop-color="#47cb87"/><stop offset="0.800" stop-color="#67cd6c"/><stop offset="0.850" stop-color="#8ccb50"/><stop offset="0.900" stop-color="#afc636"/><stop offset="0.950" stop-color="#cfc028"/><stop offset="1.000" stop-color="#e9bb30"/></linearGradient>
<linearGradient id="g15" gradientUnits="userSpaceOnUse" x1="526.3" y1="216.3" x2="645.2" y2="64.7"><stop offset="0.000" stop-color="#3e26a8"/><stop offset="0.053" stop-color="#4331c6"/><stop offset="0.105" stop-color="#463de0"/><stop offset="0.158" stop-color="#484bef"/><stop offset="0.211" stop-color="#475af9"/><stop offset="0.263" stop-color="#4269fe"/><stop offset="0.316" stop-color="#3579fd"/><stop offset="0.368" stop-color="#2d88f6"/><stop offset="0.421" stop-color="#2895ec"/><stop offset="0.474" stop-color="#22a2e4"/><stop offset="0.526" stop-color="#18addb"/><stop offset="0.579" stop-color="#04b6cc"/><stop offset="0.632" stop-color="#0ebdbb"/><stop offset="0.684" stop-color="#2ac3a9"/><stop offset="0.737" stop-color="#3ac993"/><stop offset="0.789" stop-color="#57cc7a"/><stop offset="0.842" stop-color="#7acc5d"/><stop offset="0.895" stop-color="#a0c841"/><stop offset="0.947" stop-color="#c3c22b"/><stop offset="1.000" stop-color="#e0bc2a"/></linearGradient>
<linearGradient id="g16" gradientUnits="userSpaceOnUse" x1="525.1" y1="216.1" x2="644.0" y2="66.7"><stop offset="0.000" stop-color="#3e26a8"/><stop offset="0.053" stop-color="#4331c6"/><stop offset="0.105" stop-color="#463cdf"/><stop offset="0.158" stop-color="#484bee"/><stop offset="0.211" stop-color="#4759f8"/><stop offset="0.263" stop-color="#4368fd"/><stop offset="0.316" stop-color="#3677fe"/><stop offset="0.368" stop-color="#2e86f7"/><stop offset="0.421" stop-color="#2a93ed"/><stop offset="0.474" stop-color="#23a0e5"/><stop offset="0.526" stop-color="#1aabdd"/><stop offset="0.579" stop-color="#07b5d0"/><stop offset="0.632" stop-color="#07bcbf"/><stop offset="0.684" stop-color="#25c2ad"/><stop offset="0.737" stop-color="#35c79a"/><stop offset="0.789" stop-color="#4dcc82"/><stop offset="0.842" stop-color="#6fcd66"/><stop offset="0.895" stop-color="#94ca4a"/><stop offset="0.947" stop-color="#b7c531"/><stop offset="1.000" stop-color="#d6be28"/></linearGradient>
<linearGradient id="g17" gradientUnits="userSpaceOnUse" x1="523.9" y1="215.9" x2="642.8" y2="68.7"><stop offset="0.000" stop-color="#3e26a8"/><stop offset="0.056" stop-color="#4331c7"/><stop offset="0.111" stop-color="#463de0"/><stop offset="0.167" stop-color="#484cf0"/><stop offset="0.222" stop-color="#475bf9"/><stop offset="0.278" stop-color="#416afe"/><stop offset="0.333" stop-color="#337bfd"/><stop offset="0.389" stop-color="#2d89f5"/><stop offset="0.444" stop-color="#2797eb"/><stop offset="0.500" stop-color="#21a4e3"/><stop offset="0.556" stop-color="#16afd9"/><stop offset="0.611" stop-color="#01b8ca"/><stop offset="0.667" stop-color="#14bfb8"/><stop offset="0.722" stop-color="#2ec4a5"/><stop offset="0.778" stop-color="#3fca8e"/><stop offset="0.833" stop-color="#5fcd73"/><stop offset="0.889" stop-color="#84cb56"/><stop offset="0.944" stop-color="#aac73a"/><stop offset="1.000" stop-color="#ccc028"/></linearGradient>
<linearGradient id="g18" gradientUnits="userSpaceOnUse" x1="522.7" y1="215.7" x2="641.6" y2="70.6"><stop offset="0.000" stop-color="#3e26a8"/><stop offset="0.056" stop-color="#4331c6"/><stop offset="0.111" stop-color="#463ddf"/><stop offset="0.167" stop-color="#484bef"/><stop offset="0.222" stop-color="#475af9"/><stop offset="0.278" stop-color="#4269fe"/><stop offset="0.333" stop-color="#3579fd"/><stop offset="0.389" stop-color="#2d88f6"/><stop offset="0.444" stop-color="#2895ec"/><stop offset="0.500" stop-color="#22a2e4"/><stop offset="0.556" stop-color="#19addc"/><stop offset="0.611" stop-color="#04b6cd"/><stop offset="0.667" stop-color="#0cbdbc"/><stop offset="0.722" stop-color="#29c3a9"/><stop offset="0.778" stop-color="#39c994"/><stop offset="0.833" stop-color="#55cc7b"/><stop offset="0.889" stop-color="#79cc5f"/><stop offset="0.944" stop-color="#9ec942"/><stop offset="1.000" stop-color="#c1c32c"/></linearGradient>
<linearGradient id="g19" gradientUnits="userSpaceOnUse" x1="521.4" y1="215.4" x2="640.3" y2="72.4"><stop offset="0.000" stop-color="#3e26a8"/><stop offset="0.056" stop-color="#4331c6"/><stop offset="0.111" stop-color="#463cdf"/><stop offset="0.167" stop-color="#484bee"/><stop offset="0.222" stop-color="#4759f8"/><stop offset="0.278" stop-color="#4367fd"/><stop offset="0.333" stop-color="#3777fe"/><stop offset="0.389" stop-color="#2e86f7"/><stop offset="0.444" stop-color="#2a93ed"/><stop offset="0.500" stop-color="#23a0e5"/><stop offset="0.556" stop-color="#1babde"/><stop offset="0.611" stop-color="#08b4d0"/><stop offset="0.667" stop-color="#07bcc0"/><stop offset="0.722" stop-color="#24c2ae"/><stop offset="0.778" stop-color="#35c79a"/><stop offset="0.833" stop-color="#4ccb83"/><stop offset="0.889" stop-color="#6dcd67"/><stop offset="0.944" stop-color="#92ca4b"/><stop offset="1.000" stop-color="#b6c533"/></linearGradient>
<linearGradient id="g20" gradientUnits="userSpaceOnUse" x1="520.1" y1="215.2" x2="639.0" y2="74.2"><stop offset="0.000" stop-color="#3e26a8"/><stop offset="0.059" stop-color="#4331c7"/><stop offset="0.118" stop-color="#463de0"/><stop offset="0.176" stop-color="#484cf0"/><stop offset="0.235" stop-color="#475bf9"/><stop offset="0.294" stop-color="#416afe"/><stop offset="0.353" stop-color="#337bfd"/><stop offset="0.412" stop-color="#2d8af5"/><stop offset="0.471" stop-color="#2797eb"/><stop offset="0.529" stop-color="#21a4e3"/><stop offset="0.588" stop-color="#15afd9"/><stop offset="0.647" stop-color="#01b8c9"/><stop offset="0.706" stop-color="#15bfb8"/><stop offset="0.765" stop-color="#2ec4a4"/><stop offset="0.824" stop-color="#3fca8e"/><stop offset="0.882" stop-color="#5fcd73"/><stop offset="0.941" stop-color="#85cb56"/><stop offset="1.000" stop-color="#aac73a"/></linearGradient>
<linearGradient id="g21" gradientUnits="userSpaceOnUse" x1="518.8" y1="215.0" x2="637.7" y2="76.0"><stop offset="0.000" stop-color="#3e26a8"/><stop offset="0.059" stop-color="#4331c6"/><stop offset="0.118" stop-color="#463ddf"/><stop offset="0.176" stop-color="#484bef"/><stop offset="0.235" stop-color="#475af9"/><stop offset="0.294" stop-color="#4269fe"/><stop offset="0.353" stop-color="#3579fd"/><stop offset="0.412" stop-color="#2d88f6"/><stop offset="0.471" stop-color="#2895ec"/><stop offset="0.529" stop-color="#22a2e4"/><stop offset="0.588" stop-color="#19addc"/><stop offset="0.647" stop-color="#04b6cd"/><stop offset="0.706" stop-color="#0dbdbc"/><stop offset="0.765" stop-color="#2ac3a9"/><stop offset="0.824" stop-color="#3ac994"/><stop offset="0.882" stop-color="#56cc7b"/><stop offset="0.941" stop-color="#79cc5e"/><stop offset="1.000" stop-color="#9fc942"/></linearGradient>
<linearGradient id="g22" gradientUnits="userSpaceOnUse" x1="517.5" y1="214.7" x2="636.4" y2="77.6"><stop offset="0.000" stop-color="#3e26a8"/><stop offset="0.059" stop-color="#4331c6"/><stop offset="0.118" stop-color="#463cdf"/><stop offset="0.176" stop-color="#484bee"/><stop offset="0.235" stop-color="#4759f8"/><stop offset="0.294" stop-color="#4368fd"/><stop offset="0.353" stop-color="#3777fe"/><stop offset="0.412" stop-color="#2e86f7"/><stop offset="0.471" stop-color="#2a93ed"/><stop offset="0.529" stop-color="#23a0e5"/><stop offset="0.588" stop-color="#1babde"/><stop offset="0.647" stop-color="#08b5d0"/><stop offset="0.706" stop-color="#07bcc0"/><stop offset="0.765" stop-color="#25c2ae"/><stop offset="0.824" stop-color="#35c79a"/><stop offset="0.882" stop-color="#4ccb82"/><stop offset="0.941" stop-color="#6ecd67"/><stop offset="1.000" stop-color="#93ca4b"/></linearGradient>
<linearGradient id="g23" gradientUnits="userSpaceOnUse" x1="516.1" y1="214.5" x2="635.0" y2="79.3"><stop offset="0.000" stop-color="#3e26a8"/><stop offset="0.059" stop-color="#4330c5"/><stop offset="0.118" stop-color="#463cde"/><stop offset="0.176" stop-color="#484aee"/><stop offset="0.235" stop-color="#4758f8"/><stop offset="0.294" stop-color="#4466fd"/><stop offset="0.353" stop-color="#3875fe"/><stop offset="0.412" stop-color="#2e84f8"/><stop offset="0.471" stop-color="#2b91ef"/><stop offset="0.529" stop-color="#249ee6"/><stop offset="0.588" stop-color="#1ca9e0"/><stop offset="0.647" stop-color="#0db3d3"/><stop offset="0.706" stop-color="#02bac3"/><stop offset="0.765" stop-color="#1ec0b2"/><stop offset="0.824" stop-color="#31c6a0"/><stop offset="0.882" stop-color="#44cb89"/><stop offset="0.941" stop-color="#63cd6f"/><stop offset="1.000" stop-color="#88cb53"/></linearGradient>
<linearGradient id="g24" gradientUnits="userSpaceOnUse" x1="514.8" y1="214.2" x2="633.7" y2="80.9"><stop offset="0.000" stop-color="#3e26a8"/><stop offset="0.062" stop-color="#4331c6"/><stop offset="0.125" stop-color="#463de0"/><stop offset="0.188" stop-color="#484cef"/><stop offset="0.250" stop-color="#475af9"/><stop offset="0.312" stop-color="#4269fe"/><stop offset="0.375" stop-color="#3479fd"/><stop offset="0.438" stop-color="#2d88f6"/><stop offset="0.500" stop-color="#2896ec"/><stop offset="0.562" stop-color="#22a2e4"/><stop offset="0.625" stop-color="#18aedb"/><stop offset="0.688" stop-color="#03b7cc"/><stop offset="0.750" stop-color="#0fbebb"/><stop offset="0.812" stop-color="#2bc3a8"/><stop offset="0.875" stop-color="#3bc993"/><stop offset="0.938" stop-color="#58cc79"/><stop offset="1.000" stop-color="#7ccc5c"/></linearGradient>
<linearGradient id="g25" gradientUnits="userSpaceOnUse" x1="513.3" y1="213.9" x2="632.2" y2="82.4"><stop offset="0.000" stop-color="#3e26a8"/><stop offset="0.062" stop-color="#4331c6"/><stop offset="0.125" stop-color="#463cdf"/><stop offset="0.188" stop-color="#484bee"/><stop offset="0.250" stop-color="#4759f8"/><stop offset="0.312" stop-color="#4368fe"/><stop offset="0.375" stop-color="#3678fe"/><stop offset="0.438" stop-color="#2e86f7"/><stop offset="0.500" stop-color="#2994ed"/><stop offset="0.562" stop-color="#23a0e5"/><stop offset="0.625" stop-color="#1aacdd"/><stop offset="0.688" stop-color="#07b5cf"/><stop offset="0.750" stop-color="#08bcbf"/><stop offset="0.812" stop-color="#26c2ac"/><stop offset="0.875" stop-color="#36c898"/><stop offset="0.938" stop-color="#4fcc80"/><stop offset="1.000" stop-color="#71cd64"/></linearGradient>
<linearGradient id="g26" gradientUnits="userSpaceOnUse" x1="511.9" y1="213.7" x2="630.8" y2="83.9"><stop offset="0.000" stop-color="#3e26a8"/><stop offset="0.062" stop-color="#4330c5"/><stop offset="0.125" stop-color="#463cde"/><stop offset="0.188" stop-color="#484aee"/><stop offset="0.250" stop-color="#4758f8"/><stop offset="0.312" stop-color="#4367fd"/><stop offset="0.375" stop-color="#3876fe"/><stop offset="0.438" stop-color="#2e85f8"/><stop offset="0.500" stop-color="#2b92ee"/><stop offset="0.562" stop-color="#249ee6"/><stop offset="0.625" stop-color="#1caadf"/><stop offset="0.688" stop-color="#0bb3d2"/><stop offset="0.750" stop-color="#03bbc2"/><stop offset="0.812" stop-color="#20c1b1"/><stop offset="0.875" stop-color="#32c69e"/><stop offset="0.938" stop-color="#47cb87"/><stop offset="1.000" stop-color="#67cd6d"/></linearGradient>
<linearGradient id="g27" gradientUnits="userSpaceOnUse" x1="510.5" y1="213.4" x2="629.4" y2="85.3"><stop offset="0.000" stop-color="#3e26a8"/><stop offset="0.067" stop-color="#4331c7"/><stop offset="0.133" stop-color="#463de0"/><stop offset="0.200" stop-color="#484cf0"/><stop offset="0.267" stop-color="#475bf9"/><stop offset="0.333" stop-color="#426afe"/><stop offset="0.400" stop-color="#337afd"/><stop offset="0.467" stop-color="#2d89f5"/><stop offset="0.533" stop-color="#2797eb"/><stop offset="0.600" stop-color="#21a3e3"/><stop offset="0.667" stop-color="#16afda"/><stop offset="0.733" stop-color="#01b8ca"/><stop offset="0.800" stop-color="#13beb8"/><stop offset="0.867" stop-color="#2dc4a5"/><stop offset="0.933" stop-color="#3eca8f"/><stop offset="1.000" stop-color="#5dcc75"/></linearGradient>
<linearGradient id="g28" gradientUnits="userSpaceOnUse" x1="509.0" y1="213.1" x2="627.9" y2="86.7"><stop offset="0.000" stop-color="#3e26a8"/><stop offset="0.067" stop-color="#4331c6"/><stop offset="0.133" stop-color="#463ddf"/><stop offset="0.200" stop-color="#484bef"/><stop offset="0.267" stop-color="#475af9"/><stop offset="0.333" stop-color="#4369fe"/><stop offset="0.400" stop-color="#3579fd"/><stop offset="0.467" stop-color="#2d87f6"/><stop offset="0.533" stop-color="#2895ec"/><stop offset="0.600" stop-color="#22a1e4"/><stop offset="0.667" stop-color="#19addc"/><stop offset="0.733" stop-color="#05b6cd"/><stop offset="0.800" stop-color="#0cbdbc"/><stop offset="0.867" stop-color="#29c3aa"/><stop offset="0.933" stop-color="#39c895"/><stop offset="1.000" stop-color="#54cc7c"/></linearGradient>
<linearGradient id="g29" gradientUnits="userSpaceOnUse" x1="507.5" y1="212.9" x2="626.4" y2="88.0"><stop offset="0.000" stop-color="#3e26a8"/><stop offset="0.067" stop-color="#4331c6"/><stop offset="0.133" stop-color="#463cdf"/><stop offset="0.200" stop-color="#484bee"/><stop offset="0.267" stop-color="#4759f8"/><stop offset="0.333" stop-color="#4367fd"/><stop offset="0.400" stop-color="#3777fe"/><stop offset="0.467" stop-color="#2e86f8"/><stop offset="0.533" stop-color="#2a93ed"/><stop offset="0.600" stop-color="#239fe5"/><stop offset="0.667" stop-color="#1babde"/><stop offset="0.733" stop-color="#08b4d0"/><stop offset="0.800" stop-color="#06bcc0"/><stop offset="0.867" stop-color="#24c1ae"/><stop offset="0.933" stop-color="#35c79a"/><stop offset="1.000" stop-color="#4ccb83"/></linearGradient>
<linearGradient id="g30" gradientUnits="userSpaceOnUse" x1="506.0" y1="212.6" x2="624.9" y2="89.3"><stop offset="0.000" stop-color="#3e26a8"/><stop offset="0.067" stop-color="#4330c5"/><stop offset="0.133" stop-color="#463cde"/><stop offset="0.200" stop-color="#484aee"/><stop offset="0.267" stop-color="#4758f8"/><stop offset="0.333" stop-color="#4466fd"/><stop offset="0.400" stop-color="#3875fe"/><stop offset="0.467" stop-color="#2e84f8"/><stop offset="0.533" stop-color="#2b91ef"/><stop offset="0.600" stop-color="#249ee6"/><stop offset="0.667" stop-color="#1ca9e0"/><stop offset="0.733" stop-color="#0db3d3"/><stop offset="0.800" stop-color="#02bac3"/><stop offset="0.867" stop-color="#1ec0b2"/><stop offset="0.933" stop-color="#31c6a0"/><stop offset="1.000" stop-color="#44cb89"/></linearGradient>
<linearGradient id="g31" gradientUnits="userSpaceOnUse" x1="504.5" y1="212.3" x2="623.4" y2="90.5"><stop offset="0.000" stop-color="#3e26a8"/><stop offset="0.071" stop-color="#4331c7"/><stop offset="0.143" stop-color="#463de0"/><stop offset="0.214" stop-color="#484cf0"/><stop offset="0.286" stop-color="#475bf9"/><stop offset="0.357" stop-color="#426afe"/><stop offset="0.429" stop-color="#337afd"/><stop offset="0.500" stop-color="#2d89f5"/><stop offset="0.571" stop-color="#2797eb"/><stop offset="0.643" stop-color="#21a3e3"/><stop offset="0.714" stop-color="#16afda"/><stop offset="0.786" stop-color="#01b7ca"/><stop offset="0.857" stop-color="#13beb9"/><stop offset="0.929" stop-color="#2dc4a6"/><stop offset="1.000" stop-color="#3eca8f"/></linearGradient>
<linearGradient id="g32" gradientUnits="userSpaceOnUse" x1="502.9" y1="212.0" x2="621.8" y2="91.7"><stop offset="0.000" stop-color="#3e26a8"/><stop offset="0.071" stop-color="#4331c6"/><stop offset="0.143" stop-color="#463ddf"/><stop offset="0.214" stop-color="#484bef"/><stop offset="0.286" stop-color="#475af9"/><stop offset="0.357" stop-color="#4369fe"/><stop offset="0.429" stop-color="#3579fd"/><stop offset="0.500" stop-color="#2d87f6"/><stop offset="0.571" stop-color="#2895ec"/><stop offset="0.643" stop-color="#22a1e4"/><stop offset="0.714" stop-color="#19addc"/><stop offset="0.786" stop-color="#05b6cd"/><stop offset="0.857" stop-color="#0cbdbc"/><stop offset="0.929" stop-color="#29c3aa"/><stop offset="1.000" stop-color="#39c895"/></linearGradient>
<linearGradient id="g33" gradientUnits="userSpaceOnUse" x1="501.4" y1="211.7" x2="620.3" y2="92.9"><stop offset="0.000" stop-color="#3e26a8"/><stop offset="0.071" stop-color="#4331c6"/><stop offset="0.143" stop-color="#463cdf"/><stop offset="0.214" stop-color="#484bee"/><stop offset="0.286" stop-color="#4759f8"/><stop offset="0.357" stop-color="#4367fd"/><stop offset="0.429" stop-color="#3777fe"/><stop offset="0.500" stop-color="#2e86f7"/><stop offset="0.571" stop-color="#2a93ed"/><stop offset="0.643" stop-color="#23a0e5"/><stop offset="0.714" stop-color="#1babde"/><stop offset="0.786" stop-color="#08b5d0"/><stop offset="0.857" stop-color="#07bcc0"/><stop offset="0.929" stop-color="#24c2ae"/><stop offset="1.000" stop-color="#35c79a"/></linearGradient>
<linearGradient id="g34" gradientUnits="userSpaceOnUse" x1="499.8" y1="211.4" x2="618.7" y2="94.0"><stop offset="0.000" stop-color="#3e26a8"/><stop offset="0.071" stop-color="#4330c5"/><stop offset="0.143" stop-color="#463cde"/><stop offset="0.214" stop-color="#484aee"/><stop offset="0.286" stop-color="#4758f8"/><stop offset="0.357" stop-color="#4466fd"/><stop offset="0.429" stop-color="#3875fe"/><stop offset="0.500" stop-color="#2e84f8"/><stop offset="0.571" stop-color="#2b91ef"/><stop offset="0.643" stop-color="#249ee6"/><stop offset="0.714" stop-color="#1ca9df"/><stop offset="0.786" stop-color="#0cb3d3"/><stop offset="0.857" stop-color="#02bac3"/><stop offset="0.929" stop-color="#1ec0b2"/><stop offset="1.000" stop-color="#32c69f"/></linearGradient>
<linearGradient id="g35" gradientUnits="userSpaceOnUse" x1="498.2" y1="211.1" x2="617.1" y2="95.0"><stop offset="0.000" stop-color="#3e26a8"/><stop offset="0.071" stop-color="#4330c5"/><stop offset="0.143" stop-color="#463bdd"/><stop offset="0.214" stop-color="#4849ed"/><stop offset="0.286" stop-color="#4757f7"/><stop offset="0.357" stop-color="#4465fd"/><stop offset="0.429" stop-color="#3a74fe"/><stop offset="0.500" stop-color="#2e83f9"/><stop offset="0.571" stop-color="#2c90f0"/><stop offset="0.643" stop-color="#259ce7"/><stop offset="0.714" stop-color="#1ea7e1"/><stop offset="0.786" stop-color="#11b1d6"/><stop offset="0.857" stop-color="#01b9c6"/><stop offset="0.929" stop-color="#18bfb6"/><stop offset="1.000" stop-color="#2ec5a4"/></linearGradient>
<linearGradient id="g36" gradientUnits="userSpaceOnUse" x1="496.6" y1="210.8" x2="615.5" y2="96.0"><stop offset="0.000" stop-color="#3e26a8"/><stop offset="0.077" stop-color="#4331c6"/><stop offset="0.154" stop-color="#463de0"/><stop offset="0.231" stop-color="#484cef"/><stop offset="0.308" stop-color="#475af9"/><stop offset="0.385" stop-color="#4269fe"/><stop offset="0.462" stop-color="#3479fd"/><stop offset="0.538" stop-color="#2d88f6"/><stop offset="0.615" stop-color="#2896ec"/><stop offset="0.692" stop-color="#22a2e4"/><stop offset="0.769" stop-color="#18aedb"/><stop offset="0.846" stop-color="#03b7cc"/><stop offset="0.923" stop-color="#0fbebb"/><stop offset="1.000" stop-color="#2bc3a8"/></linearGradient>
<linearGradient id="g37" gradientUnits="userSpaceOnUse" x1="494.9" y1="210.5" x2="613.8" y2="97.0"><stop offset="0.000" stop-color="#3e26a8"/><stop offset="0.077" stop-color="#4331c6"/><stop offset="0.154" stop-color="#463cdf"/><stop offset="0.231" stop-color="#484bef"/><stop offset="0.308" stop-color="#4759f9"/><stop offset="0.385" stop-color="#4368fe"/><stop offset="0.462" stop-color="#3678fd"/><stop offset="0.538" stop-color="#2e87f7"/><stop offset="0.615" stop-color="#2994ed"/><stop offset="0.692" stop-color="#23a0e5"/><stop offset="0.769" stop-color="#1aacdd"/><stop offset="0.846" stop-color="#06b5cf"/><stop offset="0.923" stop-color="#09bcbe"/><stop offset="1.000" stop-color="#27c2ac"/></linearGradient>
<linearGradient id="g38" gradientUnits="userSpaceOnUse" x1="493.3" y1="210.2" x2="612.2" y2="98.0"><stop offset="0.000" stop-color="#3e26a8"/><stop offset="0.077" stop-color="#4331c5"/><stop offset="0.154" stop-color="#463cde"/><stop offset="0.231" stop-color="#484aee"/><stop offset="0.308" stop-color="#4758f8"/><stop offset="0.385" stop-color="#4367fd"/><stop offset="0.462" stop-color="#3776fe"/><stop offset="0.538" stop-color="#2e85f8"/><stop offset="0.615" stop-color="#2a92ee"/><stop offset="0.692" stop-color="#249fe6"/><stop offset="0.769" stop-color="#1baade"/><stop offset="0.846" stop-color="#0ab4d1"/><stop offset="0.923" stop-color="#05bbc1"/><stop offset="1.000" stop-color="#22c1b0"/></linearGradient>
<linearGradient id="g39" gradientUnits="userSpaceOnUse" x1="491.6" y1="209.9" x2="610.5" y2="98.9"><stop offset="0.000" stop-color="#3e26a8"/><stop offset="0.077" stop-color="#4330c5"/><stop offset="0.154" stop-color="#463cde"/><stop offset="0.231" stop-color="#484aed"/><stop offset="0.308" stop-color="#4758f8"/><stop offset="0.385" stop-color="#4466fd"/><stop offset="0.462" stop-color="#3975fe"/><stop offset="0.538" stop-color="#2e84f9"/><stop offset="0.615" stop-color="#2b91ef"/><stop offset="0.692" stop-color="#249de6"/><stop offset="0.769" stop-color="#1da9e0"/><stop offset="0.846" stop-color="#0eb2d4"/><stop offset="0.923" stop-color="#02bac4"/><stop offset="1.000" stop-color="#1cc0b3"/></linearGradient>
<linearGradient id="g40" gradientUnits="userSpaceOnUse" x1="489.9" y1="209.6" x2="608.8" y2="99.7"><stop offset="0.000" stop-color="#3e26a8"/><stop offset="0.077" stop-color="#4330c5"/><stop offset="0.154" stop-color="#463bdd"/><stop offset="0.231" stop-color="#4849ed"/><stop offset="0.308" stop-color="#4757f7"/><stop offset="0.385" stop-color="#4465fd"/><stop offset="0.462" stop-color="#3a73fe"/><stop offset="0.538" stop-color="#2f82f9"/><stop offset="0.615" stop-color="#2c8ff0"/><stop offset="0.692" stop-color="#259be7"/><stop offset="0.769" stop-color="#1ea7e1"/><stop offset="0.846" stop-color="#12b1d6"/><stop offset="0.923" stop-color="#01b9c7"/><stop offset="1.000" stop-color="#16bfb7"/></linearGradient>
<linearGradient id="g41" gradientUnits="userSpaceOnUse" x1="488.2" y1="209.3" x2="607.1" y2="100.6"><stop offset="0.000" stop-color="#3e26a8"/><stop offset="0.083" stop-color="#4331c6"/><stop offset="0.167" stop-color="#463de0"/><stop offset="0.250" stop-color="#484cef"/><stop offset="0.333" stop-color="#475af9"/><stop offset="0.417" stop-color="#4269fe"/><stop offset="0.500" stop-color="#347afd"/><stop offset="0.583" stop-color="#2d88f6"/><stop offset="0.667" stop-color="#2896eb"/><stop offset="0.750" stop-color="#21a2e4"/><stop offset="0.833" stop-color="#17aedb"/><stop offset="0.917" stop-color="#03b7cc"/><stop offset="1.000" stop-color="#10beba"/></linearGradient>
<linearGradient id="g42" gradientUnits="userSpaceOnUse" x1="486.5" y1="209.0" x2="605.4" y2="101.4"><stop offset="0.000" stop-color="#3e26a8"/><stop offset="0.083" stop-color="#4331c6"/><stop offset="0.167" stop-color="#463ddf"/><stop offset="0.250" stop-color="#484bef"/><stop offset="0.333" stop-color="#475af9"/><stop offset="0.417" stop-color="#4368fe"/><stop offset="0.500" stop-color="#3678fd"/><stop offset="0.583" stop-color="#2e87f7"/><stop offset="0.667" stop-color="#2994ed"/><stop offset="0.750" stop-color="#23a1e4"/><stop offset="0.833" stop-color="#19acdc"/><stop offset="0.917" stop-color="#06b6ce"/><stop offset="1.000" stop-color="#0abdbd"/></linearGradient>
<linearGradient id="g43" gradientUnits="userSpaceOnUse" x1="484.7" y1="208.7" x2="603.6" y2="102.1"><stop offset="0.000" stop-color="#3e26a8"/><stop offset="0.083" stop-color="#4331c6"/><stop offset="0.167" stop-color="#463cdf"/><stop offset="0.250" stop-color="#484aee"/><stop offset="0.333" stop-color="#4759f8"/><stop offset="0.417" stop-color="#4367fd"/><stop offset="0.500" stop-color="#3777fe"/><stop offset="0.583" stop-color="#2e85f8"/><stop offset="0.667" stop-color="#2a93ee"/><stop offset="0.750" stop-color="#249fe5"/><stop offset="0.833" stop-color="#1babde"/><stop offset="0.917" stop-color="#09b4d1"/><stop offset="1.000" stop-color="#06bcc1"/></linearGradient>
<linearGradient id="g44" gradientUnits="userSpaceOnUse" x1="483.0" y1="208.3" x2="601.9" y2="102.8"><stop offset="0.000" stop-color="#3e26a8"/><stop offset="0.083" stop-color="#4330c5"/><stop offset="0.167" stop-color="#463cde"/><stop offset="0.250" stop-color="#484aee"/><stop offset="0.333" stop-color="#4758f8"/><stop offset="0.417" stop-color="#4466fd"/><stop offset="0.500" stop-color="#3875fe"/><stop offset="0.583" stop-color="#2e84f8"/><stop offset="0.667" stop-color="#2b91ef"/><stop offset="0.750" stop-color="#249ee6"/><stop offset="0.833" stop-color="#1ca9e0"/><stop offset="0.917" stop-color="#0db3d3"/><stop offset="1.000" stop-color="#02bac4"/></linearGradient>
<linearGradient id="g45" gradientUnits="userSpaceOnUse" x1="481.2" y1="208.0" x2="600.1" y2="103.5"><stop offset="0.000" stop-color="#3e26a8"/><stop offset="0.083" stop-color="#4330c5"/><stop offset="0.167" stop-color="#463bdd"/><stop offset="0.250" stop-color="#4849ed"/><stop offset="0.333" stop-color="#4757f7"/><stop offset="0.417" stop-color="#4465fd"/><stop offset="0.500" stop-color="#3a74fe"/><stop offset="0.583" stop-color="#2e83f9"/><stop offset="0.667" stop-color="#2c90f0"/><stop offset="0.750" stop-color="#259ce7"/><stop offset="0.833" stop-color="#1ea7e1"/><stop offset="0.917" stop-color="#11b1d6"/><stop offset="1.000" stop-color="#01b9c6"/></linearGradient>
<linearGradient id="g46" gradientUnits="userSpaceOnUse" x1="479.4" y1="207.7" x2="598.3" y2="104.2"><stop offset="0.000" stop-color="#3e26a8"/><stop offset="0.083" stop-color="#4230c4"/><stop offset="0.167" stop-color="#463bdd"/><stop offset="0.250" stop-color="#4849ed"/><stop offset="0.333" stop-color="#4756f7"/><stop offset="0.417" stop-color="#4464fd"/><stop offset="0.500" stop-color="#3b73fe"/><stop offset="0.583" stop-color="#2f81fa"/><stop offset="0.667" stop-color="#2c8ef1"/><stop offset="0.750" stop-color="#269be8"/><stop offset="0.833" stop-color="#1fa6e2"/><stop offset="0.917" stop-color="#14b0d8"/><stop offset="1.000" stop-color="#01b8c9"/></linearGradient>
<linearGradient id="g47" gradientUnits="userSpaceOnUse" x1="477.6" y1="207.3" x2="596.5" y2="104.8"><stop offset="0.000" stop-color="#3e26a8"/><stop offset="0.091" stop-color="#4331c6"/><stop offset="0.182" stop-color="#463de0"/><stop offset="0.273" stop-color="#484cef"/><stop offset="0.364" stop-color="#475af9"/><stop offset="0.455" stop-color="#4269fe"/><stop offset="0.545" stop-color="#3479fd"/><stop offset="0.636" stop-color="#2d88f6"/><stop offset="0.727" stop-color="#2896eb"/><stop offset="0.818" stop-color="#22a2e4"/><stop offset="0.909" stop-color="#18aedb"/><stop offset="1.000" stop-color="#03b7cc"/></linearGradient>
<linearGradient id="g48" gradientUnits="userSpaceOnUse" x1="475.8" y1="207.0" x2="594.7" y2="105.5"><stop offset="0.000" stop-color="#3e26a8"/><stop offset="0.091" stop-color="#4331c6"/><stop offset="0.182" stop-color="#463ddf"/><stop offset="0.273" stop-color="#484bef"/><stop offset="0.364" stop-color="#475af9"/><stop offset="0.455" stop-color="#4368fe"/><stop offset="0.545" stop-color="#3578fd"/><stop offset="0.636" stop-color="#2e87f7"/><stop offset="0.727" stop-color="#2994ed"/><stop offset="0.818" stop-color="#23a1e4"/><stop offset="0.909" stop-color="#19acdc"/><stop offset="1.000" stop-color="#05b6ce"/></linearGradient>
<linearGradient id="g49" gradientUnits="userSpaceOnUse" x1="473.9" y1="206.7" x2="592.8" y2="106.0"><stop offset="0.000" stop-color="#3e26a8"/><stop offset="0.091" stop-color="#4331c6"/><stop offset="0.182" stop-color="#463cdf"/><stop offset="0.273" stop-color="#484aee"/><stop offset="0.364" stop-color="#4759f8"/><stop offset="0.455" stop-color="#4367fd"/><stop offset="0.545" stop-color="#3777fe"/><stop offset="0.636" stop-color="#2e86f8"/><stop offset="0.727" stop-color="#2a93ee"/><stop offset="0.818" stop-color="#239fe5"/><stop offset="0.909" stop-color="#1babde"/><stop offset="1.000" stop-color="#08b4d1"/></linearGradient>
<linearGradient id="g50" gradientUnits="userSpaceOnUse" x1="472.1" y1="206.3" x2="591.0" y2="106.6"><stop offset="0.000" stop-color="#3e26a8"/><stop offset="0.091" stop-color="#4330c5"/><stop offset="0.182" stop-color="#463cde"/><stop offset="0.273" stop-color="#484aee"/><stop offset="0.364" stop-color="#4758f8"/><stop offset="0.455" stop-color="#4466fd"/><stop offset="0.545" stop-color="#3876fe"/><stop offset="0.636" stop-color="#2e84f8"/><stop offset="0.727" stop-color="#2b92ef"/><stop offset="0.818" stop-color="#249ee6"/><stop offset="0.909" stop-color="#1ca9df"/><stop offset="1.000" stop-color="#0cb3d3"/></linearGradient>
<linearGradient id="g51" gradientUnits="userSpaceOnUse" x1="470.2" y1="206.0" x2="589.1" y2="107.1"><stop offset="0.000" stop-color="#3e26a8"/><stop offset="0.091" stop-color="#4330c5"/><stop offset="0.182" stop-color="#463bde"/><stop offset="0.273" stop-color="#4849ed"/><stop offset="0.364" stop-color="#4757f7"/><stop offset="0.455" stop-color="#4465fd"/><stop offset="0.545" stop-color="#3974fe"/><stop offset="0.636" stop-color="#2e83f9"/><stop offset="0.727" stop-color="#2b90f0"/><stop offset="0.818" stop-color="#259ce7"/><stop offset="0.909" stop-color="#1da8e0"/><stop offset="1.000" stop-color="#10b2d5"/></linearGradient>
<linearGradient id="g52" gradientUnits="userSpaceOnUse" x1="468.3" y1="205.6" x2="587.2" y2="107.6"><stop offset="0.000" stop-color="#3e26a8"/><stop offset="0.091" stop-color="#4330c4"/><stop offset="0.182" stop-color="#463bdd"/><stop offset="0.273" stop-color="#4849ed"/><stop offset="0.364" stop-color="#4757f7"/><stop offset="0.455" stop-color="#4464fd"/><stop offset="0.545" stop-color="#3a73fe"/><stop offset="0.636" stop-color="#2f82fa"/><stop offset="0.727" stop-color="#2c8ff1"/><stop offset="0.818" stop-color="#259be8"/><stop offset="0.909" stop-color="#1ea6e1"/><stop offset="1.000" stop-color="#13b1d7"/></linearGradient>
<linearGradient id="g53" gradientUnits="userSpaceOnUse" x1="466.4" y1="205.3" x2="585.3" y2="108.1"><stop offset="0.000" stop-color="#3e26a8"/><stop offset="0.091" stop-color="#4230c4"/><stop offset="0.182" stop-color="#463bdc"/><stop offset="0.273" stop-color="#4848ec"/><stop offset="0.364" stop-color="#4756f6"/><stop offset="0.455" stop-color="#4563fd"/><stop offset="0.545" stop-color="#3c72ff"/><stop offset="0.636" stop-color="#2f81fa"/><stop offset="0.727" stop-color="#2c8ef2"/><stop offset="0.818" stop-color="#269ae9"/><stop offset="0.909" stop-color="#20a5e2"/><stop offset="1.000" stop-color="#15afd9"/></linearGradient>
<linearGradient id="g54" gradientUnits="userSpaceOnUse" x1="464.5" y1="204.9" x2="583.4" y2="108.5"><stop offset="0.000" stop-color="#3e26a8"/><stop offset="0.100" stop-color="#4331c6"/><stop offset="0.200" stop-color="#463de0"/><stop offset="0.300" stop-color="#484cef"/><stop offset="0.400" stop-color="#475af9"/><stop offset="0.500" stop-color="#426afe"/><stop offset="0.600" stop-color="#347afd"/><stop offset="0.700" stop-color="#2d88f6"/><stop offset="0.800" stop-color="#2896eb"/><stop offset="0.900" stop-color="#21a2e4"/><stop offset="1.000" stop-color="#17aedb"/></linearGradient>
<linearGradient id="g55" gradientUnits="userSpaceOnUse" x1="462.6" y1="204.6" x2="581.5" y2="109.0"><stop offset="0.000" stop-color="#3e26a8"/><stop offset="0.100" stop-color="#4331c6"/><stop offset="0.200" stop-color="#463ddf"/><stop offset="0.300" stop-color="#484bef"/><stop offset="0.400" stop-color="#475af9"/><stop offset="0.500" stop-color="#4369fe"/><stop offset="0.600" stop-color="#3578fd"/><stop offset="0.700" stop-color="#2e87f7"/><stop offset="0.800" stop-color="#2995ec"/><stop offset="0.900" stop-color="#22a1e4"/><stop offset="1.000" stop-color="#19addc"/></linearGradient>
<linearGradient id="g56" gradientUnits="userSpaceOnUse" x1="460.7" y1="204.2" x2="579.6" y2="109.4"><stop offset="0.000" stop-color="#3e26a8"/><stop offset="0.100" stop-color="#4331c6"/><stop offset="0.200" stop-color="#463cdf"/><stop offset="0.300" stop-color="#484bee"/><stop offset="0.400" stop-color="#4759f8"/><stop offset="0.500" stop-color="#4368fd"/><stop offset="0.600" stop-color="#3677fe"/><stop offset="0.700" stop-color="#2e86f7"/><stop offset="0.800" stop-color="#2a93ed"/><stop offset="0.900" stop-color="#23a0e5"/><stop offset="1.000" stop-color="#1aabdd"/></linearGradient>
<linearGradient id="g57" gradientUnits="userSpaceOnUse" x1="458.7" y1="203.9" x2="577.6" y2="109.8"><stop offset="0.000" stop-color="#3e26a8"/><stop offset="0.100" stop-color="#4330c5"/><stop offset="0.200" stop-color="#463cde"/><stop offset="0.300" stop-color="#484aee"/><stop offset="0.400" stop-color="#4758f8"/><stop offset="0.500" stop-color="#4367fd"/><stop offset="0.600" stop-color="#3876fe"/><stop offset="0.700" stop-color="#2e85f8"/><stop offset="0.800" stop-color="#2b92ee"/><stop offset="0.900" stop-color="#249ee6"/><stop offset="1.000" stop-color="#1caadf"/></linearGradient>
<linearGradient id="g58" gradientUnits="userSpaceOnUse" x1="456.8" y1="203.5" x2="575.7" y2="110.1"><stop offset="0.000" stop-color="#3e26a8"/><stop offset="0.100" stop-color="#4330c5"/><stop offset="0.200" stop-color="#463cde"/><stop offset="0.300" stop-color="#484aed"/><stop offset="0.400" stop-color="#4758f8"/><stop offset="0.500" stop-color="#4466fd"/><stop offset="0.600" stop-color="#3975fe"/><stop offset="0.700" stop-color="#2e84f9"/><stop offset="0.800" stop-color="#2b91ef"/><stop offset="0.900" stop-color="#249de6"/><stop offset="1.000" stop-color="#1da9e0"/></linearGradient>
<linearGradient id="g59" gradientUnits="userSpaceOnUse" x1="454.8" y1="203.1" x2="573.7" y2="110.5"><stop offset="0.000" stop-color="#3e26a8"/><stop offset="0.100" stop-color="#4330c5"/><stop offset="0.200" stop-color="#463bdd"/><stop offset="0.300" stop-color="#4849ed"/><stop offset="0.400" stop-color="#4757f7"/><stop offset="0.500" stop-color="#4465fd"/><stop offset="0.600" stop-color="#3a74fe"/><stop offset="0.700" stop-color="#2f82f9"/><stop offset="0.800" stop-color="#2c90f0"/><stop offset="0.900" stop-color="#259ce7"/><stop offset="1.000" stop-color="#1ea7e1"/></linearGradient>
<linearGradient id="g60" gradientUnits="userSpaceOnUse" x1="452.8" y1="202.8" x2="571.7" y2="110.8"><stop offset="0.000" stop-color="#3e26a8"/><stop offset="0.100" stop-color="#4230c4"/><stop offset="0.200" stop-color="#463bdd"/><stop offset="0.300" stop-color="#4849ed"/><stop offset="0.400" stop-color="#4756f7"/><stop offset="0.500" stop-color="#4464fd"/><stop offset="0.600" stop-color="#3b73fe"/><stop offset="0.700" stop-color="#2f81fa"/><stop offset="0.800" stop-color="#2c8ef1"/><stop offset="0.900" stop-color="#269be8"/><stop offset="1.000" stop-color="#1fa6e2"/></linearGradient>
<linearGradient id="g61" gradientUnits="userSpaceOnUse" x1="450.8" y1="202.4" x2="569.7" y2="111.1"><stop offset="0.000" stop-color="#3e26a8"/><stop offset="0.100" stop-color="#4230c4"/><stop offset="0.200" stop-color="#463bdc"/><stop offset="0.300" stop-color="#4848ec"/><stop offset="0.400" stop-color="#4756f6"/><stop offset="0.500" stop-color="#4563fd"/><stop offset="0.600" stop-color="#3c72ff"/><stop offset="0.700" stop-color="#2f80fa"/><stop offset="0.800" stop-color="#2d8df2"/><stop offset="0.900" stop-color="#2699e9"/><stop offset="1.000" stop-color="#20a5e3"/></linearGradient>
<linearGradient id="g62" gradientUnits="userSpaceOnUse" x1="448.8" y1="202.0" x2="567.7" y2="111.4"><stop offset="0.000" stop-color="#3e26a8"/><stop offset="0.111" stop-color="#4331c7"/><stop offset="0.222" stop-color="#463de0"/><stop offset="0.333" stop-color="#484cf0"/><stop offset="0.444" stop-color="#475bf9"/><stop offset="0.556" stop-color="#426afe"/><stop offset="0.667" stop-color="#337afd"/><stop offset="0.778" stop-color="#2d89f5"/><stop offset="0.889" stop-color="#2797eb"/><stop offset="1.000" stop-color="#21a3e3"/></linearGradient>
<linearGradient id="g63" gradientUnits="userSpaceOnUse" x1="446.7" y1="201.6" x2="565.6" y2="111.7"><stop offset="0.000" stop-color="#3e26a8"/><stop offset="0.111" stop-color="#4331c6"/><stop offset="0.222" stop-color="#463de0"/><stop offset="0.333" stop-color="#484cef"/><stop offset="0.444" stop-color="#475af9"/><stop offset="0.556" stop-color="#4269fe"/><stop offset="0.667" stop-color="#3479fd"/><stop offset="0.778" stop-color="#2d88f6"/><stop offset="0.889" stop-color="#2896ec"/><stop offset="1.000" stop-color="#22a2e4"/></linearGradient>
<linearGradient id="g64" gradientUnits="userSpaceOnUse" x1="444.7" y1="201.3" x2="563.6" y2="111.9"><stop offset="0.000" stop-color="#3e26a8"/><stop offset="0.111" stop-color="#4331c6"/><stop offset="0.222" stop-color="#463ddf"/><stop offset="0.333" stop-color="#484bef"/><stop offset="0.444" stop-color="#475af9"/><stop offset="0.556" stop-color="#4368fe"/><stop offset="0.667" stop-color="#3578fd"/><stop offset="0.778" stop-color="#2e87f7"/><stop offset="0.889" stop-color="#2994ec"/><stop offset="1.000" stop-color="#23a1e4"/></linearGradient>
<linearGradient id="g65" gradientUnits="userSpaceOnUse" x1="442.6" y1="200.9" x2="561.5" y2="112.1"><stop offset="0.000" stop-color="#3e26a8"/><stop offset="0.111" stop-color="#4331c6"/><stop offset="0.222" stop-color="#463cdf"/><stop offset="0.333" stop-color="#484bee"/><stop offset="0.444" stop-color="#4759f8"/><stop offset="0.556" stop-color="#4368fd"/><stop offset="0.667" stop-color="#3777fe"/><stop offset="0.778" stop-color="#2e86f7"/><stop offset="0.889" stop-color="#2a93ed"/><stop offset="1.000" stop-color="#23a0e5"/></linearGradient>
<linearGradient id="g66" gradientUnits="userSpaceOnUse" x1="440.6" y1="200.5" x2="559.5" y2="112.4"><stop offset="0.000" stop-color="#3e26a8"/><stop offset="0.111" stop-color="#4330c5"/><stop offset="0.222" stop-color="#463cde"/><stop offset="0.333" stop-color="#484aee"/><stop offset="0.444" stop-color="#4758f8"/><stop offset="0.556" stop-color="#4367fd"/><stop offset="0.667" stop-color="#3876fe"/><stop offset="0.778" stop-color="#2e85f8"/><stop offset="0.889" stop-color="#2a92ee"/><stop offset="1.000" stop-color="#249ee6"/></linearGradient>
<linearGradient id="g67" gradientUnits="userSpaceOnUse" x1="438.5" y1="200.1" x2="557.4" y2="112.6"><stop offset="0.000" stop-color="#3e26a8"/><stop offset="0.111" stop-color="#4330c5"/><stop offset="0.222" stop-color="#463cde"/><stop offset="0.333" stop-color="#484aed"/><stop offset="0.444" stop-color="#4758f8"/><stop offset="0.556" stop-color="#4466fd"/><stop offset="0.667" stop-color="#3975fe"/><stop offset="0.778" stop-color="#2e84f9"/><stop offset="0.889" stop-color="#2b91ef"/><stop offset="1.000" stop-color="#249de6"/></linearGradient>
<linearGradient id="g68" gradientUnits="userSpaceOnUse" x1="436.4" y1="199.7" x2="555.3" y2="112.7"><stop offset="0.000" stop-color="#3e26a8"/><stop offset="0.111" stop-color="#4330c5"/><stop offset="0.222" stop-color="#463bdd"/><stop offset="0.333" stop-color="#4849ed"/><stop offset="0.444" stop-color="#4757f7"/><stop offset="0.556" stop-color="#4465fd"/><stop offset="0.667" stop-color="#3a74fe"/><stop offset="0.778" stop-color="#2e83f9"/><stop offset="0.889" stop-color="#2c90f0"/><stop offset="1.000" stop-color="#259ce7"/></linearGradient>
<linearGradient id="g69" gradientUnits="userSpaceOnUse" x1="434.3" y1="199.3" x2="553.2" y2="112.9"><stop offset="0.000" stop-color="#3e26a8"/><stop offset="0.111" stop-color="#4330c4"/><stop offset="0.222" stop-color="#463bdd"/><stop offset="0.333" stop-color="#4849ed"/><stop offset="0.444" stop-color="#4757f7"/><stop offset="0.556" stop-color="#4464fd"/><stop offset="0.667" stop-color="#3a73fe"/><stop offset="0.778" stop-color="#2f82fa"/><stop offset="0.889" stop-color="#2c8ff1"/><stop offset="1.000" stop-color="#259be8"/></linearGradient>
<linearGradient id="g70" gradientUnits="userSpaceOnUse" x1="432.2" y1="198.9" x2="551.1" y2="113.1"><stop offset="0.000" stop-color="#3e26a8"/><stop offset="0.111" stop-color="#4230c4"/><stop offset="0.222" stop-color="#463bdd"/><stop offset="0.333" stop-color="#4848ec"/><stop offset="0.444" stop-color="#4756f7"/><stop offset="0.556" stop-color="#4564fd"/><stop offset="0.667" stop-color="#3b72ff"/><stop offset="0.778" stop-color="#2f81fa"/><stop offset="0.889" stop-color="#2c8ef2"/><stop offset="1.000" stop-color="#269ae9"/></linearGradient>
<linearGradient id="g71" gradientUnits="userSpaceOnUse" x1="430.0" y1="198.6" x2="548.9" y2="113.2"><stop offset="0.000" stop-color="#3e26a8"/><stop offset="0.111" stop-color="#4230c4"/><stop offset="0.222" stop-color="#463bdc"/><stop offset="0.333" stop-color="#4848ec"/><stop offset="0.444" stop-color="#4755f6"/><stop offset="0.556" stop-color="#4563fc"/><stop offset="0.667" stop-color="#3c71ff"/><stop offset="0.778" stop-color="#3080fb"/><stop offset="0.889" stop-color="#2d8df2"/><stop offset="1.000" stop-color="#2699e9"/></linearGradient>
<linearGradient id="g72" gradientUnits="userSpaceOnUse" x1="427.9" y1="198.2" x2="546.8" y2="113.3"><stop offset="0.000" stop-color="#3e26a8"/><stop offset="0.111" stop-color="#4230c4"/><stop offset="0.222" stop-color="#463adc"/><stop offset="0.333" stop-color="#4747ec"/><stop offset="0.444" stop-color="#4755f6"/><stop offset="0.556" stop-color="#4562fc"/><stop offset="0.667" stop-color="#3d70ff"/><stop offset="0.778" stop-color="#307ffb"/><stop offset="0.889" stop-color="#2d8cf3"/><stop offset="1.000" stop-color="#2798ea"/></linearGradient>
<linearGradient id="g73" gradientUnits="userSpaceOnUse" x1="425.8" y1="197.8" x2="544.7" y2="113.4"><stop offset="0.000" stop-color="#3e26a8"/><stop offset="0.125" stop-color="#4331c7"/><stop offset="0.250" stop-color="#463de0"/><stop offset="0.375" stop-color="#484cf0"/><stop offset="0.500" stop-color="#475bf9"/><stop offset="0.625" stop-color="#426afe"/><stop offset="0.750" stop-color="#337afd"/><stop offset="0.875" stop-color="#2d89f5"/><stop offset="1.000" stop-color="#2797eb"/></linearGradient>
<linearGradient id="g74" gradientUnits="userSpaceOnUse" x1="423.6" y1="197.4" x2="542.5" y2="113.5"><stop offset="0.000" stop-color="#3e26a8"/><stop offset="0.125" stop-color="#4331c6"/><stop offset="0.250" stop-color="#463de0"/><stop offset="0.375" stop-color="#484cef"/><stop offset="0.500" stop-color="#475af9"/><stop offset="0.625" stop-color="#4269fe"/><stop offset="0.750" stop-color="#3479fd"/><stop offset="0.875" stop-color="#2d88f6"/><stop offset="1.000" stop-color="#2896ec"/></linearGradient>
<linearGradient id="g75" gradientUnits="userSpaceOnUse" x1="421.4" y1="197.0" x2="540.3" y2="113.6"><stop offset="0.000" stop-color="#3e26a8"/><stop offset="0.125" stop-color="#4331c6"/><stop offset="0.250" stop-color="#463ddf"/><stop offset="0.375" stop-color="#484bef"/><stop offset="0.500" stop-color="#475af9"/><stop offset="0.625" stop-color="#4369fe"/><stop offset="0.750" stop-color="#3578fd"/><stop offset="0.875" stop-color="#2e87f7"/><stop offset="1.000" stop-color="#2995ec"/></linearGradient>
<linearGradient id="g76" gradientUnits="userSpaceOnUse" x1="419.2" y1="196.6" x2="538.1" y2="113.7"><stop offset="0.000" stop-color="#3e26a8"/><stop offset="0.125" stop-color="#4331c6"/><stop offset="0.250" stop-color="#463cdf"/><stop offset="0.375" stop-color="#484bee"/><stop offset="0.500" stop-color="#4759f8"/><stop offset="0.625" stop-color="#4368fe"/><stop offset="0.750" stop-color="#3677fe"/><stop offset="0.875" stop-color="#2e86f7"/><stop offset="1.000" stop-color="#2994ed"/></linearGradient>
<linearGradient id="g77" gradientUnits="userSpaceOnUse" x1="417.0" y1="196.2" x2="535.9" y2="113.8"><stop offset="0.000" stop-color="#3e26a8"/><stop offset="0.125" stop-color="#4331c6"/><stop offset="0.250" stop-color="#463cdf"/><stop offset="0.375" stop-color="#484aee"/><stop offset="0.500" stop-color="#4759f8"/><stop offset="0.625" stop-color="#4367fd"/><stop offset="0.750" stop-color="#3777fe"/><stop offset="0.875" stop-color="#2e85f8"/><stop offset="1.000" stop-color="#2a93ee"/></linearGradient>
<linearGradient id="g78" gradientUnits="userSpaceOnUse" x1="414.8" y1="195.7" x2="533.7" y2="113.8"><stop offset="0.000" stop-color="#3e26a8"/><stop offset="0.125" stop-color="#4330c5"/><stop offset="0.250" stop-color="#463cde"/><stop offset="0.375" stop-color="#484aee"/><stop offset="0.500" stop-color="#4758f8"/><stop offset="0.625" stop-color="#4366fd"/><stop offset="0.750" stop-color="#3876fe"/><stop offset="0.875" stop-color="#2e84f8"/><stop offset="1.000" stop-color="#2b92ee"/></linearGradient>
<linearGradient id="g79" gradientUnits="userSpaceOnUse" x1="412.6" y1="195.3" x2="531.5" y2="113.8"><stop offset="0.000" stop-color="#3e26a8"/><stop offset="0.125" stop-color="#4330c5"/><stop offset="0.250" stop-color="#463cde"/><stop offset="0.375" stop-color="#484aed"/><stop offset="0.500" stop-color="#4758f8"/><stop offset="0.625" stop-color="#4466fd"/><stop offset="0.750" stop-color="#3975fe"/><stop offset="0.875" stop-color="#2e84f9"/><stop offset="1.000" stop-color="#2b91ef"/></linearGradient>
<linearGradient id="g80" gradientUnits="userSpaceOnUse" x1="410.4" y1="194.9" x2="529.3" y2="113.9"><stop offset="0.000" stop-color="#3e26a8"/><stop offset="0.125" stop-color="#4330c5"/><stop offset="0.250" stop-color="#463bdd"/><stop offset="0.375" stop-color="#4849ed"/><stop offset="0.500" stop-color="#4757f7"/><stop offset="0.625" stop-color="#4465fd"/><stop offset="0.750" stop-color="#3a74fe"/><stop offset="0.875" stop-color="#2e83f9"/><stop offset="1.000" stop-color="#2c90f0"/></linearGradient>
<linearGradient id="g81" gradientUnits="userSpaceOnUse" x1="408.1" y1="194.5" x2="527.0" y2="113.9"><stop offset="0.000" stop-color="#3e26a8"/><stop offset="0.125" stop-color="#4330c4"/><stop offset="0.250" stop-color="#463bdd"/><stop offset="0.375" stop-color="#4849ed"/><stop offset="0.500" stop-color="#4757f7"/><stop offset="0.625" stop-color="#4464fd"/><stop offset="0.750" stop-color="#3a73fe"/><stop offset="0.875" stop-color="#2f82fa"/><stop offset="1.000" stop-color="#2c8ff1"/></linearGradient>
<linearGradient id="g82" gradientUnits="userSpaceOnUse" x1="405.9" y1="194.1" x2="524.8" y2="113.9"><stop offset="0.000" stop-color="#3e26a8"/><stop offset="0.125" stop-color="#4230c4"/><stop offset="0.250" stop-color="#463bdd"/><stop offset="0.375" stop-color="#4848ec"/><stop offset="0.500" stop-color="#4756f7"/><stop offset="0.625" stop-color="#4564fd"/><stop offset="0.750" stop-color="#3b72ff"/><stop offset="0.875" stop-color="#2f81fa"/><stop offset="1.000" stop-color="#2c8ef1"/></linearGradient>
<linearGradient id="g83" gradientUnits="userSpaceOnUse" x1="403.6" y1="193.7" x2="522.5" y2="113.9"><stop offset="0.000" stop-color="#3e26a8"/><stop offset="0.125" stop-color="#4230c4"/><stop offset="0.250" stop-color="#463bdc"/><stop offset="0.375" stop-color="#4848ec"/><stop offset="0.500" stop-color="#4756f6"/><stop offset="0.625" stop-color="#4563fd"/><stop offset="0.750" stop-color="#3c71ff"/><stop offset="0.875" stop-color="#3080fa"/><stop offset="1.000" stop-color="#2d8df2"/></linearGradient>
<linearGradient id="g84" gradientUnits="userSpaceOnUse" x1="401.3" y1="193.2" x2="520.2" y2="113.8"><stop offset="0.000" stop-color="#3e26a8"/><stop offset="0.125" stop-color="#4230c4"/><stop offset="0.250" stop-color="#463adc"/><stop offset="0.375" stop-color="#4848ec"/><stop offset="0.500" stop-color="#4755f6"/><stop offset="0.625" stop-color="#4563fc"/><stop offset="0.750" stop-color="#3d71ff"/><stop offset="0.875" stop-color="#307ffb"/><stop offset="1.000" stop-color="#2d8cf3"/></linearGradient>
<linearGradient id="g85" gradientUnits="userSpaceOnUse" x1="399.0" y1="192.8" x2="517.9" y2="113.8"><stop offset="0.000" stop-color="#3e26a8"/><stop offset="0.125" stop-color="#4230c4"/><stop offset="0.250" stop-color="#463adc"/><stop offset="0.375" stop-color="#4747eb"/><stop offset="0.500" stop-color="#4755f6"/><stop offset="0.625" stop-color="#4562fc"/><stop offset="0.750" stop-color="#3d70ff"/><stop offset="0.875" stop-color="#307efb"/><stop offset="1.000" stop-color="#2d8bf3"/></linearGradient>
<linearGradient id="g86" gradientUnits="userSpaceOnUse" x1="396.7" y1="192.4" x2="515.6" y2="113.8"><stop offset="0.000" stop-color="#3e26a8"/><stop offset="0.125" stop-color="#4230c3"/><stop offset="0.250" stop-color="#463adb"/><stop offset="0.375" stop-color="#4747eb"/><stop offset="0.500" stop-color="#4854f5"/><stop offset="0.625" stop-color="#4561fc"/><stop offset="0.750" stop-color="#3e6fff"/><stop offset="0.875" stop-color="#317efb"/><stop offset="1.000" stop-color="#2d8af4"/></linearGradient>
<linearGradient id="g87" gradientUnits="userSpaceOnUse" x1="394.4" y1="192.0" x2="513.3" y2="113.7"><stop offset="0.000" stop-color="#3e26a8"/><stop offset="0.143" stop-color="#4331c7"/><stop offset="0.286" stop-color="#463de0"/><stop offset="0.429" stop-color="#484cf0"/><stop offset="0.571" stop-color="#475bf9"/><stop offset="0.714" stop-color="#416afe"/><stop offset="0.857" stop-color="#337bfd"/><stop offset="1.000" stop-color="#2d8af5"/></linearGradient>
<linearGradient id="g88" gradientUnits="userSpaceOnUse" x1="392.1" y1="191.5" x2="511.0" y2="113.7"><stop offset="0.000" stop-color="#3e26a8"/><stop offset="0.143" stop-color="#4331c7"/><stop offset="0.286" stop-color="#463de0"/><stop offset="0.429" stop-color="#484cef"/><stop offset="0.571" stop-color="#475bf9"/><stop offset="0.714" stop-color="#426afe"/><stop offset="0.857" stop-color="#347afd"/><stop offset="1.000" stop-color="#2d89f5"/></linearGradient>
<linearGradient id="g89" gradientUnits="userSpaceOnUse" x1="389.8" y1="191.1" x2="508.7" y2="113.6"><stop offset="0.000" stop-color="#3e26a8"/><stop offset="0.143" stop-color="#4331c6"/><stop offset="0.286" stop-color="#463de0"/><stop offset="0.429" stop-color="#484cef"/><stop offset="0.571" stop-color="#475af9"/><stop offset="0.714" stop-color="#4269fe"/><stop offset="0.857" stop-color="#3579fd"/><stop offset="1.000" stop-color="#2d88f6"/></linearGradient>
</defs>
<path d="M391.87 191.50L388.60 190.90L507.50 113.54L510.77 113.64 Z" fill="url(#g89)"/>
<path d="M394.19 191.93L390.01 191.16L508.91 113.59L513.09 113.71 Z" fill="url(#g88)"/>
<path d="M396.50 192.36L392.34 191.59L511.24 113.66L515.40 113.76 Z" fill="url(#g87)"/>
<path d="M398.80 192.78L394.65 192.02L513.55 113.72L517.70 113.80 Z" fill="url(#g86)"/>
<path d="M401.09 193.21L396.96 192.44L515.86 113.77L519.99 113.83 Z" fill="url(#g85)"/>
<path d="M403.37 193.63L399.26 192.87L518.16 113.81L522.27 113.85 Z" fill="url(#g84)"/>
<path d="M405.64 194.05L401.55 193.29L520.45 113.84L524.54 113.86 Z" fill="url(#g83)"/>
<path d="M407.89 194.46L403.82 193.71L522.72 113.86L526.79 113.87 Z" fill="url(#g82)"/>
<path d="M410.14 194.88L406.09 194.13L524.99 113.87L529.04 113.86 Z" fill="url(#g81)"/>
<path d="M412.37 195.29L408.34 194.55L527.24 113.86L531.27 113.83 Z" fill="url(#g80)"/>
<path d="M414.60 195.70L410.59 194.96L529.49 113.85L533.50 113.80 Z" fill="url(#g79)"/>
<path d="M416.81 196.11L412.82 195.37L531.72 113.83L535.71 113.76 Z" fill="url(#g78)"/>
<path d="M419.01 196.52L415.04 195.78L533.94 113.79L537.91 113.70 Z" fill="url(#g77)"/>
<path d="M421.20 196.92L417.25 196.19L536.15 113.75L540.10 113.63 Z" fill="url(#g76)"/>
<path d="M423.38 197.32L419.45 196.60L538.35 113.69L542.28 113.55 Z" fill="url(#g75)"/>
<path d="M425.54 197.72L421.64 197.00L540.54 113.61L544.44 113.45 Z" fill="url(#g74)"/>
<path d="M427.70 198.12L423.81 197.40L542.71 113.53L546.60 113.34 Z" fill="url(#g73)"/>
<path d="M429.84 198.52L425.97 197.80L544.87 113.43L548.74 113.22 Z" fill="url(#g72)"/>
<path d="M431.97 198.91L428.13 198.20L547.03 113.32L550.87 113.08 Z" fill="url(#g71)"/>
<path d="M434.09 199.30L430.27 198.60L549.17 113.19L552.99 112.93 Z" fill="url(#g70)"/>
<path d="M436.20 199.69L432.39 198.99L551.29 113.05L555.10 112.76 Z" fill="url(#g69)"/>
<path d="M438.29 200.08L434.51 199.38L553.41 112.90L557.19 112.58 Z" fill="url(#g68)"/>
<path d="M440.37 200.46L436.61 199.77L555.51 112.73L559.27 112.38 Z" fill="url(#g67)"/>
<path d="M442.44 200.85L438.71 200.16L557.61 112.54L561.34 112.17 Z" fill="url(#g66)"/>
<path d="M444.50 201.23L440.79 200.54L559.69 112.34L563.40 111.94 Z" fill="url(#g65)"/>
<path d="M446.54 201.60L442.85 200.92L561.75 112.12L565.44 111.69 Z" fill="url(#g64)"/>
<path d="M448.57 201.98L444.91 201.30L563.81 111.89L567.47 111.42 Z" fill="url(#g63)"/>
<path d="M450.59 202.35L446.95 201.68L565.85 111.64L569.49 111.14 Z" fill="url(#g62)"/>
<path d="M452.60 202.72L448.98 202.05L567.88 111.37L571.50 110.84 Z" fill="url(#g61)"/>
<path d="M454.59 203.09L450.99 202.42L569.89 111.08L573.49 110.51 Z" fill="url(#g60)"/>
<path d="M456.57 203.45L452.99 202.79L571.89 110.77L575.47 110.17 Z" fill="url(#g59)"/>
<path d="M458.53 203.82L454.98 203.16L573.88 110.45L577.43 109.81 Z" fill="url(#g58)"/>
<path d="M460.48 204.18L456.96 203.53L575.86 110.10L579.38 109.43 Z" fill="url(#g57)"/>
<path d="M462.42 204.54L458.92 203.89L577.82 109.73L581.32 109.02 Z" fill="url(#g56)"/>
<path d="M464.34 204.89L460.87 204.25L579.77 109.35L583.24 108.59 Z" fill="url(#g55)"/>
<path d="M466.25 205.24L462.81 204.61L581.71 108.94L585.15 108.14 Z" fill="url(#g54)"/>
<path d="M468.15 205.59L464.73 204.96L583.63 108.50L587.05 107.66 Z" fill="url(#g53)"/>
<path d="M470.03 205.94L466.63 205.31L585.53 108.05L588.93 107.16 Z" fill="url(#g52)"/>
<path d="M471.90 206.29L468.53 205.66L587.43 107.57L590.80 106.64 Z" fill="url(#g51)"/>
<path d="M473.75 206.63L470.41 206.01L589.31 107.06L592.65 106.09 Z" fill="url(#g50)"/>
<path d="M475.59 206.97L472.27 206.36L591.17 106.53L594.49 105.51 Z" fill="url(#g49)"/>
<path d="M477.41 207.30L474.12 206.70L593.02 105.97L596.31 104.90 Z" fill="url(#g48)"/>
<path d="M479.22 207.64L475.95 207.04L594.85 105.39L598.12 104.27 Z" fill="url(#g47)"/>
<path d="M481.01 207.97L477.77 207.37L596.67 104.78L599.91 103.61 Z" fill="url(#g46)"/>
<path d="M482.78 208.30L479.58 207.70L598.48 104.14L601.68 102.91 Z" fill="url(#g45)"/>
<path d="M484.54 208.62L481.36 208.04L600.26 103.47L603.44 102.18 Z" fill="url(#g44)"/>
<path d="M486.29 208.94L483.14 208.36L602.04 102.77L605.19 101.43 Z" fill="url(#g43)"/>
<path d="M488.02 209.26L484.89 208.69L603.79 102.04L606.92 100.63 Z" fill="url(#g42)"/>
<path d="M489.73 209.58L486.63 209.01L605.53 101.27L608.63 99.81 Z" fill="url(#g41)"/>
<path d="M491.42 209.89L488.36 209.33L607.26 100.47L610.32 98.95 Z" fill="url(#g40)"/>
<path d="M493.10 210.20L490.07 209.64L608.97 99.64L612.00 98.05 Z" fill="url(#g39)"/>
<path d="M494.76 210.51L491.76 209.96L610.66 98.77L613.66 97.11 Z" fill="url(#g38)"/>
<path d="M496.40 210.81L493.43 210.26L612.33 97.86L615.30 96.14 Z" fill="url(#g37)"/>
<path d="M498.03 211.11L495.09 210.57L613.99 96.92L616.93 95.12 Z" fill="url(#g36)"/>
<path d="M499.63 211.41L496.73 210.87L615.63 95.94L618.53 94.07 Z" fill="url(#g35)"/>
<path d="M501.22 211.70L498.35 211.17L617.25 94.92L620.12 92.97 Z" fill="url(#g34)"/>
<path d="M502.79 211.99L499.95 211.47L618.85 93.85L621.69 91.83 Z" fill="url(#g33)"/>
<path d="M504.34 212.28L501.54 211.76L620.44 92.75L623.24 90.64 Z" fill="url(#g32)"/>
<path d="M505.87 212.56L503.10 212.05L622.00 91.60L624.77 89.41 Z" fill="url(#g31)"/>
<path d="M507.38 212.84L504.65 212.34L623.55 90.40L626.28 88.13 Z" fill="url(#g30)"/>
<path d="M508.87 213.12L506.17 212.62L625.07 89.16L627.77 86.81 Z" fill="url(#g29)"/>
<path d="M510.34 213.39L507.68 212.90L626.58 87.87L629.24 85.43 Z" fill="url(#g28)"/>
<path d="M511.79 213.66L509.17 213.17L628.07 86.54L630.69 84.01 Z" fill="url(#g27)"/>
<path d="M513.22 213.92L510.63 213.44L629.53 85.15L632.12 82.53 Z" fill="url(#g26)"/>
<path d="M514.62 214.18L512.08 213.71L630.98 83.72L633.52 81.01 Z" fill="url(#g25)"/>
<path d="M516.00 214.43L513.50 213.97L632.40 82.23L634.90 79.43 Z" fill="url(#g24)"/>
<path d="M517.36 214.68L514.90 214.23L633.80 80.70L636.26 77.80 Z" fill="url(#g23)"/>
<path d="M518.70 214.93L516.28 214.48L635.18 79.11L637.60 76.11 Z" fill="url(#g22)"/>
<path d="M520.01 215.17L517.63 214.73L636.53 77.47L638.91 74.38 Z" fill="url(#g21)"/>
<path d="M521.29 215.41L518.96 214.98L637.86 75.77L640.19 72.59 Z" fill="url(#g20)"/>
<path d="M522.55 215.64L520.27 215.22L639.17 74.02L641.45 70.75 Z" fill="url(#g19)"/>
<path d="M523.79 215.87L521.55 215.46L640.45 72.22L642.69 68.85 Z" fill="url(#g18)"/>
<path d="M524.99 216.09L522.80 215.69L641.70 70.37L643.89 66.91 Z" fill="url(#g17)"/>
<path d="M526.17 216.31L524.03 215.92L642.93 68.47L645.07 64.92 Z" fill="url(#g16)"/>
<path d="M527.31 216.52L525.23 216.14L644.13 66.51L646.21 62.88 Z" fill="url(#g15)"/>
<path d="M528.43 216.73L526.40 216.35L645.30 64.52L647.33 60.81 Z" fill="url(#g14)"/>
<path d="M529.51 216.93L527.54 216.56L646.44 62.47L648.41 58.70 Z" fill="url(#g13)"/>
<path d="M530.56 217.12L528.65 216.77L647.55 60.39L649.46 56.55 Z" fill="url(#g12)"/>
<path d="M531.58 217.31L529.73 216.97L648.63 58.27L650.48 54.38 Z" fill="url(#g11)"/>
<path d="M532.55 217.49L530.77 217.16L649.67 56.12L651.45 52.20 Z" fill="url(#g10)"/>
<path d="M533.49 217.66L531.78 217.35L650.68 53.95L652.39 50.01 Z" fill="url(#g9)"/>
<path d="M534.38 217.83L532.74 217.53L651.64 51.76L653.28 47.83 Z" fill="url(#g8)"/>
<path d="M535.23 217.99L533.67 217.70L652.57 49.57L654.13 45.68 Z" fill="url(#g7)"/>
<path d="M536.03 218.13L534.56 217.86L653.46 47.40L654.93 43.57 Z" fill="url(#g6)"/>
<path d="M536.77 218.27L535.40 218.02L654.30 45.25L655.67 41.53 Z" fill="url(#g5)"/>
<path d="M537.46 218.40L536.19 218.16L655.09 43.15L656.36 39.59 Z" fill="url(#g4)"/>
<path d="M538.07 218.51L536.92 218.30L655.82 41.12L656.97 37.79 Z" fill="url(#g3)"/>
<path d="M538.59 218.61L537.59 218.42L656.49 39.20L657.49 36.21 Z" fill="url(#g2)"/>
<path d="M539.00 218.68L538.19 218.53L657.09 37.43L657.90 34.93 Z" fill="url(#g1)"/>
<path d="M539.10 218.70L538.71 218.63L657.61 35.84L658.00 34.63 Z" fill="url(#g0)"/>
<line x1="388.60" y1="190.90" x2="388.60" y2="40.90" stroke="#7a7a7a" stroke-width="1.10"/>
<line x1="388.60" y1="190.90" x2="539.10" y2="218.70" stroke="#7a7a7a" stroke-width="1.10"/>
<line x1="539.10" y1="218.70" x2="658.00" y2="184.40" stroke="#7a7a7a" stroke-width="1.10"/>
<line x1="388.60" y1="190.90" x2="386.10" y2="190.90" stroke="#7a7a7a" stroke-width="1.00"/>
<text transform="translate(377.70,195.18) scale(1,1.080)" font-size="12.00" text-anchor="middle" fill="#3a3a3a" stroke="#3a3a3a" stroke-width="0.08">0</text>
<line x1="388.60" y1="153.40" x2="386.10" y2="153.40" stroke="#7a7a7a" stroke-width="1.00"/>
<text transform="translate(377.70,157.68) scale(1,1.080)" font-size="12.00" text-anchor="middle" fill="#3a3a3a" stroke="#3a3a3a" stroke-width="0.08">1</text>
<line x1="388.60" y1="115.90" x2="386.10" y2="115.90" stroke="#7a7a7a" stroke-width="1.00"/>
<text transform="translate(377.70,120.18) scale(1,1.080)" font-size="12.00" text-anchor="middle" fill="#3a3a3a" stroke="#3a3a3a" stroke-width="0.08">2</text>
<line x1="388.60" y1="78.40" x2="386.10" y2="78.40" stroke="#7a7a7a" stroke-width="1.00"/>
<text transform="translate(377.70,82.68) scale(1,1.080)" font-size="12.00" text-anchor="middle" fill="#3a3a3a" stroke="#3a3a3a" stroke-width="0.08">3</text>
<line x1="388.60" y1="40.90" x2="386.10" y2="40.90" stroke="#7a7a7a" stroke-width="1.00"/>
<text transform="translate(377.70,45.18) scale(1,1.080)" font-size="12.00" text-anchor="middle" fill="#3a3a3a" stroke="#3a3a3a" stroke-width="0.08">4</text>
<line x1="405.32" y1="193.99" x2="404.32" y2="196.49" stroke="#7a7a7a" stroke-width="1.00"/>
<text transform="translate(393.92,207.27) scale(1,1.080)" font-size="12.00" text-anchor="middle" fill="#3a3a3a" stroke="#3a3a3a" stroke-width="0.08">80</text>
<line x1="438.77" y1="200.17" x2="437.77" y2="202.67" stroke="#7a7a7a" stroke-width="1.00"/>
<text transform="translate(427.37,213.44) scale(1,1.080)" font-size="12.00" text-anchor="middle" fill="#3a3a3a" stroke="#3a3a3a" stroke-width="0.08">60</text>
<line x1="472.21" y1="206.34" x2="471.21" y2="208.84" stroke="#7a7a7a" stroke-width="1.00"/>
<text transform="translate(460.81,219.62) scale(1,1.080)" font-size="12.00" text-anchor="middle" fill="#3a3a3a" stroke="#3a3a3a" stroke-width="0.08">40</text>
<line x1="505.66" y1="212.52" x2="504.66" y2="215.02" stroke="#7a7a7a" stroke-width="1.00"/>
<text transform="translate(494.26,225.80) scale(1,1.080)" font-size="12.00" text-anchor="middle" fill="#3a3a3a" stroke="#3a3a3a" stroke-width="0.08">20</text>
<line x1="539.10" y1="218.70" x2="538.10" y2="221.20" stroke="#7a7a7a" stroke-width="1.00"/>
<text transform="translate(527.70,231.98) scale(1,1.080)" font-size="12.00" text-anchor="middle" fill="#3a3a3a" stroke="#3a3a3a" stroke-width="0.08">0</text>
<line x1="539.10" y1="218.70" x2="540.10" y2="221.20" stroke="#7a7a7a" stroke-width="1.00"/>
<text transform="translate(549.60,231.48) scale(1,1.080)" font-size="12.00" text-anchor="middle" fill="#3a3a3a" stroke="#3a3a3a" stroke-width="0.08">0</text>
<line x1="590.53" y1="203.86" x2="591.53" y2="206.36" stroke="#7a7a7a" stroke-width="1.00"/>
<text transform="translate(602.53,216.64) scale(1,1.080)" font-size="12.00" text-anchor="middle" fill="#3a3a3a" stroke="#3a3a3a" stroke-width="0.08">60</text>
<line x1="641.97" y1="189.02" x2="642.97" y2="191.52" stroke="#7a7a7a" stroke-width="1.00"/>
<text transform="translate(656.47,201.80) scale(1,1.080)" font-size="12.00" text-anchor="middle" fill="#3a3a3a" stroke="#3a3a3a" stroke-width="0.08">120</text>
<text transform="translate(345.30,19.10) scale(1,1.000)" font-size="18.00" text-anchor="start" fill="#111" stroke="#111" stroke-width="0.08" font-weight="bold">(b)</text>
<text transform="translate(359.50,116.70) rotate(-90) scale(1,1.080)" y="4.29" font-size="13.00" text-anchor="middle" fill="#3a3a3a" stroke="#3a3a3a" stroke-width="0.08" textLength="160.7" lengthAdjust="spacingAndGlyphs">Passive Tensile Torque M<tspan baseline-shift="sub" font-size="75%">b</tspan> (N)</text>
<text transform="translate(381.60,235.63) scale(1,1.080)" font-size="13.00" text-anchor="start" fill="#3a3a3a" stroke="#3a3a3a" stroke-width="0.08" textLength="132.2" lengthAdjust="spacingAndGlyphs">Circled Bisection Angle &#952;</text>
<text transform="translate(537.30,240.83) scale(1,1.080)" font-size="13.00" text-anchor="start" fill="#3a3a3a" stroke="#3a3a3a" stroke-width="0.08">Overall Bending Angle &#952;(&#176;)</text>
<line x1="39.70" y1="278.35" x2="39.70" y2="492.30" stroke="#7a7a7a" stroke-width="1.10"/>
<line x1="39.70" y1="492.30" x2="318.10" y2="492.30" stroke="#7a7a7a" stroke-width="1.10"/>
<line x1="39.70" y1="492.30" x2="42.20" y2="492.30" stroke="#7a7a7a" stroke-width="1.00"/>
<text transform="translate(36.00,497.20) scale(1,1.080)" font-size="11.50" text-anchor="end" fill="#3a3a3a" stroke="#3a3a3a" stroke-width="0.08">0</text>
<line x1="39.70" y1="453.40" x2="42.20" y2="453.40" stroke="#7a7a7a" stroke-width="1.00"/>
<text transform="translate(36.00,458.30) scale(1,1.080)" font-size="11.50" text-anchor="end" fill="#3a3a3a" stroke="#3a3a3a" stroke-width="0.08">1</text>
<line x1="39.70" y1="414.50" x2="42.20" y2="414.50" stroke="#7a7a7a" stroke-width="1.00"/>
<text transform="translate(36.00,419.40) scale(1,1.080)" font-size="11.50" text-anchor="end" fill="#3a3a3a" stroke="#3a3a3a" stroke-width="0.08">2</text>
<line x1="39.70" y1="375.60" x2="42.20" y2="375.60" stroke="#7a7a7a" stroke-width="1.00"/>
<text transform="translate(36.00,380.50) scale(1,1.080)" font-size="11.50" text-anchor="end" fill="#3a3a3a" stroke="#3a3a3a" stroke-width="0.08">3</text>
<line x1="39.70" y1="336.70" x2="42.20" y2="336.70" stroke="#7a7a7a" stroke-width="1.00"/>
<text transform="translate(36.00,341.60) scale(1,1.080)" font-size="11.50" text-anchor="end" fill="#3a3a3a" stroke="#3a3a3a" stroke-width="0.08">4</text>
<line x1="39.70" y1="297.80" x2="42.20" y2="297.80" stroke="#7a7a7a" stroke-width="1.00"/>
<text transform="translate(36.00,302.70) scale(1,1.080)" font-size="11.50" text-anchor="end" fill="#3a3a3a" stroke="#3a3a3a" stroke-width="0.08">5</text>
<line x1="39.70" y1="492.30" x2="39.70" y2="489.80" stroke="#7a7a7a" stroke-width="1.00"/>
<text transform="translate(39.70,508.50) scale(1,1.080)" font-size="11.50" text-anchor="middle" fill="#3a3a3a" stroke="#3a3a3a" stroke-width="0.08">0</text>
<line x1="95.38" y1="492.30" x2="95.38" y2="489.80" stroke="#7a7a7a" stroke-width="1.00"/>
<text transform="translate(95.38,508.50) scale(1,1.080)" font-size="11.50" text-anchor="middle" fill="#3a3a3a" stroke="#3a3a3a" stroke-width="0.08">60</text>
<line x1="151.06" y1="492.30" x2="151.06" y2="489.80" stroke="#7a7a7a" stroke-width="1.00"/>
<text transform="translate(151.06,508.50) scale(1,1.080)" font-size="11.50" text-anchor="middle" fill="#3a3a3a" stroke="#3a3a3a" stroke-width="0.08">120</text>
<line x1="206.74" y1="492.30" x2="206.74" y2="489.80" stroke="#7a7a7a" stroke-width="1.00"/>
<text transform="translate(206.74,508.50) scale(1,1.080)" font-size="11.50" text-anchor="middle" fill="#3a3a3a" stroke="#3a3a3a" stroke-width="0.08">180</text>
<line x1="262.42" y1="492.30" x2="262.42" y2="489.80" stroke="#7a7a7a" stroke-width="1.00"/>
<text transform="translate(262.42,508.50) scale(1,1.080)" font-size="11.50" text-anchor="middle" fill="#3a3a3a" stroke="#3a3a3a" stroke-width="0.08">240</text>
<line x1="290.26" y1="492.30" x2="290.26" y2="489.80" stroke="#7a7a7a" stroke-width="1.00"/>
<text transform="translate(290.26,508.50) scale(1,1.080)" font-size="11.50" text-anchor="middle" fill="#3a3a3a" stroke="#3a3a3a" stroke-width="0.08">270</text>
<line x1="39.70" y1="492.30" x2="290.26" y2="351.87" stroke="#f03c3c" stroke-width="1.70" stroke-linecap="round"/>
<line x1="39.70" y1="492.30" x2="290.26" y2="447.56" stroke="#3ce63c" stroke-width="1.70" stroke-linecap="round"/>
<line x1="39.70" y1="492.30" x2="290.26" y2="347.59" stroke="#ee3cee" stroke-width="1.70" stroke-linecap="round"/>
<line x1="39.70" y1="492.30" x2="290.26" y2="385.33" stroke="#2e2e2e" stroke-width="1.70" stroke-linecap="round"/>
<line x1="39.70" y1="492.30" x2="290.26" y2="372.88" stroke="#2e2e2e" stroke-width="1.70" stroke-linecap="round"/>
<line x1="39.70" y1="492.30" x2="290.26" y2="356.54" stroke="#2e2e2e" stroke-width="1.70" stroke-linecap="round"/>
<line x1="39.70" y1="492.30" x2="290.26" y2="338.26" stroke="#2e2e2e" stroke-width="1.70" stroke-linecap="round"/>
<line x1="39.70" y1="492.30" x2="290.26" y2="316.47" stroke="#2e2e2e" stroke-width="1.70" stroke-linecap="round"/>
<line x1="39.70" y1="492.30" x2="290.26" y2="290.41" stroke="#2e2e2e" stroke-width="1.70" stroke-linecap="round"/>
<text transform="translate(296.50,293.80) scale(1,1.080)" font-size="11.50" text-anchor="start" fill="#3a3a3a" stroke="#3a3a3a" stroke-width="0.08" textLength="30.3" lengthAdjust="spacingAndGlyphs">V=1.0</text>
<text transform="translate(296.50,319.90) scale(1,1.080)" font-size="11.50" text-anchor="start" fill="#3a3a3a" stroke="#3a3a3a" stroke-width="0.08" textLength="30.3" lengthAdjust="spacingAndGlyphs">V=0.9</text>
<text transform="translate(296.50,339.70) scale(1,1.080)" font-size="11.50" text-anchor="start" fill="#3a3a3a" stroke="#3a3a3a" stroke-width="0.08" textLength="30.3" lengthAdjust="spacingAndGlyphs">V=0.8</text>
<text transform="translate(296.50,359.60) scale(1,1.080)" font-size="11.50" text-anchor="start" fill="#3a3a3a" stroke="#3a3a3a" stroke-width="0.08" textLength="30.3" lengthAdjust="spacingAndGlyphs">V=0.7</text>
<text transform="translate(296.50,376.40) scale(1,1.080)" font-size="11.50" text-anchor="start" fill="#3a3a3a" stroke="#3a3a3a" stroke-width="0.08" textLength="30.3" lengthAdjust="spacingAndGlyphs">V=0.6</text>
<text transform="translate(296.50,394.10) scale(1,1.080)" font-size="11.50" text-anchor="start" fill="#3a3a3a" stroke="#3a3a3a" stroke-width="0.08" textLength="30.3" lengthAdjust="spacingAndGlyphs">V=0.5</text>
<rect x="48.50" y="292.60" width="104.10" height="64.80" fill="#fff" stroke="#7a7a7a" stroke-width="1"/>
<line x1="51.20" y1="301.00" x2="77.10" y2="301.00" stroke="#f03c3c" stroke-width="1.50"/>
<text transform="translate(78.90,305.63) scale(1,1.080)" font-size="13.00" text-anchor="start" fill="#3a3a3a" stroke="#3a3a3a" stroke-width="0.08">Semicircle</text>
<line x1="51.20" y1="317.20" x2="77.10" y2="317.20" stroke="#3ce63c" stroke-width="1.50"/>
<text transform="translate(78.90,321.83) scale(1,1.080)" font-size="13.00" text-anchor="start" fill="#3a3a3a" stroke="#3a3a3a" stroke-width="0.08" textLength="71.2" lengthAdjust="spacingAndGlyphs">Semi-circular</text>
<line x1="51.20" y1="332.60" x2="77.10" y2="332.60" stroke="#ee3cee" stroke-width="1.50"/>
<text transform="translate(78.90,337.23) scale(1,1.080)" font-size="13.00" text-anchor="start" fill="#3a3a3a" stroke="#3a3a3a" stroke-width="0.08">Full Circle</text>
<line x1="51.20" y1="348.20" x2="77.10" y2="348.20" stroke="#2e2e2e" stroke-width="1.50"/>
<text transform="translate(78.90,352.83) scale(1,1.080)" font-size="13.00" text-anchor="start" fill="#3a3a3a" stroke="#3a3a3a" stroke-width="0.08" textLength="62.5" lengthAdjust="spacingAndGlyphs">Rectangular</text>
<text transform="translate(1.50,281.10) scale(1,1.000)" font-size="18.00" text-anchor="start" fill="#111" stroke="#111" stroke-width="0.08" font-weight="bold">(c)</text>
<text transform="translate(13.70,385.00) rotate(-90) scale(1,1.080)" y="4.29" font-size="13.00" text-anchor="middle" fill="#3a3a3a" stroke="#3a3a3a" stroke-width="0.08" textLength="159.5" lengthAdjust="spacingAndGlyphs">Passive Tensile Torque M<tspan baseline-shift="sub" font-size="75%">b</tspan>(N)</text>
<text transform="translate(179.50,524.63) scale(1,1.080)" font-size="13.00" text-anchor="middle" fill="#3a3a3a" stroke="#3a3a3a" stroke-width="0.08" textLength="145.0" lengthAdjust="spacingAndGlyphs">Overall Bending Angle &#952;(&#176;)</text>
<line x1="383.80" y1="280.30" x2="383.80" y2="503.50" stroke="#7a7a7a" stroke-width="1.10"/>
<line x1="383.80" y1="503.50" x2="675.70" y2="503.50" stroke="#7a7a7a" stroke-width="1.10"/>
<line x1="383.80" y1="503.50" x2="386.30" y2="503.50" stroke="#7a7a7a" stroke-width="1.00"/>
<text transform="translate(379.50,508.58) scale(1,1.080)" font-size="12.00" text-anchor="end" fill="#3a3a3a" stroke="#3a3a3a" stroke-width="0.08">0</text>
<line x1="383.80" y1="478.70" x2="386.30" y2="478.70" stroke="#7a7a7a" stroke-width="1.00"/>
<text transform="translate(379.50,483.78) scale(1,1.080)" font-size="12.00" text-anchor="end" fill="#3a3a3a" stroke="#3a3a3a" stroke-width="0.08">1</text>
<line x1="383.80" y1="453.90" x2="386.30" y2="453.90" stroke="#7a7a7a" stroke-width="1.00"/>
<text transform="translate(379.50,458.98) scale(1,1.080)" font-size="12.00" text-anchor="end" fill="#3a3a3a" stroke="#3a3a3a" stroke-width="0.08">2</text>
<line x1="383.80" y1="429.10" x2="386.30" y2="429.10" stroke="#7a7a7a" stroke-width="1.00"/>
<text transform="translate(379.50,434.18) scale(1,1.080)" font-size="12.00" text-anchor="end" fill="#3a3a3a" stroke="#3a3a3a" stroke-width="0.08">3</text>
<line x1="383.80" y1="404.30" x2="386.30" y2="404.30" stroke="#7a7a7a" stroke-width="1.00"/>
<text transform="translate(379.50,409.38) scale(1,1.080)" font-size="12.00" text-anchor="end" fill="#3a3a3a" stroke="#3a3a3a" stroke-width="0.08">4</text>
<line x1="383.80" y1="379.50" x2="386.30" y2="379.50" stroke="#7a7a7a" stroke-width="1.00"/>
<text transform="translate(379.50,384.58) scale(1,1.080)" font-size="12.00" text-anchor="end" fill="#3a3a3a" stroke="#3a3a3a" stroke-width="0.08">5</text>
<line x1="383.80" y1="354.70" x2="386.30" y2="354.70" stroke="#7a7a7a" stroke-width="1.00"/>
<text transform="translate(379.50,359.78) scale(1,1.080)" font-size="12.00" text-anchor="end" fill="#3a3a3a" stroke="#3a3a3a" stroke-width="0.08">6</text>
<line x1="383.80" y1="329.90" x2="386.30" y2="329.90" stroke="#7a7a7a" stroke-width="1.00"/>
<text transform="translate(379.50,334.98) scale(1,1.080)" font-size="12.00" text-anchor="end" fill="#3a3a3a" stroke="#3a3a3a" stroke-width="0.08">7</text>
<line x1="383.80" y1="305.10" x2="386.30" y2="305.10" stroke="#7a7a7a" stroke-width="1.00"/>
<text transform="translate(379.50,310.18) scale(1,1.080)" font-size="12.00" text-anchor="end" fill="#3a3a3a" stroke="#3a3a3a" stroke-width="0.08">8</text>
<line x1="383.80" y1="280.30" x2="386.30" y2="280.30" stroke="#7a7a7a" stroke-width="1.00"/>
<text transform="translate(379.50,285.38) scale(1,1.080)" font-size="12.00" text-anchor="end" fill="#3a3a3a" stroke="#3a3a3a" stroke-width="0.08">9</text>
<line x1="383.80" y1="503.50" x2="383.80" y2="501.00" stroke="#7a7a7a" stroke-width="1.00"/>
<text transform="translate(383.80,520.28) scale(1,1.080)" font-size="12.00" text-anchor="middle" fill="#3a3a3a" stroke="#3a3a3a" stroke-width="0.08">0</text>
<line x1="442.18" y1="503.50" x2="442.18" y2="501.00" stroke="#7a7a7a" stroke-width="1.00"/>
<text transform="translate(442.18,520.28) scale(1,1.080)" font-size="12.00" text-anchor="middle" fill="#3a3a3a" stroke="#3a3a3a" stroke-width="0.08">60</text>
<line x1="500.56" y1="503.50" x2="500.56" y2="501.00" stroke="#7a7a7a" stroke-width="1.00"/>
<text transform="translate(500.56,520.28) scale(1,1.080)" font-size="12.00" text-anchor="middle" fill="#3a3a3a" stroke="#3a3a3a" stroke-width="0.08">120</text>
<line x1="558.94" y1="503.50" x2="558.94" y2="501.00" stroke="#7a7a7a" stroke-width="1.00"/>
<text transform="translate(558.94,520.28) scale(1,1.080)" font-size="12.00" text-anchor="middle" fill="#3a3a3a" stroke="#3a3a3a" stroke-width="0.08">180</text>
<line x1="617.32" y1="503.50" x2="617.32" y2="501.00" stroke="#7a7a7a" stroke-width="1.00"/>
<text transform="translate(617.32,520.28) scale(1,1.080)" font-size="12.00" text-anchor="middle" fill="#3a3a3a" stroke="#3a3a3a" stroke-width="0.08">240</text>
<line x1="646.51" y1="503.50" x2="646.51" y2="501.00" stroke="#7a7a7a" stroke-width="1.00"/>
<text transform="translate(646.51,520.28) scale(1,1.080)" font-size="12.00" text-anchor="middle" fill="#3a3a3a" stroke="#3a3a3a" stroke-width="0.08">270</text>
<line x1="383.80" y1="503.50" x2="646.51" y2="406.78" stroke="#f03c3c" stroke-width="1.70" stroke-linecap="round"/>
<line x1="383.80" y1="503.50" x2="646.51" y2="474.73" stroke="#3ce63c" stroke-width="1.70" stroke-linecap="round"/>
<line x1="383.80" y1="503.50" x2="646.51" y2="401.32" stroke="#ee3cee" stroke-width="1.70" stroke-linecap="round"/>
<line x1="383.80" y1="503.50" x2="646.51" y2="429.10" stroke="#2e2e2e" stroke-width="1.70" stroke-linecap="round"/>
<line x1="383.80" y1="503.50" x2="646.51" y2="423.64" stroke="#2e2e2e" stroke-width="1.70" stroke-linecap="round"/>
<line x1="383.80" y1="503.50" x2="646.51" y2="420.92" stroke="#2e2e2e" stroke-width="1.70" stroke-linecap="round"/>
<line x1="383.80" y1="503.50" x2="646.51" y2="413.48" stroke="#2e2e2e" stroke-width="1.70" stroke-linecap="round"/>
<line x1="383.80" y1="503.50" x2="646.51" y2="385.95" stroke="#2e2e2e" stroke-width="1.70" stroke-linecap="round"/>
<line x1="383.80" y1="503.50" x2="646.51" y2="283.77" stroke="#2e2e2e" stroke-width="1.70" stroke-linecap="round"/>
<text transform="translate(653.00,287.48) scale(1,1.080)" font-size="12.00" text-anchor="start" fill="#3a3a3a" stroke="#3a3a3a" stroke-width="0.08">V=0.5</text>
<text transform="translate(653.00,388.38) scale(1,1.080)" font-size="12.00" text-anchor="start" fill="#3a3a3a" stroke="#3a3a3a" stroke-width="0.08">V=0.6</text>
<text transform="translate(653.00,413.48) scale(1,1.080)" font-size="12.00" text-anchor="start" fill="#3a3a3a" stroke="#3a3a3a" stroke-width="0.08">V=0.7</text>
<text transform="translate(653.00,421.88) scale(1,1.080)" font-size="12.00" text-anchor="start" fill="#3a3a3a" stroke="#3a3a3a" stroke-width="0.08">V=0.8</text>
<text transform="translate(653.00,432.08) scale(1,1.080)" font-size="12.00" text-anchor="start" fill="#3a3a3a" stroke="#3a3a3a" stroke-width="0.08">V=0.9</text>
<text transform="translate(653.00,441.58) scale(1,1.080)" font-size="12.00" text-anchor="start" fill="#3a3a3a" stroke="#3a3a3a" stroke-width="0.08">V=1.0</text>
<rect x="388.50" y="294.00" width="117.50" height="68.40" fill="#fff" stroke="#7a7a7a" stroke-width="1"/>
<line x1="391.00" y1="304.40" x2="417.00" y2="304.40" stroke="#f03c3c" stroke-width="1.50"/>
<text transform="translate(420.50,309.28) scale(1,1.080)" font-size="13.70" text-anchor="start" fill="#3a3a3a" stroke="#3a3a3a" stroke-width="0.08">Semicircle</text>
<line x1="391.00" y1="320.30" x2="417.00" y2="320.30" stroke="#3ce63c" stroke-width="1.50"/>
<text transform="translate(420.50,325.18) scale(1,1.080)" font-size="13.70" text-anchor="start" fill="#3a3a3a" stroke="#3a3a3a" stroke-width="0.08">Semi-Circular</text>
<line x1="391.00" y1="336.90" x2="417.00" y2="336.90" stroke="#ee3cee" stroke-width="1.50"/>
<text transform="translate(420.50,341.78) scale(1,1.080)" font-size="13.70" text-anchor="start" fill="#3a3a3a" stroke="#3a3a3a" stroke-width="0.08">Full Circle</text>
<line x1="391.00" y1="353.50" x2="417.00" y2="353.50" stroke="#2e2e2e" stroke-width="1.50"/>
<text transform="translate(420.50,358.38) scale(1,1.080)" font-size="13.70" text-anchor="start" fill="#3a3a3a" stroke="#3a3a3a" stroke-width="0.08" textLength="81.7" lengthAdjust="spacingAndGlyphs">Tangent Circle</text>
<text transform="translate(346.70,280.20) scale(1,1.000)" font-size="18.00" text-anchor="start" fill="#111" stroke="#111" stroke-width="0.08" font-weight="bold">(d)</text>
<text transform="translate(357.00,391.00) rotate(-90) scale(1,1.080)" y="4.62" font-size="14.00" text-anchor="middle" fill="#3a3a3a" stroke="#3a3a3a" stroke-width="0.08" textLength="168.0" lengthAdjust="spacingAndGlyphs">Passive Tensile Torque M<tspan baseline-shift="sub" font-size="75%">b</tspan>(N)</text>
<text transform="translate(528.90,537.49) scale(1,1.080)" font-size="14.00" text-anchor="middle" fill="#3a3a3a" stroke="#3a3a3a" stroke-width="0.08" textLength="154.0" lengthAdjust="spacingAndGlyphs">Overall Bending Angle &#952;(&#176;)</text>
<line x1="31.00" y1="553.22" x2="31.00" y2="785.20" stroke="#7a7a7a" stroke-width="1.10"/>
<line x1="31.00" y1="785.20" x2="309.01" y2="785.20" stroke="#7a7a7a" stroke-width="1.10"/>
<line x1="31.00" y1="785.20" x2="33.50" y2="785.20" stroke="#7a7a7a" stroke-width="1.00"/>
<text transform="translate(28.00,789.56) scale(1,1.080)" font-size="10.00" text-anchor="end" fill="#3a3a3a" stroke="#3a3a3a" stroke-width="0.08">0</text>
<line x1="31.00" y1="752.06" x2="33.50" y2="752.06" stroke="#7a7a7a" stroke-width="1.00"/>
<text transform="translate(28.00,756.42) scale(1,1.080)" font-size="10.00" text-anchor="end" fill="#3a3a3a" stroke="#3a3a3a" stroke-width="0.08">2</text>
<line x1="31.00" y1="718.92" x2="33.50" y2="718.92" stroke="#7a7a7a" stroke-width="1.00"/>
<text transform="translate(28.00,723.28) scale(1,1.080)" font-size="10.00" text-anchor="end" fill="#3a3a3a" stroke="#3a3a3a" stroke-width="0.08">4</text>
<line x1="31.00" y1="685.78" x2="33.50" y2="685.78" stroke="#7a7a7a" stroke-width="1.00"/>
<text transform="translate(28.00,690.14) scale(1,1.080)" font-size="10.00" text-anchor="end" fill="#3a3a3a" stroke="#3a3a3a" stroke-width="0.08">6</text>
<line x1="31.00" y1="652.64" x2="33.50" y2="652.64" stroke="#7a7a7a" stroke-width="1.00"/>
<text transform="translate(28.00,657.00) scale(1,1.080)" font-size="10.00" text-anchor="end" fill="#3a3a3a" stroke="#3a3a3a" stroke-width="0.08">8</text>
<line x1="31.00" y1="619.50" x2="33.50" y2="619.50" stroke="#7a7a7a" stroke-width="1.00"/>
<text transform="translate(28.00,623.86) scale(1,1.080)" font-size="10.00" text-anchor="end" fill="#3a3a3a" stroke="#3a3a3a" stroke-width="0.08">10</text>
<line x1="31.00" y1="586.36" x2="33.50" y2="586.36" stroke="#7a7a7a" stroke-width="1.00"/>
<text transform="translate(28.00,590.72) scale(1,1.080)" font-size="10.00" text-anchor="end" fill="#3a3a3a" stroke="#3a3a3a" stroke-width="0.08">12</text>
<line x1="31.00" y1="553.22" x2="33.50" y2="553.22" stroke="#7a7a7a" stroke-width="1.00"/>
<text transform="translate(28.00,557.58) scale(1,1.080)" font-size="10.00" text-anchor="end" fill="#3a3a3a" stroke="#3a3a3a" stroke-width="0.08">14</text>
<line x1="31.00" y1="785.20" x2="31.00" y2="782.70" stroke="#7a7a7a" stroke-width="1.00"/>
<text transform="translate(31.00,798.96) scale(1,1.080)" font-size="10.00" text-anchor="middle" fill="#3a3a3a" stroke="#3a3a3a" stroke-width="0.08">0</text>
<line x1="86.60" y1="785.20" x2="86.60" y2="782.70" stroke="#7a7a7a" stroke-width="1.00"/>
<text transform="translate(86.60,798.96) scale(1,1.080)" font-size="10.00" text-anchor="middle" fill="#3a3a3a" stroke="#3a3a3a" stroke-width="0.08">60</text>
<line x1="142.20" y1="785.20" x2="142.20" y2="782.70" stroke="#7a7a7a" stroke-width="1.00"/>
<text transform="translate(142.20,798.96) scale(1,1.080)" font-size="10.00" text-anchor="middle" fill="#3a3a3a" stroke="#3a3a3a" stroke-width="0.08">120</text>
<line x1="197.81" y1="785.20" x2="197.81" y2="782.70" stroke="#7a7a7a" stroke-width="1.00"/>
<text transform="translate(197.81,798.96) scale(1,1.080)" font-size="10.00" text-anchor="middle" fill="#3a3a3a" stroke="#3a3a3a" stroke-width="0.08">180</text>
<line x1="253.41" y1="785.20" x2="253.41" y2="782.70" stroke="#7a7a7a" stroke-width="1.00"/>
<text transform="translate(253.41,798.96) scale(1,1.080)" font-size="10.00" text-anchor="middle" fill="#3a3a3a" stroke="#3a3a3a" stroke-width="0.08">240</text>
<line x1="281.21" y1="785.20" x2="281.21" y2="782.70" stroke="#7a7a7a" stroke-width="1.00"/>
<text transform="translate(281.21,798.96) scale(1,1.080)" font-size="10.00" text-anchor="middle" fill="#3a3a3a" stroke="#3a3a3a" stroke-width="0.08">270</text>
<line x1="31.00" y1="785.20" x2="281.21" y2="680.64" stroke="#f03c3c" stroke-width="1.70" stroke-linecap="round"/>
<line x1="31.00" y1="785.20" x2="281.21" y2="667.72" stroke="#3ce63c" stroke-width="1.70" stroke-linecap="round"/>
<line x1="31.00" y1="785.20" x2="281.21" y2="673.02" stroke="#ee3cee" stroke-width="1.70" stroke-linecap="round"/>
<line x1="31.00" y1="785.20" x2="281.21" y2="662.75" stroke="#2e2e2e" stroke-width="1.70" stroke-linecap="round"/>
<line x1="31.00" y1="785.20" x2="281.21" y2="656.78" stroke="#2e2e2e" stroke-width="1.70" stroke-linecap="round"/>
<line x1="31.00" y1="785.20" x2="281.21" y2="648.33" stroke="#2e2e2e" stroke-width="1.70" stroke-linecap="round"/>
<line x1="31.00" y1="785.20" x2="281.21" y2="635.41" stroke="#2e2e2e" stroke-width="1.70" stroke-linecap="round"/>
<line x1="31.00" y1="785.20" x2="281.21" y2="615.52" stroke="#2e2e2e" stroke-width="1.70" stroke-linecap="round"/>
<line x1="31.00" y1="785.20" x2="281.21" y2="583.38" stroke="#2e2e2e" stroke-width="1.70" stroke-linecap="round"/>
<text transform="translate(289.40,587.10) scale(1,1.080)" font-size="11.50" text-anchor="start" fill="#3a3a3a" stroke="#3a3a3a" stroke-width="0.08">V=0.5</text>
<text transform="translate(289.40,615.00) scale(1,1.080)" font-size="11.50" text-anchor="start" fill="#3a3a3a" stroke="#3a3a3a" stroke-width="0.08">V=0.6</text>
<text transform="translate(289.40,632.30) scale(1,1.080)" font-size="11.50" text-anchor="start" fill="#3a3a3a" stroke="#3a3a3a" stroke-width="0.08">V=0.7</text>
<text transform="translate(289.40,643.30) scale(1,1.080)" font-size="11.50" text-anchor="start" fill="#3a3a3a" stroke="#3a3a3a" stroke-width="0.08">V=0.8</text>
<text transform="translate(289.40,654.10) scale(1,1.080)" font-size="11.50" text-anchor="start" fill="#3a3a3a" stroke="#3a3a3a" stroke-width="0.08">V=0.9</text>
<text transform="translate(289.40,665.60) scale(1,1.080)" font-size="11.50" text-anchor="start" fill="#3a3a3a" stroke="#3a3a3a" stroke-width="0.08">V=1.0</text>
<rect x="47.70" y="575.80" width="88.30" height="54.70" fill="#fff" stroke="#7a7a7a" stroke-width="1"/>
<line x1="50.20" y1="583.80" x2="71.00" y2="583.80" stroke="#f03c3c" stroke-width="1.50"/>
<text transform="translate(73.70,587.72) scale(1,1.080)" font-size="11.00" text-anchor="start" fill="#3a3a3a" stroke="#3a3a3a" stroke-width="0.08">Semicircular</text>
<line x1="50.20" y1="597.00" x2="71.00" y2="597.00" stroke="#3ce63c" stroke-width="1.50"/>
<text transform="translate(73.70,600.92) scale(1,1.080)" font-size="11.00" text-anchor="start" fill="#3a3a3a" stroke="#3a3a3a" stroke-width="0.08">Semi-circular</text>
<line x1="50.20" y1="609.90" x2="71.00" y2="609.90" stroke="#ee3cee" stroke-width="1.50"/>
<text transform="translate(73.70,613.82) scale(1,1.080)" font-size="11.00" text-anchor="start" fill="#3a3a3a" stroke="#3a3a3a" stroke-width="0.08">Full Circle"</text>
<line x1="50.20" y1="623.00" x2="71.00" y2="623.00" stroke="#2e2e2e" stroke-width="1.50"/>
<text transform="translate(73.70,626.92) scale(1,1.080)" font-size="11.00" text-anchor="start" fill="#3a3a3a" stroke="#3a3a3a" stroke-width="0.08">Rectangular</text>
<text transform="translate(2.00,542.20) scale(1,1.000)" font-size="18.00" text-anchor="start" fill="#111" stroke="#111" stroke-width="0.08" font-weight="bold">(e)</text>
<text transform="translate(9.30,669.20) rotate(-90) scale(1,1.080)" y="3.63" font-size="11.00" text-anchor="middle" fill="#3a3a3a" stroke="#3a3a3a" stroke-width="0.08" textLength="207.0" lengthAdjust="spacingAndGlyphs">Passive Tensile Torque/Active Tensile Torque</text>
<text transform="translate(169.00,812.92) scale(1,1.080)" font-size="11.00" text-anchor="middle" fill="#3a3a3a" stroke="#3a3a3a" stroke-width="0.08" textLength="128.0" lengthAdjust="spacingAndGlyphs">Overall Bending Angle&#160; &#952; (&#176;)</text>
<line x1="377.60" y1="560.20" x2="377.60" y2="785.80" stroke="#7a7a7a" stroke-width="1.10"/>
<line x1="377.60" y1="785.80" x2="668.60" y2="785.80" stroke="#7a7a7a" stroke-width="1.10"/>
<line x1="377.60" y1="785.80" x2="380.10" y2="785.80" stroke="#7a7a7a" stroke-width="1.00"/>
<text transform="translate(374.00,790.16) scale(1,1.080)" font-size="10.00" text-anchor="end" fill="#3a3a3a" stroke="#3a3a3a" stroke-width="0.08">0</text>
<line x1="377.60" y1="710.60" x2="380.10" y2="710.60" stroke="#7a7a7a" stroke-width="1.00"/>
<text transform="translate(374.00,714.96) scale(1,1.080)" font-size="10.00" text-anchor="end" fill="#3a3a3a" stroke="#3a3a3a" stroke-width="0.08">5</text>
<line x1="377.60" y1="635.40" x2="380.10" y2="635.40" stroke="#7a7a7a" stroke-width="1.00"/>
<text transform="translate(374.00,639.76) scale(1,1.080)" font-size="10.00" text-anchor="end" fill="#3a3a3a" stroke="#3a3a3a" stroke-width="0.08">10</text>
<line x1="377.60" y1="560.20" x2="380.10" y2="560.20" stroke="#7a7a7a" stroke-width="1.00"/>
<text transform="translate(374.00,564.56) scale(1,1.080)" font-size="10.00" text-anchor="end" fill="#3a3a3a" stroke="#3a3a3a" stroke-width="0.08">15</text>
<line x1="377.60" y1="785.80" x2="377.60" y2="783.30" stroke="#7a7a7a" stroke-width="1.00"/>
<text transform="translate(377.60,798.76) scale(1,1.080)" font-size="10.00" text-anchor="middle" fill="#3a3a3a" stroke="#3a3a3a" stroke-width="0.08">0</text>
<line x1="435.80" y1="785.80" x2="435.80" y2="783.30" stroke="#7a7a7a" stroke-width="1.00"/>
<text transform="translate(435.80,798.76) scale(1,1.080)" font-size="10.00" text-anchor="middle" fill="#3a3a3a" stroke="#3a3a3a" stroke-width="0.08">60</text>
<line x1="494.00" y1="785.80" x2="494.00" y2="783.30" stroke="#7a7a7a" stroke-width="1.00"/>
<text transform="translate(494.00,798.76) scale(1,1.080)" font-size="10.00" text-anchor="middle" fill="#3a3a3a" stroke="#3a3a3a" stroke-width="0.08">120</text>
<line x1="552.20" y1="785.80" x2="552.20" y2="783.30" stroke="#7a7a7a" stroke-width="1.00"/>
<text transform="translate(552.20,798.76) scale(1,1.080)" font-size="10.00" text-anchor="middle" fill="#3a3a3a" stroke="#3a3a3a" stroke-width="0.08">180</text>
<line x1="610.40" y1="785.80" x2="610.40" y2="783.30" stroke="#7a7a7a" stroke-width="1.00"/>
<text transform="translate(610.40,798.76) scale(1,1.080)" font-size="10.00" text-anchor="middle" fill="#3a3a3a" stroke="#3a3a3a" stroke-width="0.08">240</text>
<line x1="639.50" y1="785.80" x2="639.50" y2="783.30" stroke="#7a7a7a" stroke-width="1.00"/>
<text transform="translate(639.50,798.76) scale(1,1.080)" font-size="10.00" text-anchor="middle" fill="#3a3a3a" stroke="#3a3a3a" stroke-width="0.08">270</text>
<line x1="377.60" y1="785.80" x2="639.50" y2="690.90" stroke="#f03c3c" stroke-width="1.70" stroke-linecap="round"/>
<line x1="377.60" y1="785.80" x2="639.50" y2="684.43" stroke="#ee3cee" stroke-width="1.70" stroke-linecap="round"/>
<line x1="377.60" y1="785.80" x2="639.50" y2="676.01" stroke="#2e2e2e" stroke-width="1.70" stroke-linecap="round"/>
<line x1="377.60" y1="785.80" x2="639.50" y2="677.51" stroke="#3ce63c" stroke-width="1.70" stroke-linecap="round"/>
<line x1="377.60" y1="785.80" x2="639.50" y2="668.79" stroke="#2e2e2e" stroke-width="1.70" stroke-linecap="round"/>
<line x1="377.60" y1="785.80" x2="639.50" y2="652.40" stroke="#2e2e2e" stroke-width="1.70" stroke-linecap="round"/>
<line x1="377.60" y1="785.80" x2="639.50" y2="638.11" stroke="#2e2e2e" stroke-width="1.70" stroke-linecap="round"/>
<line x1="377.60" y1="785.80" x2="639.50" y2="600.81" stroke="#2e2e2e" stroke-width="1.70" stroke-linecap="round"/>
<line x1="377.60" y1="785.80" x2="639.50" y2="561.25" stroke="#2e2e2e" stroke-width="1.70" stroke-linecap="round"/>
<text transform="translate(644.60,562.30) scale(1,1.080)" font-size="11.50" text-anchor="start" fill="#3a3a3a" stroke="#3a3a3a" stroke-width="0.08">V=0.5</text>
<text transform="translate(647.00,604.00) scale(1,1.080)" font-size="11.50" text-anchor="start" fill="#3a3a3a" stroke="#3a3a3a" stroke-width="0.08" textLength="29.8" lengthAdjust="spacingAndGlyphs">V=0.6</text>
<text transform="translate(648.00,638.50) scale(1,1.080)" font-size="11.50" text-anchor="start" fill="#3a3a3a" stroke="#3a3a3a" stroke-width="0.08" textLength="29.0" lengthAdjust="spacingAndGlyphs">V=0.7</text>
<text transform="translate(648.00,651.70) scale(1,1.080)" font-size="11.50" text-anchor="start" fill="#3a3a3a" stroke="#3a3a3a" stroke-width="0.08" textLength="29.0" lengthAdjust="spacingAndGlyphs">V=0.8</text>
<text transform="translate(648.00,665.00) scale(1,1.080)" font-size="11.50" text-anchor="start" fill="#3a3a3a" stroke="#3a3a3a" stroke-width="0.08" textLength="29.0" lengthAdjust="spacingAndGlyphs">V=0.9</text>
<text transform="translate(648.20,679.70) scale(1,1.080)" font-size="11.50" text-anchor="start" fill="#3a3a3a" stroke="#3a3a3a" stroke-width="0.08" textLength="30.0" lengthAdjust="spacingAndGlyphs">V=1.0</text>
<rect x="396.70" y="582.50" width="89.70" height="51.90" fill="#fff" stroke="#7a7a7a" stroke-width="1"/>
<line x1="399.00" y1="590.20" x2="418.90" y2="590.20" stroke="#f03c3c" stroke-width="1.50"/>
<text transform="translate(421.20,593.98) scale(1,1.080)" font-size="10.60" text-anchor="start" fill="#3a3a3a" stroke="#3a3a3a" stroke-width="0.08">Semicircle</text>
<line x1="399.00" y1="602.40" x2="418.90" y2="602.40" stroke="#3ce63c" stroke-width="1.50"/>
<text transform="translate(421.20,606.18) scale(1,1.080)" font-size="10.60" text-anchor="start" fill="#3a3a3a" stroke="#3a3a3a" stroke-width="0.08">Semi-circular</text>
<line x1="399.00" y1="614.90" x2="418.90" y2="614.90" stroke="#ee3cee" stroke-width="1.50"/>
<text transform="translate(421.20,618.68) scale(1,1.080)" font-size="10.60" text-anchor="start" fill="#3a3a3a" stroke="#3a3a3a" stroke-width="0.08">Full Circle</text>
<line x1="399.00" y1="627.70" x2="418.90" y2="627.70" stroke="#2e2e2e" stroke-width="1.50"/>
<text transform="translate(421.20,631.48) scale(1,1.080)" font-size="10.60" text-anchor="start" fill="#3a3a3a" stroke="#3a3a3a" stroke-width="0.08" textLength="63.2" lengthAdjust="spacingAndGlyphs">Tangent Circle</text>
<text transform="translate(365.80,549.30) scale(1,1.000)" font-size="18.00" text-anchor="start" fill="#111" stroke="#111" stroke-width="0.08" font-weight="bold">(f)</text>
<text transform="translate(357.40,671.50) rotate(-90) scale(1,1.080)" y="3.47" font-size="10.50" text-anchor="middle" fill="#3a3a3a" stroke="#3a3a3a" stroke-width="0.08" textLength="255.5" lengthAdjust="spacingAndGlyphs">Passive Tensile Moment/Active Tensile Moment Coefficient</text>
<text transform="translate(523.20,811.92) scale(1,1.080)" font-size="11.00" text-anchor="middle" fill="#3a3a3a" stroke="#3a3a3a" stroke-width="0.08" textLength="117.5" lengthAdjust="spacingAndGlyphs">Overall Bending Angle <tspan font-style="italic">&#952;</tspan>(&#176;)</text>
</g></svg>
</body></html>
